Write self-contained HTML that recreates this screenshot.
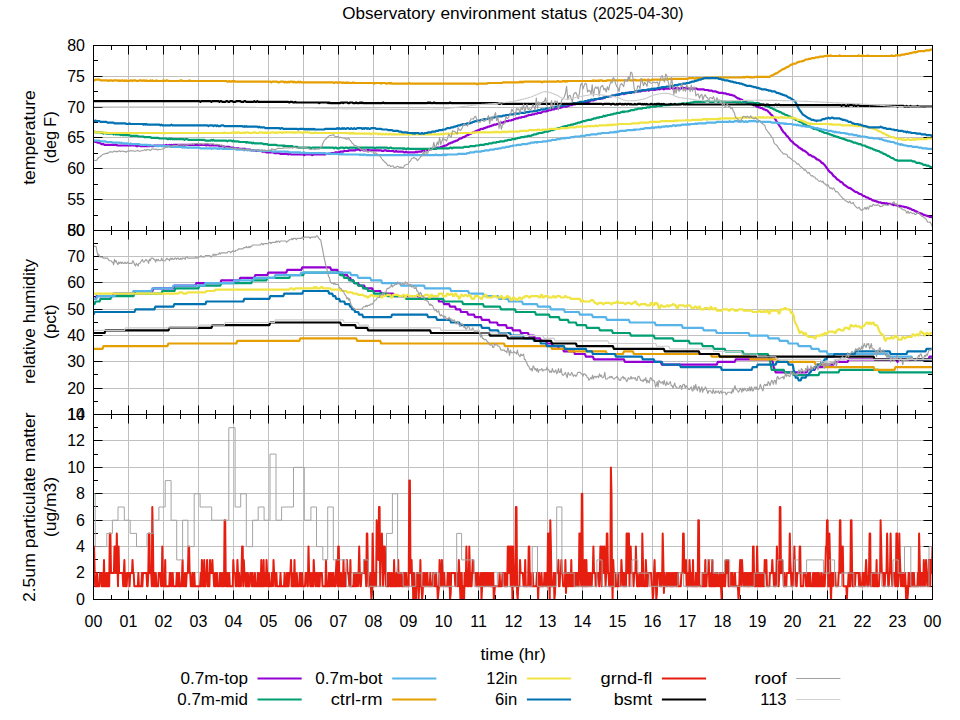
<!DOCTYPE html>
<html><head><meta charset="utf-8"><title>Observatory environment status</title>
<style>html,body{margin:0;padding:0;background:#fff;}svg{display:block}text{font-family:"Liberation Sans",sans-serif;font-size:16px;fill:#000}</style>
</head><body>
<svg width="960" height="720" viewBox="0 0 960 720">
<rect width="960" height="720" fill="#fff"/>
<text x="342.30" y="18.7" textLength="92.70" lengthAdjust="spacingAndGlyphs">Observatory</text>
<text x="440.40" y="18.7" textLength="95.20" lengthAdjust="spacingAndGlyphs">environment</text>
<text x="540.70" y="18.7" textLength="46.50" lengthAdjust="spacingAndGlyphs">status</text>
<text x="592.80" y="18.7" textLength="90.60" lengthAdjust="spacingAndGlyphs">(2025-04-30)</text>
<clipPath id="c1"><rect x="93.5" y="45.5" width="839.0" height="185.0"/></clipPath>
<clipPath id="c2"><rect x="93.5" y="230.5" width="839.0" height="184.0"/></clipPath>
<clipPath id="c3"><rect x="93.5" y="414.5" width="839.0" height="185.5"/></clipPath>
<line x1="128.5" y1="45.5" x2="128.5" y2="230.5" stroke="#c0c0c0" stroke-width="1"/>
<line x1="163.5" y1="45.5" x2="163.5" y2="230.5" stroke="#c0c0c0" stroke-width="1"/>
<line x1="198.5" y1="45.5" x2="198.5" y2="230.5" stroke="#c0c0c0" stroke-width="1"/>
<line x1="233.5" y1="45.5" x2="233.5" y2="230.5" stroke="#c0c0c0" stroke-width="1"/>
<line x1="268.5" y1="45.5" x2="268.5" y2="230.5" stroke="#c0c0c0" stroke-width="1"/>
<line x1="303.5" y1="45.5" x2="303.5" y2="230.5" stroke="#c0c0c0" stroke-width="1"/>
<line x1="338.5" y1="45.5" x2="338.5" y2="230.5" stroke="#c0c0c0" stroke-width="1"/>
<line x1="373.5" y1="45.5" x2="373.5" y2="230.5" stroke="#c0c0c0" stroke-width="1"/>
<line x1="408.5" y1="45.5" x2="408.5" y2="230.5" stroke="#c0c0c0" stroke-width="1"/>
<line x1="443.5" y1="45.5" x2="443.5" y2="230.5" stroke="#c0c0c0" stroke-width="1"/>
<line x1="478.5" y1="45.5" x2="478.5" y2="230.5" stroke="#c0c0c0" stroke-width="1"/>
<line x1="513.5" y1="45.5" x2="513.5" y2="230.5" stroke="#c0c0c0" stroke-width="1"/>
<line x1="547.5" y1="45.5" x2="547.5" y2="230.5" stroke="#c0c0c0" stroke-width="1"/>
<line x1="582.5" y1="45.5" x2="582.5" y2="230.5" stroke="#c0c0c0" stroke-width="1"/>
<line x1="617.5" y1="45.5" x2="617.5" y2="230.5" stroke="#c0c0c0" stroke-width="1"/>
<line x1="652.5" y1="45.5" x2="652.5" y2="230.5" stroke="#c0c0c0" stroke-width="1"/>
<line x1="687.5" y1="45.5" x2="687.5" y2="230.5" stroke="#c0c0c0" stroke-width="1"/>
<line x1="722.5" y1="45.5" x2="722.5" y2="230.5" stroke="#c0c0c0" stroke-width="1"/>
<line x1="757.5" y1="45.5" x2="757.5" y2="230.5" stroke="#c0c0c0" stroke-width="1"/>
<line x1="792.5" y1="45.5" x2="792.5" y2="230.5" stroke="#c0c0c0" stroke-width="1"/>
<line x1="827.5" y1="45.5" x2="827.5" y2="230.5" stroke="#c0c0c0" stroke-width="1"/>
<line x1="862.5" y1="45.5" x2="862.5" y2="230.5" stroke="#c0c0c0" stroke-width="1"/>
<line x1="897.5" y1="45.5" x2="897.5" y2="230.5" stroke="#c0c0c0" stroke-width="1"/>
<line x1="93.5" y1="199.5" x2="932.5" y2="199.5" stroke="#c0c0c0" stroke-width="1"/>
<line x1="93.5" y1="168.5" x2="932.5" y2="168.5" stroke="#c0c0c0" stroke-width="1"/>
<line x1="93.5" y1="137.5" x2="932.5" y2="137.5" stroke="#c0c0c0" stroke-width="1"/>
<line x1="93.5" y1="107.5" x2="932.5" y2="107.5" stroke="#c0c0c0" stroke-width="1"/>
<line x1="93.5" y1="76.5" x2="932.5" y2="76.5" stroke="#c0c0c0" stroke-width="1"/>
<path d="M93.5 230.5v-9 M93.5 45.5v9 M111.5 230.5v-4.5 M111.5 45.5v4.5 M128.5 230.5v-9 M128.5 45.5v9 M146.5 230.5v-4.5 M146.5 45.5v4.5 M163.5 230.5v-9 M163.5 45.5v9 M180.5 230.5v-4.5 M180.5 45.5v4.5 M198.5 230.5v-9 M198.5 45.5v9 M215.5 230.5v-4.5 M215.5 45.5v4.5 M233.5 230.5v-9 M233.5 45.5v9 M250.5 230.5v-4.5 M250.5 45.5v4.5 M268.5 230.5v-9 M268.5 45.5v9 M285.5 230.5v-4.5 M285.5 45.5v4.5 M303.5 230.5v-9 M303.5 45.5v9 M320.5 230.5v-4.5 M320.5 45.5v4.5 M338.5 230.5v-9 M338.5 45.5v9 M355.5 230.5v-4.5 M355.5 45.5v4.5 M373.5 230.5v-9 M373.5 45.5v9 M390.5 230.5v-4.5 M390.5 45.5v4.5 M408.5 230.5v-9 M408.5 45.5v9 M425.5 230.5v-4.5 M425.5 45.5v4.5 M443.5 230.5v-9 M443.5 45.5v9 M460.5 230.5v-4.5 M460.5 45.5v4.5 M478.5 230.5v-9 M478.5 45.5v9 M495.5 230.5v-4.5 M495.5 45.5v4.5 M513.5 230.5v-9 M513.5 45.5v9 M530.5 230.5v-4.5 M530.5 45.5v4.5 M547.5 230.5v-9 M547.5 45.5v9 M565.5 230.5v-4.5 M565.5 45.5v4.5 M582.5 230.5v-9 M582.5 45.5v9 M600.5 230.5v-4.5 M600.5 45.5v4.5 M617.5 230.5v-9 M617.5 45.5v9 M635.5 230.5v-4.5 M635.5 45.5v4.5 M652.5 230.5v-9 M652.5 45.5v9 M670.5 230.5v-4.5 M670.5 45.5v4.5 M687.5 230.5v-9 M687.5 45.5v9 M705.5 230.5v-4.5 M705.5 45.5v4.5 M722.5 230.5v-9 M722.5 45.5v9 M740.5 230.5v-4.5 M740.5 45.5v4.5 M757.5 230.5v-9 M757.5 45.5v9 M775.5 230.5v-4.5 M775.5 45.5v4.5 M792.5 230.5v-9 M792.5 45.5v9 M810.5 230.5v-4.5 M810.5 45.5v4.5 M827.5 230.5v-9 M827.5 45.5v9 M845.5 230.5v-4.5 M845.5 45.5v4.5 M862.5 230.5v-9 M862.5 45.5v9 M880.5 230.5v-4.5 M880.5 45.5v4.5 M897.5 230.5v-9 M897.5 45.5v9 M915.5 230.5v-4.5 M915.5 45.5v4.5 M932.5 230.5v-9 M932.5 45.5v9 M93.5 230.5h9 M932.5 230.5h-9 M93.5 199.5h9 M932.5 199.5h-9 M93.5 168.5h9 M932.5 168.5h-9 M93.5 137.5h9 M932.5 137.5h-9 M93.5 107.5h9 M932.5 107.5h-9 M93.5 76.5h9 M932.5 76.5h-9 M93.5 45.5h9 M932.5 45.5h-9 M93.5 215.5h4.5 M932.5 215.5h-4.5 M93.5 184.5h4.5 M932.5 184.5h-4.5 M93.5 153.5h4.5 M932.5 153.5h-4.5 M93.5 122.5h4.5 M932.5 122.5h-4.5 M93.5 91.5h4.5 M932.5 91.5h-4.5 M93.5 60.5h4.5 M932.5 60.5h-4.5" stroke="#000" stroke-width="1" fill="none"/>
<g clip-path="url(#c1)">
<path d="M93.5 141.3L94.5 141.3L95.5 142.0L96.5 142.0L97.5 142.7L98.5 142.7L99.5 142.7L100.5 143.4L101.5 144.1L102.5 144.1L103.5 144.1L104.5 144.8L105.5 144.8L106.5 144.8L107.5 144.8L108.5 144.8L109.5 144.8L110.5 144.8L111.5 144.8L112.5 144.8L113.5 144.8L114.5 144.8L115.5 144.8L116.5 144.8L117.5 145.5L118.5 145.5L119.5 145.5L120.5 145.5L121.5 145.5L122.5 145.5L123.5 145.5L124.5 145.5L125.5 145.5L126.5 145.5L127.5 145.5L128.5 145.5L129.5 145.5L130.5 145.5L131.5 145.5L132.5 145.5L133.5 145.5L134.5 145.5L135.4 145.5L136.4 146.2L137.4 146.2L138.4 145.5L139.4 145.5L140.4 146.2L141.4 146.2L142.4 146.2L143.4 146.2L144.4 146.2L145.4 146.2L146.4 146.2L147.4 146.2L148.4 146.2L149.4 146.2L150.4 145.5L151.4 146.2L152.4 146.2L153.4 146.2L154.4 145.5L155.4 145.5L156.4 145.5L157.4 145.5L158.4 145.5L159.4 145.5L160.4 145.5L161.4 145.5L162.4 145.5L163.4 145.5L164.4 145.5L165.4 145.5L166.4 144.8L167.4 145.5L168.4 145.5L169.4 144.8L170.4 145.5L171.4 144.8L172.4 145.5L173.4 144.8L174.4 144.8L175.4 144.8L176.4 144.8L177.4 144.8L178.4 144.8L179.4 144.8L180.4 144.8L181.4 144.8L182.4 144.8L183.4 144.8L184.4 144.8L185.4 144.8L186.4 144.8L187.4 144.8L188.4 144.8L189.4 144.8L190.4 144.8L191.4 144.8L192.4 144.8L193.4 144.8L194.4 144.8L195.4 144.8L196.4 144.8L197.4 144.8L198.4 144.8L199.4 144.8L200.4 144.8L201.4 144.8L202.4 144.8L203.4 144.8L204.4 144.8L205.4 144.8L206.4 145.5L207.4 144.8L208.4 144.8L209.4 145.5L210.4 145.5L211.4 145.5L212.4 144.8L213.4 145.5L214.4 145.5L215.4 145.5L216.4 145.5L217.4 145.5L218.4 145.5L219.4 146.2L220.3 146.2L221.3 146.2L222.3 146.2L223.3 146.2L224.3 146.9L225.3 146.9L226.3 146.9L227.3 146.9L228.3 146.9L229.3 146.9L230.3 147.6L231.3 147.6L232.3 147.6L233.3 147.6L234.3 148.3L235.3 148.3L236.3 148.3L237.3 148.3L238.3 148.3L239.3 148.9L240.3 148.9L241.3 148.9L242.3 148.9L243.3 148.9L244.3 148.9L245.3 148.9L246.3 149.6L247.3 149.6L248.3 149.6L249.3 149.6L250.3 149.6L251.3 150.3L252.3 150.3L253.3 150.3L254.3 150.3L255.3 150.3L256.3 151.0L257.3 150.3L258.3 151.0L259.3 151.0L260.3 151.0L261.3 151.0L262.3 151.7L263.3 151.7L264.3 151.7L265.3 151.7L266.3 152.4L267.3 152.4L268.3 152.4L269.3 152.4L270.3 152.4L271.3 152.4L272.3 152.4L273.3 152.4L274.3 153.1L275.3 153.1L276.3 153.1L277.3 153.1L278.3 153.1L279.3 153.1L280.3 153.8L281.3 153.8L282.3 153.8L283.3 153.8L284.3 153.8L285.3 153.8L286.3 153.8L287.3 153.8L288.3 154.5L289.3 153.8L290.3 153.8L291.3 154.5L292.3 154.5L293.3 154.5L294.3 154.5L295.3 154.5L296.3 154.5L297.3 154.5L298.3 154.5L299.3 154.5L300.3 154.5L301.3 154.5L302.3 154.5L303.2 154.5L304.2 155.2L305.2 154.5L306.2 154.5L307.2 154.5L308.2 154.5L309.2 154.5L310.2 154.5L311.2 154.5L312.2 155.2L313.2 154.5L314.2 154.5L315.2 154.5L316.2 154.5L317.2 154.5L318.2 154.5L319.2 154.5L320.2 154.5L321.2 154.5L322.2 154.5L323.2 154.5L324.2 154.5L325.2 154.5L326.2 153.8L327.2 153.8L328.2 153.8L329.2 153.8L330.2 153.8L331.2 153.1L332.2 153.1L333.2 153.1L334.2 153.1L335.2 152.4L336.2 152.4L337.2 152.4L338.2 152.4L339.2 152.4L340.2 151.7L341.2 151.7L342.2 151.7L343.2 151.7L344.2 151.0L345.2 151.0L346.2 151.0L347.2 151.0L348.2 151.0L349.2 150.3L350.2 150.3L351.2 150.3L352.2 150.3L353.2 150.3L354.2 150.3L355.2 150.3L356.2 149.6L357.2 149.6L358.2 149.6L359.2 149.6L360.2 150.3L361.2 149.6L362.2 149.6L363.2 150.3L364.2 150.3L365.2 150.3L366.2 150.3L367.2 150.3L368.2 149.6L369.2 150.3L370.2 150.3L371.2 150.3L372.2 150.3L373.2 150.3L374.2 150.3L375.2 150.3L376.2 150.3L377.2 150.3L378.2 150.3L379.2 150.3L380.2 150.3L381.2 150.3L382.2 151.0L383.2 151.0L384.2 150.3L385.2 150.3L386.2 150.3L387.2 151.0L388.1 151.0L389.1 151.0L390.1 151.0L391.1 151.0L392.1 151.0L393.1 151.0L394.1 151.7L395.1 151.7L396.1 151.0L397.1 151.7L398.1 151.7L399.1 151.7L400.1 151.7L401.1 151.7L402.1 151.7L403.1 151.7L404.1 152.4L405.1 152.4L406.1 151.7L407.1 152.4L408.1 152.4L409.1 152.4L410.1 152.4L411.1 152.4L412.1 152.4L413.1 152.4L414.1 152.4L415.1 152.4L416.1 151.7L417.1 152.4L418.1 151.7L419.1 151.7L420.1 151.7L421.1 151.7L422.1 151.0L423.1 151.0L424.1 151.0L425.1 150.3L426.1 150.3L427.1 150.3L428.1 149.6L429.1 149.6L430.1 148.9L431.1 148.9L432.1 148.9L433.1 148.9L434.1 148.9L435.1 148.9L436.1 148.3L437.1 147.6L438.1 147.6L439.1 147.6L440.1 147.6L441.1 146.9L442.1 146.9L443.1 146.2L444.1 146.2L445.1 145.5L446.1 145.5L447.1 144.8L448.1 144.1L449.1 143.4L450.1 143.4L451.1 142.7L452.1 142.7L453.1 142.0L454.1 141.3L455.1 141.3L456.1 140.6L457.1 140.6L458.1 139.9L459.1 139.2L460.1 138.5L461.1 138.5L462.1 137.8L463.1 137.2L464.1 137.2L465.1 136.5L466.1 135.8L467.1 135.1L468.1 135.1L469.1 134.4L470.1 133.7L471.1 133.7L472.0 133.0L473.0 132.3L474.0 132.3L475.0 131.6L476.0 130.9L477.0 130.9L478.0 130.2L479.0 130.2L480.0 129.5L481.0 128.8L482.0 128.8L483.0 128.8L484.0 128.1L485.0 128.1L486.0 127.4L487.0 127.4L488.0 126.7L489.0 126.7L490.0 126.1L491.0 126.1L492.0 125.4L493.0 125.4L494.0 124.7L495.0 124.7L496.0 124.7L497.0 124.0L498.0 124.0L499.0 123.3L500.0 123.3L501.0 122.6L502.0 122.6L503.0 122.6L504.0 121.9L505.0 121.9L506.0 121.2L507.0 121.2L508.0 121.2L509.0 120.5L510.0 120.5L511.0 120.5L512.0 119.8L513.0 119.8L514.0 119.1L515.0 119.1L516.0 118.4L517.0 118.4L518.0 118.4L519.0 117.7L520.0 117.7L521.0 117.7L522.0 117.0L523.0 117.0L524.0 117.0L525.0 116.3L526.0 116.3L527.0 115.6L528.0 115.6L529.0 115.0L530.0 115.0L531.0 115.0L532.0 114.3L533.0 114.3L534.0 114.3L535.0 113.6L536.0 113.6L537.0 113.6L538.0 112.9L539.0 112.9L540.0 112.9L541.0 112.9L542.0 112.2L543.0 111.5L544.0 111.5L545.0 111.5L546.0 111.5L547.0 110.8L548.0 110.8L549.0 110.1L550.0 110.1L551.0 110.1L552.0 109.4L553.0 109.4L554.0 109.4L555.0 108.7L555.9 108.7L556.9 108.7L557.9 108.0L558.9 108.0L559.9 108.0L560.9 107.3L561.9 107.3L562.9 106.6L563.9 106.6L564.9 106.6L565.9 106.6L566.9 106.6L567.9 105.9L568.9 105.9L569.9 105.2L570.9 105.2L571.9 105.2L572.9 104.5L573.9 104.5L574.9 104.5L575.9 103.9L576.9 103.9L577.9 103.9L578.9 103.2L579.9 103.2L580.9 103.2L581.9 102.5L582.9 102.5L583.9 102.5L584.9 102.5L585.9 101.8L586.9 101.8L587.9 101.8L588.9 101.8L589.9 101.1L590.9 100.4L591.9 100.4L592.9 100.4L593.9 100.4L594.9 99.7L595.9 99.7L596.9 99.0L597.9 99.0L598.9 99.0L599.9 99.0L600.9 98.3L601.9 98.3L602.9 98.3L603.9 97.6L604.9 97.6L605.9 96.9L606.9 96.9L607.9 96.9L608.9 96.2L609.9 96.2L610.9 96.2L611.9 96.2L612.9 95.5L613.9 95.5L614.9 95.5L615.9 94.8L616.9 94.8L617.9 94.8L618.9 94.8L619.9 94.1L620.9 94.1L621.9 93.4L622.9 93.4L623.9 94.1L624.9 93.4L625.9 93.4L626.9 93.4L627.9 92.8L628.9 92.8L629.9 92.8L630.9 92.8L631.9 92.1L632.9 92.1L633.9 92.1L634.9 92.1L635.9 91.4L636.9 91.4L637.9 91.4L638.9 91.4L639.8 91.4L640.8 91.4L641.8 90.7L642.8 90.7L643.8 90.7L644.8 90.7L645.8 90.7L646.8 90.0L647.8 90.0L648.8 90.7L649.8 90.0L650.8 90.0L651.8 89.3L652.8 89.3L653.8 90.0L654.8 90.0L655.8 89.3L656.8 89.3L657.8 89.3L658.8 88.6L659.8 89.3L660.8 88.6L661.8 88.6L662.8 88.6L663.8 89.3L664.8 88.6L665.8 88.6L666.8 88.6L667.8 88.6L668.8 88.6L669.8 88.6L670.8 87.9L671.8 87.9L672.8 88.6L673.8 88.6L674.8 88.6L675.8 87.9L676.8 88.6L677.8 87.9L678.8 88.6L679.8 88.6L680.8 88.6L681.8 87.9L682.8 87.9L683.8 87.9L684.8 88.6L685.8 87.9L686.8 88.6L687.8 87.9L688.8 88.6L689.8 88.6L690.8 88.6L691.8 88.6L692.8 88.6L693.8 88.6L694.8 88.6L695.8 88.6L696.8 88.6L697.8 89.3L698.8 89.3L699.8 89.3L700.8 89.3L701.8 89.3L702.8 89.3L703.8 89.3L704.8 90.0L705.8 90.0L706.8 90.0L707.8 90.0L708.8 90.7L709.8 90.7L710.8 90.7L711.8 90.7L712.8 91.4L713.8 91.4L714.8 91.4L715.8 91.4L716.8 92.1L717.8 92.1L718.8 92.8L719.8 92.8L720.8 92.8L721.8 92.8L722.8 92.8L723.7 93.4L724.7 93.4L725.7 93.4L726.7 94.1L727.7 94.1L728.7 94.1L729.7 94.8L730.7 94.8L731.7 94.8L732.7 95.5L733.7 95.5L734.7 96.2L735.7 96.9L736.7 97.6L737.7 98.3L738.7 98.3L739.7 99.0L740.7 99.7L741.7 99.7L742.7 100.4L743.7 101.1L744.7 101.1L745.7 101.8L746.7 102.5L747.7 103.2L748.7 103.2L749.7 103.9L750.7 103.9L751.7 104.5L752.7 104.5L753.7 105.2L754.7 105.2L755.7 105.9L756.7 106.6L757.7 106.6L758.7 107.3L759.7 107.3L760.7 108.0L761.7 108.0L762.7 108.7L763.7 109.4L764.7 109.4L765.7 110.1L766.7 110.1L767.7 110.8L768.7 112.2L769.7 112.9L770.7 114.3L771.7 115.0L772.7 116.3L773.7 117.0L774.7 118.4L775.7 119.8L776.7 121.9L777.7 123.3L778.7 124.7L779.7 126.1L780.7 127.4L781.7 129.5L782.7 130.9L783.7 132.3L784.7 133.0L785.7 134.4L786.7 135.8L787.7 136.5L788.7 137.8L789.7 139.2L790.7 140.6L791.7 141.3L792.7 142.0L793.7 143.4L794.7 144.1L795.7 144.8L796.7 145.5L797.7 146.2L798.7 147.6L799.7 147.6L800.7 148.9L801.7 148.9L802.7 150.3L803.7 150.3L804.7 151.0L805.7 151.7L806.6 152.4L807.6 153.1L808.6 154.5L809.6 155.2L810.6 155.2L811.6 155.9L812.6 156.6L813.6 156.6L814.6 157.3L815.6 158.0L816.6 159.4L817.6 159.4L818.6 160.0L819.6 160.7L820.6 161.4L821.6 162.8L822.6 162.8L823.6 164.2L824.6 164.9L825.6 166.3L826.6 167.7L827.6 169.1L828.6 170.5L829.6 171.8L830.6 172.5L831.6 173.2L832.6 174.6L833.6 176.0L834.6 176.7L835.6 177.4L836.6 178.8L837.6 179.5L838.6 180.2L839.6 180.9L840.6 182.2L841.6 182.2L842.6 182.9L843.6 184.3L844.6 185.0L845.6 185.7L846.6 186.4L847.6 187.1L848.6 187.8L849.6 187.8L850.6 188.5L851.6 189.2L852.6 189.9L853.6 190.6L854.6 191.3L855.6 192.0L856.6 192.0L857.6 192.7L858.6 193.3L859.6 194.0L860.6 194.0L861.6 194.7L862.6 195.4L863.6 196.1L864.6 196.1L865.6 196.8L866.6 197.5L867.6 197.5L868.6 198.2L869.6 198.9L870.6 198.9L871.6 199.6L872.6 200.3L873.6 200.3L874.6 201.0L875.6 201.0L876.6 201.7L877.6 201.7L878.6 202.4L879.6 202.4L880.6 202.4L881.6 203.1L882.6 203.1L883.6 203.1L884.6 203.1L885.6 203.8L886.6 203.1L887.6 203.8L888.6 203.8L889.6 203.8L890.6 203.8L891.5 204.4L892.5 204.4L893.5 205.1L894.5 204.4L895.5 205.1L896.5 205.1L897.5 205.8L898.5 205.8L899.5 205.8L900.5 205.8L901.5 206.5L902.5 206.5L903.5 206.5L904.5 207.2L905.5 207.2L906.5 207.2L907.5 207.9L908.5 207.9L909.5 208.6L910.5 208.6L911.5 209.3L912.5 210.0L913.5 210.0L914.5 210.7L915.5 211.4L916.5 211.4L917.5 212.1L918.5 212.8L919.5 212.8L920.5 213.5L921.5 213.5L922.5 214.2L923.5 214.9L924.5 214.9L925.5 215.5L926.5 215.5L927.5 216.2L928.5 216.2L929.5 216.9L930.5 216.9L931.5 216.9L932.5 217.6" stroke="#9400D3" stroke-width="2.2" fill="none" stroke-linejoin="round" stroke-linecap="butt"/>
<path d="M93.5 131.6L94.5 131.6L95.5 132.3L96.5 132.3L97.5 132.3L98.5 132.3L99.5 132.3L100.5 132.3L101.5 133.0L102.5 132.3L103.5 133.7L104.5 133.0L105.5 133.0L106.5 133.7L107.5 133.7L108.5 133.7L109.5 133.7L110.5 133.7L111.5 133.7L112.5 133.7L113.5 134.4L114.5 133.7L115.5 134.4L116.5 134.4L117.5 134.4L118.5 134.4L119.5 134.4L120.5 135.1L121.5 134.4L122.5 135.1L123.5 135.1L124.5 135.1L125.5 135.1L126.5 135.1L127.5 135.1L128.5 135.1L129.5 135.1L130.5 135.8L131.5 135.8L132.5 135.8L133.5 135.8L134.5 135.8L135.4 135.8L136.4 135.8L137.4 135.8L138.4 136.5L139.4 136.5L140.4 136.5L141.4 136.5L142.4 136.5L143.4 136.5L144.4 137.2L145.4 137.2L146.4 137.2L147.4 137.2L148.4 137.2L149.4 137.2L150.4 137.2L151.4 137.8L152.4 137.8L153.4 137.8L154.4 137.8L155.4 137.8L156.4 137.8L157.4 137.8L158.4 137.8L159.4 138.5L160.4 138.5L161.4 138.5L162.4 138.5L163.4 138.5L164.4 138.5L165.4 138.5L166.4 138.5L167.4 139.2L168.4 139.2L169.4 138.5L170.4 139.2L171.4 138.5L172.4 139.2L173.4 139.2L174.4 139.2L175.4 139.2L176.4 139.2L177.4 139.2L178.4 139.2L179.4 139.2L180.4 139.2L181.4 139.2L182.4 139.2L183.4 139.2L184.4 139.9L185.4 139.2L186.4 139.2L187.4 139.2L188.4 139.9L189.4 139.9L190.4 139.9L191.4 139.9L192.4 139.9L193.4 139.9L194.4 139.9L195.4 139.9L196.4 139.9L197.4 139.9L198.4 139.9L199.4 139.9L200.4 139.9L201.4 139.9L202.4 139.9L203.4 139.9L204.4 139.9L205.4 140.6L206.4 140.6L207.4 140.6L208.4 140.6L209.4 140.6L210.4 140.6L211.4 139.9L212.4 140.6L213.4 139.9L214.4 140.6L215.4 140.6L216.4 140.6L217.4 140.6L218.4 140.6L219.4 140.6L220.3 140.6L221.3 140.6L222.3 140.6L223.3 140.6L224.3 140.6L225.3 140.6L226.3 140.6L227.3 141.3L228.3 140.6L229.3 140.6L230.3 140.6L231.3 140.6L232.3 141.3L233.3 140.6L234.3 141.3L235.3 141.3L236.3 141.3L237.3 141.3L238.3 141.3L239.3 142.0L240.3 142.0L241.3 142.0L242.3 142.0L243.3 142.0L244.3 142.0L245.3 142.0L246.3 142.7L247.3 142.0L248.3 142.7L249.3 142.7L250.3 142.7L251.3 142.7L252.3 143.4L253.3 142.7L254.3 143.4L255.3 143.4L256.3 143.4L257.3 143.4L258.3 143.4L259.3 143.4L260.3 143.4L261.3 143.4L262.3 143.4L263.3 144.1L264.3 144.1L265.3 144.1L266.3 144.1L267.3 144.1L268.3 144.8L269.3 144.8L270.3 144.8L271.3 144.8L272.3 144.8L273.3 144.8L274.3 144.8L275.3 144.8L276.3 144.8L277.3 145.5L278.3 145.5L279.3 145.5L280.3 145.5L281.3 145.5L282.3 145.5L283.3 146.2L284.3 145.5L285.3 146.2L286.3 146.2L287.3 146.2L288.3 146.2L289.3 146.2L290.3 146.2L291.3 146.2L292.3 146.2L293.3 146.9L294.3 146.9L295.3 146.9L296.3 146.9L297.3 146.9L298.3 147.6L299.3 147.6L300.3 147.6L301.3 147.6L302.3 147.6L303.2 147.6L304.2 147.6L305.2 147.6L306.2 147.6L307.2 147.6L308.2 147.6L309.2 147.6L310.2 147.6L311.2 148.3L312.2 147.6L313.2 147.6L314.2 147.6L315.2 147.6L316.2 147.6L317.2 147.6L318.2 147.6L319.2 147.6L320.2 147.6L321.2 147.6L322.2 147.6L323.2 147.6L324.2 147.6L325.2 147.6L326.2 147.6L327.2 147.6L328.2 147.6L329.2 147.6L330.2 147.6L331.2 147.6L332.2 147.6L333.2 147.6L334.2 148.3L335.2 147.6L336.2 147.6L337.2 148.3L338.2 148.3L339.2 148.3L340.2 147.6L341.2 147.6L342.2 147.6L343.2 147.6L344.2 148.3L345.2 147.6L346.2 147.6L347.2 147.6L348.2 148.3L349.2 147.6L350.2 147.6L351.2 147.6L352.2 147.6L353.2 147.6L354.2 147.6L355.2 147.6L356.2 148.3L357.2 147.6L358.2 147.6L359.2 147.6L360.2 147.6L361.2 147.6L362.2 147.6L363.2 147.6L364.2 147.6L365.2 147.6L366.2 147.6L367.2 147.6L368.2 147.6L369.2 147.6L370.2 147.6L371.2 147.6L372.2 147.6L373.2 147.6L374.2 147.6L375.2 148.3L376.2 147.6L377.2 147.6L378.2 147.6L379.2 147.6L380.2 147.6L381.2 147.6L382.2 147.6L383.2 147.6L384.2 147.6L385.2 147.6L386.2 147.6L387.2 147.6L388.1 148.3L389.1 148.3L390.1 147.6L391.1 147.6L392.1 148.3L393.1 148.3L394.1 148.3L395.1 148.3L396.1 148.3L397.1 148.3L398.1 148.3L399.1 148.3L400.1 148.3L401.1 148.3L402.1 148.3L403.1 148.9L404.1 148.3L405.1 148.9L406.1 148.9L407.1 148.9L408.1 148.3L409.1 148.9L410.1 148.9L411.1 148.9L412.1 148.9L413.1 148.9L414.1 148.9L415.1 148.9L416.1 148.9L417.1 148.9L418.1 148.9L419.1 148.9L420.1 148.9L421.1 148.9L422.1 148.9L423.1 148.9L424.1 148.9L425.1 148.9L426.1 148.9L427.1 148.9L428.1 148.9L429.1 148.9L430.1 148.9L431.1 148.9L432.1 148.9L433.1 148.9L434.1 148.9L435.1 148.3L436.1 148.9L437.1 148.3L438.1 148.3L439.1 148.3L440.1 148.3L441.1 148.3L442.1 148.3L443.1 148.3L444.1 148.3L445.1 148.3L446.1 148.3L447.1 148.3L448.1 148.3L449.1 148.3L450.1 147.6L451.1 147.6L452.1 148.3L453.1 147.6L454.1 147.6L455.1 147.6L456.1 147.6L457.1 147.6L458.1 147.6L459.1 147.6L460.1 147.6L461.1 147.6L462.1 147.6L463.1 147.6L464.1 146.9L465.1 146.9L466.1 146.9L467.1 146.9L468.1 146.9L469.1 146.9L470.1 146.2L471.1 146.2L472.0 146.2L473.0 146.2L474.0 146.2L475.0 146.2L476.0 145.5L477.0 145.5L478.0 145.5L479.0 145.5L480.0 144.8L481.0 144.8L482.0 144.8L483.0 144.8L484.0 144.8L485.0 144.1L486.0 144.1L487.0 144.1L488.0 144.1L489.0 143.4L490.0 143.4L491.0 143.4L492.0 143.4L493.0 142.7L494.0 142.7L495.0 142.7L496.0 142.7L497.0 142.0L498.0 142.0L499.0 142.0L500.0 141.3L501.0 141.3L502.0 141.3L503.0 141.3L504.0 141.3L505.0 140.6L506.0 140.6L507.0 140.6L508.0 139.9L509.0 139.9L510.0 139.9L511.0 139.9L512.0 139.2L513.0 139.2L514.0 139.2L515.0 139.2L516.0 138.5L517.0 138.5L518.0 137.8L519.0 137.8L520.0 137.8L521.0 137.2L522.0 137.2L523.0 137.2L524.0 137.2L525.0 136.5L526.0 136.5L527.0 136.5L528.0 135.8L529.0 135.8L530.0 135.8L531.0 135.8L532.0 135.1L533.0 135.1L534.0 134.4L535.0 134.4L536.0 134.4L537.0 133.7L538.0 133.7L539.0 133.0L540.0 133.0L541.0 133.0L542.0 133.0L543.0 132.3L544.0 132.3L545.0 131.6L546.0 131.6L547.0 131.6L548.0 131.6L549.0 130.9L550.0 130.9L551.0 130.2L552.0 130.2L553.0 130.2L554.0 129.5L555.0 129.5L555.9 128.8L556.9 128.8L557.9 128.1L558.9 128.1L559.9 128.1L560.9 127.4L561.9 127.4L562.9 126.7L563.9 126.7L564.9 126.1L565.9 126.1L566.9 126.1L567.9 125.4L568.9 125.4L569.9 125.4L570.9 124.7L571.9 124.7L572.9 124.7L573.9 124.0L574.9 124.0L575.9 123.3L576.9 123.3L577.9 122.6L578.9 122.6L579.9 122.6L580.9 121.9L581.9 121.9L582.9 121.2L583.9 121.2L584.9 121.2L585.9 120.5L586.9 120.5L587.9 119.8L588.9 119.8L589.9 119.8L590.9 119.8L591.9 119.1L592.9 119.1L593.9 118.4L594.9 118.4L595.9 118.4L596.9 117.7L597.9 117.7L598.9 117.7L599.9 117.0L600.9 117.0L601.9 117.0L602.9 116.3L603.9 115.6L604.9 116.3L605.9 115.6L606.9 115.6L607.9 115.0L608.9 115.0L609.9 115.0L610.9 114.3L611.9 114.3L612.9 114.3L613.9 113.6L614.9 113.6L615.9 113.6L616.9 112.9L617.9 112.9L618.9 112.9L619.9 112.9L620.9 112.2L621.9 112.2L622.9 111.5L623.9 112.2L624.9 111.5L625.9 111.5L626.9 111.5L627.9 111.5L628.9 110.8L629.9 110.8L630.9 110.1L631.9 110.1L632.9 110.1L633.9 110.1L634.9 109.4L635.9 109.4L636.9 109.4L637.9 108.7L638.9 108.7L639.8 108.7L640.8 108.7L641.8 108.7L642.8 108.0L643.8 108.0L644.8 108.0L645.8 108.0L646.8 107.3L647.8 107.3L648.8 107.3L649.8 107.3L650.8 106.6L651.8 106.6L652.8 106.6L653.8 106.6L654.8 106.6L655.8 106.6L656.8 105.9L657.8 105.9L658.8 105.9L659.8 105.9L660.8 105.9L661.8 105.9L662.8 105.2L663.8 105.2L664.8 105.2L665.8 105.2L666.8 105.2L667.8 105.2L668.8 104.5L669.8 105.2L670.8 104.5L671.8 104.5L672.8 104.5L673.8 104.5L674.8 104.5L675.8 104.5L676.8 104.5L677.8 104.5L678.8 103.9L679.8 103.9L680.8 103.9L681.8 103.9L682.8 103.9L683.8 103.2L684.8 103.9L685.8 103.9L686.8 103.2L687.8 103.2L688.8 103.2L689.8 103.2L690.8 102.5L691.8 102.5L692.8 102.5L693.8 101.8L694.8 101.8L695.8 101.8L696.8 101.8L697.8 101.8L698.8 101.8L699.8 101.8L700.8 101.8L701.8 101.8L702.8 101.8L703.8 101.8L704.8 101.8L705.8 101.1L706.8 101.1L707.8 101.1L708.8 101.1L709.8 101.8L710.8 101.8L711.8 101.8L712.8 101.8L713.8 101.8L714.8 101.1L715.8 101.1L716.8 101.1L717.8 101.8L718.8 101.8L719.8 101.1L720.8 101.1L721.8 101.1L722.8 101.8L723.7 101.8L724.7 101.1L725.7 101.8L726.7 101.8L727.7 101.8L728.7 101.8L729.7 101.8L730.7 101.8L731.7 101.8L732.7 101.8L733.7 101.8L734.7 101.8L735.7 101.8L736.7 102.5L737.7 101.8L738.7 102.5L739.7 101.8L740.7 102.5L741.7 102.5L742.7 102.5L743.7 101.8L744.7 102.5L745.7 102.5L746.7 102.5L747.7 102.5L748.7 102.5L749.7 102.5L750.7 102.5L751.7 102.5L752.7 102.5L753.7 103.2L754.7 103.2L755.7 103.2L756.7 103.2L757.7 103.2L758.7 103.2L759.7 103.9L760.7 104.5L761.7 104.5L762.7 104.5L763.7 105.2L764.7 105.2L765.7 105.9L766.7 105.9L767.7 106.6L768.7 106.6L769.7 107.3L770.7 108.0L771.7 108.0L772.7 108.7L773.7 109.4L774.7 109.4L775.7 110.1L776.7 110.8L777.7 110.8L778.7 111.5L779.7 112.2L780.7 112.2L781.7 112.9L782.7 113.6L783.7 113.6L784.7 114.3L785.7 115.0L786.7 115.0L787.7 115.6L788.7 116.3L789.7 116.3L790.7 117.0L791.7 117.7L792.7 117.7L793.7 118.4L794.7 119.1L795.7 119.8L796.7 119.8L797.7 120.5L798.7 121.2L799.7 121.9L800.7 121.9L801.7 122.6L802.7 123.3L803.7 124.0L804.7 124.7L805.7 124.7L806.6 125.4L807.6 126.1L808.6 126.1L809.6 126.7L810.6 126.7L811.6 127.4L812.6 128.1L813.6 128.8L814.6 128.8L815.6 128.8L816.6 129.5L817.6 129.5L818.6 130.2L819.6 130.9L820.6 130.9L821.6 131.6L822.6 131.6L823.6 132.3L824.6 133.0L825.6 133.0L826.6 133.0L827.6 133.7L828.6 133.7L829.6 134.4L830.6 134.4L831.6 135.1L832.6 135.1L833.6 135.8L834.6 135.8L835.6 136.5L836.6 136.5L837.6 137.2L838.6 137.2L839.6 137.8L840.6 137.8L841.6 138.5L842.6 138.5L843.6 139.2L844.6 139.2L845.6 139.9L846.6 139.9L847.6 140.6L848.6 140.6L849.6 140.6L850.6 141.3L851.6 141.3L852.6 142.0L853.6 142.7L854.6 142.7L855.6 142.7L856.6 143.4L857.6 143.4L858.6 144.1L859.6 144.1L860.6 144.1L861.6 144.8L862.6 145.5L863.6 145.5L864.6 145.5L865.6 146.2L866.6 146.9L867.6 146.9L868.6 147.6L869.6 147.6L870.6 148.3L871.6 148.3L872.6 148.9L873.6 149.6L874.6 149.6L875.6 150.3L876.6 150.3L877.6 151.0L878.6 151.0L879.6 151.7L880.6 152.4L881.6 152.4L882.6 153.1L883.6 153.8L884.6 153.8L885.6 154.5L886.6 155.2L887.6 155.9L888.6 155.9L889.6 156.6L890.6 157.3L891.5 158.0L892.5 158.0L893.5 158.7L894.5 159.4L895.5 160.0L896.5 160.0L897.5 160.7L898.5 160.7L899.5 160.7L900.5 160.7L901.5 160.7L902.5 160.7L903.5 160.7L904.5 160.7L905.5 160.7L906.5 160.7L907.5 160.7L908.5 160.7L909.5 160.7L910.5 160.7L911.5 160.7L912.5 161.4L913.5 161.4L914.5 161.4L915.5 162.1L916.5 162.8L917.5 162.8L918.5 162.8L919.5 162.8L920.5 163.5L921.5 163.5L922.5 164.2L923.5 164.9L924.5 164.9L925.5 164.9L926.5 165.6L927.5 165.6L928.5 165.6L929.5 166.3L930.5 167.0L931.5 167.0L932.5 167.0" stroke="#009E73" stroke-width="2.2" fill="none" stroke-linejoin="round" stroke-linecap="butt"/>
<path d="M93.5 139.9L94.5 140.6L95.5 140.6L96.5 140.6L97.5 140.6L98.5 140.6L99.5 140.6L100.5 141.3L101.5 141.3L102.5 141.3L103.5 141.3L104.5 141.3L105.5 141.3L106.5 142.0L107.5 142.0L108.5 142.0L109.5 142.0L110.5 142.0L111.5 142.0L112.5 142.7L113.5 142.7L114.5 142.7L115.5 142.7L116.5 142.7L117.5 142.7L118.5 142.7L119.5 142.7L120.5 143.4L121.5 142.7L122.5 143.4L123.5 143.4L124.5 143.4L125.5 143.4L126.5 143.4L127.5 143.4L128.5 144.1L129.5 144.1L130.5 143.4L131.5 144.1L132.5 144.1L133.5 144.1L134.5 144.1L135.4 144.1L136.4 144.1L137.4 144.1L138.4 144.1L139.4 144.1L140.4 144.8L141.4 144.8L142.4 144.8L143.4 144.8L144.4 144.8L145.4 144.8L146.4 144.8L147.4 144.8L148.4 145.5L149.4 144.8L150.4 145.5L151.4 145.5L152.4 145.5L153.4 145.5L154.4 145.5L155.4 145.5L156.4 146.2L157.4 146.2L158.4 146.2L159.4 145.5L160.4 145.5L161.4 146.2L162.4 146.2L163.4 146.2L164.4 146.2L165.4 146.2L166.4 146.2L167.4 146.2L168.4 146.2L169.4 146.2L170.4 146.9L171.4 146.9L172.4 146.9L173.4 146.9L174.4 146.9L175.4 146.9L176.4 146.9L177.4 146.9L178.4 146.9L179.4 146.9L180.4 146.9L181.4 146.9L182.4 147.6L183.4 146.9L184.4 147.6L185.4 146.9L186.4 147.6L187.4 147.6L188.4 147.6L189.4 147.6L190.4 147.6L191.4 147.6L192.4 147.6L193.4 147.6L194.4 147.6L195.4 147.6L196.4 147.6L197.4 147.6L198.4 147.6L199.4 147.6L200.4 148.3L201.4 148.3L202.4 148.3L203.4 148.3L204.4 148.3L205.4 148.3L206.4 148.3L207.4 148.3L208.4 148.3L209.4 148.3L210.4 148.3L211.4 148.9L212.4 148.3L213.4 148.3L214.4 148.3L215.4 148.3L216.4 148.3L217.4 148.9L218.4 148.3L219.4 148.9L220.3 148.3L221.3 148.3L222.3 148.9L223.3 148.9L224.3 148.9L225.3 148.9L226.3 148.9L227.3 148.9L228.3 148.9L229.3 148.9L230.3 148.9L231.3 148.9L232.3 148.9L233.3 148.9L234.3 148.9L235.3 148.9L236.3 149.6L237.3 149.6L238.3 149.6L239.3 149.6L240.3 149.6L241.3 149.6L242.3 149.6L243.3 149.6L244.3 150.3L245.3 149.6L246.3 149.6L247.3 150.3L248.3 149.6L249.3 150.3L250.3 150.3L251.3 150.3L252.3 150.3L253.3 150.3L254.3 150.3L255.3 150.3L256.3 150.3L257.3 150.3L258.3 150.3L259.3 151.0L260.3 151.0L261.3 151.0L262.3 150.3L263.3 151.0L264.3 151.0L265.3 151.0L266.3 151.0L267.3 151.0L268.3 151.0L269.3 151.0L270.3 151.0L271.3 151.0L272.3 151.7L273.3 151.7L274.3 151.7L275.3 151.7L276.3 151.7L277.3 151.7L278.3 151.7L279.3 151.7L280.3 151.7L281.3 151.7L282.3 151.7L283.3 151.7L284.3 151.7L285.3 151.7L286.3 151.7L287.3 151.7L288.3 151.7L289.3 152.4L290.3 152.4L291.3 152.4L292.3 152.4L293.3 152.4L294.3 152.4L295.3 152.4L296.3 152.4L297.3 152.4L298.3 152.4L299.3 152.4L300.3 152.4L301.3 153.1L302.3 153.1L303.2 152.4L304.2 152.4L305.2 153.1L306.2 153.1L307.2 153.1L308.2 153.1L309.2 153.1L310.2 153.1L311.2 153.1L312.2 153.1L313.2 153.1L314.2 153.1L315.2 153.1L316.2 153.1L317.2 153.1L318.2 153.1L319.2 153.1L320.2 153.1L321.2 153.1L322.2 153.1L323.2 153.1L324.2 153.1L325.2 153.1L326.2 153.8L327.2 153.8L328.2 153.8L329.2 153.1L330.2 153.8L331.2 153.8L332.2 153.8L333.2 153.8L334.2 153.8L335.2 153.8L336.2 153.8L337.2 153.8L338.2 153.8L339.2 154.5L340.2 153.8L341.2 154.5L342.2 153.8L343.2 154.5L344.2 154.5L345.2 154.5L346.2 154.5L347.2 154.5L348.2 154.5L349.2 154.5L350.2 154.5L351.2 154.5L352.2 154.5L353.2 154.5L354.2 154.5L355.2 154.5L356.2 154.5L357.2 154.5L358.2 154.5L359.2 154.5L360.2 155.2L361.2 154.5L362.2 154.5L363.2 155.2L364.2 154.5L365.2 154.5L366.2 155.2L367.2 155.2L368.2 155.2L369.2 155.2L370.2 155.2L371.2 155.2L372.2 155.2L373.2 155.2L374.2 155.2L375.2 155.2L376.2 155.2L377.2 155.2L378.2 155.2L379.2 155.2L380.2 155.2L381.2 155.2L382.2 155.2L383.2 155.2L384.2 155.2L385.2 155.2L386.2 155.2L387.2 155.2L388.1 155.2L389.1 155.2L390.1 155.2L391.1 155.2L392.1 155.2L393.1 155.2L394.1 155.2L395.1 155.2L396.1 155.2L397.1 155.2L398.1 155.2L399.1 155.2L400.1 155.2L401.1 155.2L402.1 155.2L403.1 155.2L404.1 155.2L405.1 155.2L406.1 155.2L407.1 155.2L408.1 155.2L409.1 155.2L410.1 155.2L411.1 155.2L412.1 155.2L413.1 155.2L414.1 155.2L415.1 155.2L416.1 155.2L417.1 155.2L418.1 155.2L419.1 155.2L420.1 155.2L421.1 155.2L422.1 155.2L423.1 155.2L424.1 155.2L425.1 155.2L426.1 155.2L427.1 155.2L428.1 155.2L429.1 155.2L430.1 155.2L431.1 155.2L432.1 155.2L433.1 155.2L434.1 155.2L435.1 155.2L436.1 154.5L437.1 155.2L438.1 155.2L439.1 155.2L440.1 155.2L441.1 155.2L442.1 155.2L443.1 154.5L444.1 155.2L445.1 154.5L446.1 155.2L447.1 154.5L448.1 154.5L449.1 154.5L450.1 154.5L451.1 154.5L452.1 154.5L453.1 154.5L454.1 154.5L455.1 154.5L456.1 154.5L457.1 154.5L458.1 153.8L459.1 153.8L460.1 153.8L461.1 153.8L462.1 153.8L463.1 153.8L464.1 153.8L465.1 153.8L466.1 153.8L467.1 153.1L468.1 153.1L469.1 153.1L470.1 152.4L471.1 152.4L472.0 152.4L473.0 152.4L474.0 152.4L475.0 151.7L476.0 151.7L477.0 151.7L478.0 151.7L479.0 151.7L480.0 151.7L481.0 151.7L482.0 151.0L483.0 151.0L484.0 151.0L485.0 150.3L486.0 150.3L487.0 150.3L488.0 150.3L489.0 150.3L490.0 149.6L491.0 149.6L492.0 149.6L493.0 149.6L494.0 149.6L495.0 148.9L496.0 148.9L497.0 148.9L498.0 148.9L499.0 148.3L500.0 148.3L501.0 148.3L502.0 147.6L503.0 147.6L504.0 147.6L505.0 147.6L506.0 146.9L507.0 146.9L508.0 146.9L509.0 146.9L510.0 146.2L511.0 146.2L512.0 146.2L513.0 145.5L514.0 145.5L515.0 145.5L516.0 145.5L517.0 144.8L518.0 144.8L519.0 144.8L520.0 144.8L521.0 144.8L522.0 144.1L523.0 144.1L524.0 144.1L525.0 144.1L526.0 144.1L527.0 144.1L528.0 143.4L529.0 143.4L530.0 143.4L531.0 142.7L532.0 142.7L533.0 142.7L534.0 142.7L535.0 142.0L536.0 142.0L537.0 142.7L538.0 142.0L539.0 142.0L540.0 142.0L541.0 142.0L542.0 142.0L543.0 141.3L544.0 141.3L545.0 141.3L546.0 141.3L547.0 141.3L548.0 140.6L549.0 140.6L550.0 140.6L551.0 140.6L552.0 139.9L553.0 139.9L554.0 139.9L555.0 139.9L555.9 139.9L556.9 139.2L557.9 139.2L558.9 139.2L559.9 139.2L560.9 138.5L561.9 138.5L562.9 138.5L563.9 137.8L564.9 138.5L565.9 137.8L566.9 137.8L567.9 137.8L568.9 137.8L569.9 137.8L570.9 137.2L571.9 137.2L572.9 137.2L573.9 137.2L574.9 136.5L575.9 136.5L576.9 136.5L577.9 136.5L578.9 136.5L579.9 136.5L580.9 135.8L581.9 135.8L582.9 135.8L583.9 135.8L584.9 135.8L585.9 135.1L586.9 135.1L587.9 135.1L588.9 135.1L589.9 135.1L590.9 134.4L591.9 134.4L592.9 134.4L593.9 134.4L594.9 134.4L595.9 134.4L596.9 134.4L597.9 133.7L598.9 133.7L599.9 133.7L600.9 133.7L601.9 133.0L602.9 133.0L603.9 133.0L604.9 133.0L605.9 133.0L606.9 133.0L607.9 133.0L608.9 133.0L609.9 132.3L610.9 132.3L611.9 132.3L612.9 132.3L613.9 132.3L614.9 131.6L615.9 132.3L616.9 131.6L617.9 131.6L618.9 131.6L619.9 130.9L620.9 130.9L621.9 130.9L622.9 130.9L623.9 130.9L624.9 130.9L625.9 130.9L626.9 130.2L627.9 130.2L628.9 130.2L629.9 130.2L630.9 130.2L631.9 130.2L632.9 130.2L633.9 129.5L634.9 130.2L635.9 129.5L636.9 129.5L637.9 129.5L638.9 129.5L639.8 129.5L640.8 128.8L641.8 128.8L642.8 128.8L643.8 128.8L644.8 128.1L645.8 128.1L646.8 128.1L647.8 128.1L648.8 128.1L649.8 128.1L650.8 128.1L651.8 127.4L652.8 127.4L653.8 128.1L654.8 127.4L655.8 127.4L656.8 127.4L657.8 127.4L658.8 126.7L659.8 127.4L660.8 127.4L661.8 126.7L662.8 126.7L663.8 126.7L664.8 126.7L665.8 126.1L666.8 126.1L667.8 126.7L668.8 126.1L669.8 126.1L670.8 126.1L671.8 126.1L672.8 125.4L673.8 125.4L674.8 125.4L675.8 126.1L676.8 125.4L677.8 125.4L678.8 125.4L679.8 125.4L680.8 125.4L681.8 124.7L682.8 124.7L683.8 124.7L684.8 124.7L685.8 124.7L686.8 124.7L687.8 124.0L688.8 124.7L689.8 124.7L690.8 124.0L691.8 124.0L692.8 124.0L693.8 124.0L694.8 124.0L695.8 123.3L696.8 124.0L697.8 123.3L698.8 123.3L699.8 123.3L700.8 123.3L701.8 123.3L702.8 123.3L703.8 123.3L704.8 123.3L705.8 123.3L706.8 122.6L707.8 122.6L708.8 122.6L709.8 122.6L710.8 122.6L711.8 122.6L712.8 122.6L713.8 122.6L714.8 122.6L715.8 122.6L716.8 121.9L717.8 121.9L718.8 121.9L719.8 121.9L720.8 121.9L721.8 121.9L722.8 121.9L723.7 121.9L724.7 121.9L725.7 121.9L726.7 121.9L727.7 121.9L728.7 121.9L729.7 121.2L730.7 121.9L731.7 121.9L732.7 121.9L733.7 121.9L734.7 121.2L735.7 121.2L736.7 121.2L737.7 121.2L738.7 121.9L739.7 121.2L740.7 121.9L741.7 121.2L742.7 121.2L743.7 121.9L744.7 121.9L745.7 121.2L746.7 121.9L747.7 121.9L748.7 121.2L749.7 121.2L750.7 121.2L751.7 121.2L752.7 121.2L753.7 121.2L754.7 121.2L755.7 121.2L756.7 121.9L757.7 121.9L758.7 121.2L759.7 121.2L760.7 121.9L761.7 121.9L762.7 121.9L763.7 121.9L764.7 121.9L765.7 121.9L766.7 121.9L767.7 121.9L768.7 121.9L769.7 121.9L770.7 121.9L771.7 122.6L772.7 122.6L773.7 122.6L774.7 122.6L775.7 122.6L776.7 122.6L777.7 123.3L778.7 122.6L779.7 123.3L780.7 123.3L781.7 123.3L782.7 123.3L783.7 123.3L784.7 124.0L785.7 123.3L786.7 124.0L787.7 124.0L788.7 124.0L789.7 124.0L790.7 124.0L791.7 124.0L792.7 124.7L793.7 124.7L794.7 124.7L795.7 124.7L796.7 125.4L797.7 124.7L798.7 125.4L799.7 125.4L800.7 125.4L801.7 126.1L802.7 126.1L803.7 126.1L804.7 126.1L805.7 126.7L806.6 126.7L807.6 126.7L808.6 126.7L809.6 126.7L810.6 127.4L811.6 127.4L812.6 127.4L813.6 127.4L814.6 128.1L815.6 128.1L816.6 128.1L817.6 128.1L818.6 128.8L819.6 128.8L820.6 128.8L821.6 129.5L822.6 129.5L823.6 129.5L824.6 130.2L825.6 130.2L826.6 130.2L827.6 130.9L828.6 130.9L829.6 130.9L830.6 130.9L831.6 130.9L832.6 131.6L833.6 131.6L834.6 132.3L835.6 131.6L836.6 132.3L837.6 132.3L838.6 132.3L839.6 132.3L840.6 133.0L841.6 133.0L842.6 133.0L843.6 133.0L844.6 133.0L845.6 133.7L846.6 133.7L847.6 133.7L848.6 134.4L849.6 134.4L850.6 134.4L851.6 134.4L852.6 134.4L853.6 135.1L854.6 135.1L855.6 135.1L856.6 135.1L857.6 135.8L858.6 135.8L859.6 135.8L860.6 136.5L861.6 136.5L862.6 136.5L863.6 136.5L864.6 136.5L865.6 137.2L866.6 137.2L867.6 137.2L868.6 137.8L869.6 137.8L870.6 137.8L871.6 137.8L872.6 137.8L873.6 138.5L874.6 138.5L875.6 138.5L876.6 138.5L877.6 138.5L878.6 138.5L879.6 139.2L880.6 139.2L881.6 139.2L882.6 139.9L883.6 139.9L884.6 140.6L885.6 140.6L886.6 140.6L887.6 141.3L888.6 141.3L889.6 141.3L890.6 142.0L891.5 142.0L892.5 142.0L893.5 142.0L894.5 142.7L895.5 143.4L896.5 143.4L897.5 143.4L898.5 144.1L899.5 144.1L900.5 144.8L901.5 144.1L902.5 144.8L903.5 144.8L904.5 145.5L905.5 145.5L906.5 145.5L907.5 146.2L908.5 146.2L909.5 146.2L910.5 146.2L911.5 146.2L912.5 146.9L913.5 146.9L914.5 146.9L915.5 146.9L916.5 146.9L917.5 146.9L918.5 147.6L919.5 147.6L920.5 147.6L921.5 147.6L922.5 148.3L923.5 148.3L924.5 148.3L925.5 148.3L926.5 148.3L927.5 148.9L928.5 148.9L929.5 148.9L930.5 148.9L931.5 148.9L932.5 148.9" stroke="#56B4E9" stroke-width="2.2" fill="none" stroke-linejoin="round" stroke-linecap="butt"/>
<path d="M93.5 80.3L94.5 80.3L95.5 79.6L96.5 79.6L97.5 79.6L98.5 79.6L99.5 79.6L100.5 80.3L101.5 80.3L102.5 80.3L103.5 80.3L104.5 80.3L105.5 80.3L106.5 80.3L107.5 80.3L108.5 81.0L109.5 80.3L110.5 80.3L111.5 80.3L112.5 81.0L113.5 80.3L114.5 80.3L115.5 80.3L116.5 80.3L117.5 80.3L118.5 81.0L119.5 80.3L120.5 81.0L121.5 80.3L122.5 80.3L123.5 81.0L124.5 80.3L125.5 81.0L126.5 80.3L127.5 81.0L128.5 81.0L129.5 81.0L130.5 80.3L131.5 80.3L132.5 81.0L133.5 80.3L134.5 80.3L135.4 80.3L136.4 81.0L137.4 81.0L138.4 81.0L139.4 80.3L140.4 80.3L141.4 80.3L142.4 81.0L143.4 80.3L144.4 80.3L145.4 81.0L146.4 80.3L147.4 81.0L148.4 81.0L149.4 81.0L150.4 80.3L151.4 81.0L152.4 80.3L153.4 81.0L154.4 81.0L155.4 81.0L156.4 80.3L157.4 81.0L158.4 81.0L159.4 81.0L160.4 81.0L161.4 81.0L162.4 81.0L163.4 80.3L164.4 81.0L165.4 81.0L166.4 80.3L167.4 80.3L168.4 81.0L169.4 81.0L170.4 81.0L171.4 81.0L172.4 81.0L173.4 81.0L174.4 81.0L175.4 81.0L176.4 81.0L177.4 81.0L178.4 81.0L179.4 81.0L180.4 80.3L181.4 80.3L182.4 81.0L183.4 81.0L184.4 81.0L185.4 81.0L186.4 81.0L187.4 81.0L188.4 81.0L189.4 80.3L190.4 81.0L191.4 81.0L192.4 81.0L193.4 81.0L194.4 81.0L195.4 81.0L196.4 81.0L197.4 81.0L198.4 81.0L199.4 81.0L200.4 81.0L201.4 81.0L202.4 81.0L203.4 81.0L204.4 81.0L205.4 81.0L206.4 81.0L207.4 81.0L208.4 81.0L209.4 81.0L210.4 81.0L211.4 81.0L212.4 81.0L213.4 81.0L214.4 81.0L215.4 81.0L216.4 81.0L217.4 81.0L218.4 81.0L219.4 81.0L220.3 81.0L221.3 81.0L222.3 81.0L223.3 81.0L224.3 81.0L225.3 81.0L226.3 81.0L227.3 81.7L228.3 81.7L229.3 81.0L230.3 81.7L231.3 81.7L232.3 81.0L233.3 81.7L234.3 81.0L235.3 81.7L236.3 81.7L237.3 81.7L238.3 81.7L239.3 81.7L240.3 81.7L241.3 81.7L242.3 81.7L243.3 81.7L244.3 81.7L245.3 81.7L246.3 81.7L247.3 81.7L248.3 81.7L249.3 81.7L250.3 81.7L251.3 81.7L252.3 81.7L253.3 81.7L254.3 81.7L255.3 81.7L256.3 81.7L257.3 81.7L258.3 81.7L259.3 81.7L260.3 81.7L261.3 81.7L262.3 81.7L263.3 81.7L264.3 81.7L265.3 81.7L266.3 81.7L267.3 81.7L268.3 81.7L269.3 81.7L270.3 81.7L271.3 82.3L272.3 81.7L273.3 81.7L274.3 81.7L275.3 81.7L276.3 81.7L277.3 81.7L278.3 82.3L279.3 82.3L280.3 81.7L281.3 81.7L282.3 81.7L283.3 81.7L284.3 82.3L285.3 81.7L286.3 82.3L287.3 82.3L288.3 81.7L289.3 82.3L290.3 81.7L291.3 81.7L292.3 81.7L293.3 82.3L294.3 81.7L295.3 82.3L296.3 82.3L297.3 82.3L298.3 81.7L299.3 82.3L300.3 81.7L301.3 82.3L302.3 82.3L303.2 82.3L304.2 82.3L305.2 82.3L306.2 82.3L307.2 82.3L308.2 82.3L309.2 82.3L310.2 82.3L311.2 82.3L312.2 82.3L313.2 82.3L314.2 82.3L315.2 82.3L316.2 82.3L317.2 82.3L318.2 82.3L319.2 82.3L320.2 82.3L321.2 82.3L322.2 82.3L323.2 82.3L324.2 82.3L325.2 82.3L326.2 82.3L327.2 82.3L328.2 82.3L329.2 82.3L330.2 82.3L331.2 82.3L332.2 82.3L333.2 82.3L334.2 83.0L335.2 82.3L336.2 82.3L337.2 82.3L338.2 83.0L339.2 82.3L340.2 82.3L341.2 82.3L342.2 83.0L343.2 82.3L344.2 83.0L345.2 83.0L346.2 82.3L347.2 83.0L348.2 82.3L349.2 83.0L350.2 83.0L351.2 83.0L352.2 83.0L353.2 82.3L354.2 83.0L355.2 83.0L356.2 83.0L357.2 83.0L358.2 83.0L359.2 83.0L360.2 83.0L361.2 83.0L362.2 83.0L363.2 83.0L364.2 83.0L365.2 83.0L366.2 83.0L367.2 83.0L368.2 83.0L369.2 83.0L370.2 83.0L371.2 83.0L372.2 83.0L373.2 83.0L374.2 83.7L375.2 83.0L376.2 83.0L377.2 83.0L378.2 83.0L379.2 83.0L380.2 83.0L381.2 83.7L382.2 83.0L383.2 83.0L384.2 83.0L385.2 83.0L386.2 83.7L387.2 83.7L388.1 83.0L389.1 83.0L390.1 83.7L391.1 83.0L392.1 83.7L393.1 83.7L394.1 83.7L395.1 83.7L396.1 83.7L397.1 83.7L398.1 83.7L399.1 83.7L400.1 83.7L401.1 83.7L402.1 83.7L403.1 83.7L404.1 83.7L405.1 83.7L406.1 83.7L407.1 83.7L408.1 83.7L409.1 83.0L410.1 83.7L411.1 83.7L412.1 83.7L413.1 83.7L414.1 83.7L415.1 83.7L416.1 83.7L417.1 83.7L418.1 83.7L419.1 83.7L420.1 83.7L421.1 83.7L422.1 83.7L423.1 83.7L424.1 83.7L425.1 83.7L426.1 83.7L427.1 83.7L428.1 83.7L429.1 83.7L430.1 83.7L431.1 83.7L432.1 83.7L433.1 83.7L434.1 83.7L435.1 83.7L436.1 83.7L437.1 83.7L438.1 83.7L439.1 83.7L440.1 83.7L441.1 83.7L442.1 83.7L443.1 83.7L444.1 83.7L445.1 83.7L446.1 83.7L447.1 83.7L448.1 83.7L449.1 83.7L450.1 83.7L451.1 83.7L452.1 83.7L453.1 83.7L454.1 83.7L455.1 83.7L456.1 83.7L457.1 83.7L458.1 83.7L459.1 83.7L460.1 83.7L461.1 83.7L462.1 83.7L463.1 83.7L464.1 83.7L465.1 83.7L466.1 83.7L467.1 83.7L468.1 83.7L469.1 83.7L470.1 83.7L471.1 83.7L472.0 83.7L473.0 83.7L474.0 83.7L475.0 83.7L476.0 83.7L477.0 84.4L478.0 83.7L479.0 83.7L480.0 83.7L481.0 83.7L482.0 83.7L483.0 83.7L484.0 83.7L485.0 83.7L486.0 83.7L487.0 83.7L488.0 83.0L489.0 83.0L490.0 83.0L491.0 83.0L492.0 83.0L493.0 83.0L494.0 83.0L495.0 83.0L496.0 83.0L497.0 83.0L498.0 83.0L499.0 83.0L500.0 83.0L501.0 83.0L502.0 83.0L503.0 82.3L504.0 82.3L505.0 82.3L506.0 82.3L507.0 82.3L508.0 82.3L509.0 82.3L510.0 82.3L511.0 82.3L512.0 82.3L513.0 82.3L514.0 82.3L515.0 82.3L516.0 82.3L517.0 82.3L518.0 82.3L519.0 82.3L520.0 81.7L521.0 82.3L522.0 81.7L523.0 82.3L524.0 81.7L525.0 81.7L526.0 81.7L527.0 81.7L528.0 81.7L529.0 81.7L530.0 81.7L531.0 81.7L532.0 81.7L533.0 81.7L534.0 81.7L535.0 81.7L536.0 81.7L537.0 81.7L538.0 81.7L539.0 81.7L540.0 81.7L541.0 81.7L542.0 82.3L543.0 81.7L544.0 81.7L545.0 81.7L546.0 81.7L547.0 81.7L548.0 81.7L549.0 81.7L550.0 81.7L551.0 81.7L552.0 81.7L553.0 81.7L554.0 81.7L555.0 81.7L555.9 81.7L556.9 81.7L557.9 81.0L558.9 81.7L559.9 81.7L560.9 81.7L561.9 81.7L562.9 81.0L563.9 81.0L564.9 81.7L565.9 81.0L566.9 81.7L567.9 81.0L568.9 81.0L569.9 81.0L570.9 81.0L571.9 81.0L572.9 81.0L573.9 81.0L574.9 81.0L575.9 81.0L576.9 81.0L577.9 81.0L578.9 81.0L579.9 81.0L580.9 81.0L581.9 81.0L582.9 81.0L583.9 81.0L584.9 81.0L585.9 81.0L586.9 81.0L587.9 81.0L588.9 81.0L589.9 81.0L590.9 81.0L591.9 81.0L592.9 80.3L593.9 81.0L594.9 80.3L595.9 81.0L596.9 81.0L597.9 80.3L598.9 81.0L599.9 80.3L600.9 80.3L601.9 80.3L602.9 81.0L603.9 81.0L604.9 81.0L605.9 81.0L606.9 80.3L607.9 80.3L608.9 80.3L609.9 80.3L610.9 80.3L611.9 80.3L612.9 80.3L613.9 80.3L614.9 80.3L615.9 80.3L616.9 80.3L617.9 80.3L618.9 80.3L619.9 80.3L620.9 80.3L621.9 80.3L622.9 80.3L623.9 80.3L624.9 80.3L625.9 80.3L626.9 80.3L627.9 80.3L628.9 79.6L629.9 80.3L630.9 80.3L631.9 80.3L632.9 80.3L633.9 80.3L634.9 79.6L635.9 80.3L636.9 80.3L637.9 80.3L638.9 80.3L639.8 80.3L640.8 79.6L641.8 80.3L642.8 79.6L643.8 80.3L644.8 79.6L645.8 80.3L646.8 80.3L647.8 79.6L648.8 79.6L649.8 80.3L650.8 80.3L651.8 79.6L652.8 79.6L653.8 79.6L654.8 79.6L655.8 79.6L656.8 79.6L657.8 79.6L658.8 79.6L659.8 79.6L660.8 79.6L661.8 79.6L662.8 79.6L663.8 79.6L664.8 79.6L665.8 78.9L666.8 79.6L667.8 79.6L668.8 78.9L669.8 78.9L670.8 78.9L671.8 79.6L672.8 78.9L673.8 78.9L674.8 78.9L675.8 78.9L676.8 78.9L677.8 78.9L678.8 78.9L679.8 78.9L680.8 78.9L681.8 78.9L682.8 78.9L683.8 78.9L684.8 78.9L685.8 78.9L686.8 78.9L687.8 78.9L688.8 78.2L689.8 78.2L690.8 78.2L691.8 78.2L692.8 78.2L693.8 78.2L694.8 78.9L695.8 78.2L696.8 78.2L697.8 78.2L698.8 78.2L699.8 78.2L700.8 78.2L701.8 78.2L702.8 78.2L703.8 78.2L704.8 78.2L705.8 77.5L706.8 78.2L707.8 77.5L708.8 78.2L709.8 78.2L710.8 77.5L711.8 77.5L712.8 77.5L713.8 77.5L714.8 77.5L715.8 78.2L716.8 77.5L717.8 77.5L718.8 77.5L719.8 77.5L720.8 77.5L721.8 77.5L722.8 77.5L723.7 77.5L724.7 77.5L725.7 77.5L726.7 77.5L727.7 77.5L728.7 77.5L729.7 77.5L730.7 77.5L731.7 77.5L732.7 77.5L733.7 77.5L734.7 77.5L735.7 77.5L736.7 77.5L737.7 77.5L738.7 77.5L739.7 77.5L740.7 77.5L741.7 77.5L742.7 77.5L743.7 76.8L744.7 77.5L745.7 76.8L746.7 76.8L747.7 76.8L748.7 76.8L749.7 77.5L750.7 76.8L751.7 77.5L752.7 77.5L753.7 77.5L754.7 76.8L755.7 76.8L756.7 76.8L757.7 76.8L758.7 76.8L759.7 76.8L760.7 76.8L761.7 76.8L762.7 76.8L763.7 76.8L764.7 76.8L765.7 76.8L766.7 76.8L767.7 76.8L768.7 76.8L769.7 76.8L770.7 76.1L771.7 75.4L772.7 75.4L773.7 74.7L774.7 74.0L775.7 73.3L776.7 73.3L777.7 72.6L778.7 71.9L779.7 71.2L780.7 70.6L781.7 69.9L782.7 69.2L783.7 69.2L784.7 68.5L785.7 67.8L786.7 67.1L787.7 67.1L788.7 66.4L789.7 65.7L790.7 65.0L791.7 64.3L792.7 64.3L793.7 63.6L794.7 63.6L795.7 63.6L796.7 62.9L797.7 62.2L798.7 62.2L799.7 61.5L800.7 61.5L801.7 61.5L802.7 60.8L803.7 60.8L804.7 60.1L805.7 59.5L806.6 59.5L807.6 59.5L808.6 58.8L809.6 58.8L810.6 58.8L811.6 58.1L812.6 58.1L813.6 58.1L814.6 58.1L815.6 57.4L816.6 57.4L817.6 57.4L818.6 57.4L819.6 56.7L820.6 56.7L821.6 56.7L822.6 56.7L823.6 56.7L824.6 56.0L825.6 56.0L826.6 56.0L827.6 55.3L828.6 56.0L829.6 56.0L830.6 55.3L831.6 56.0L832.6 56.0L833.6 56.0L834.6 56.0L835.6 56.0L836.6 56.0L837.6 56.0L838.6 56.0L839.6 55.3L840.6 56.0L841.6 56.0L842.6 56.0L843.6 56.0L844.6 56.0L845.6 56.0L846.6 56.0L847.6 56.0L848.6 56.0L849.6 56.0L850.6 56.0L851.6 56.0L852.6 56.0L853.6 56.0L854.6 56.0L855.6 56.0L856.6 56.0L857.6 56.0L858.6 55.3L859.6 56.0L860.6 56.0L861.6 56.0L862.6 55.3L863.6 56.0L864.6 56.0L865.6 56.0L866.6 56.0L867.6 55.3L868.6 56.0L869.6 56.0L870.6 56.0L871.6 56.0L872.6 56.0L873.6 56.0L874.6 56.0L875.6 56.0L876.6 56.0L877.6 56.0L878.6 56.0L879.6 56.0L880.6 56.0L881.6 56.0L882.6 56.0L883.6 56.0L884.6 56.0L885.6 56.0L886.6 56.0L887.6 56.0L888.6 56.0L889.6 56.0L890.6 56.0L891.5 55.3L892.5 56.0L893.5 56.0L894.5 56.0L895.5 55.3L896.5 55.3L897.5 55.3L898.5 55.3L899.5 55.3L900.5 55.3L901.5 54.6L902.5 54.6L903.5 54.6L904.5 54.6L905.5 53.9L906.5 53.9L907.5 53.9L908.5 53.9L909.5 53.2L910.5 53.2L911.5 53.2L912.5 52.5L913.5 52.5L914.5 51.8L915.5 52.5L916.5 51.8L917.5 51.8L918.5 51.1L919.5 51.1L920.5 51.1L921.5 51.1L922.5 51.1L923.5 51.1L924.5 51.1L925.5 50.4L926.5 50.4L927.5 50.4L928.5 50.4L929.5 50.4L930.5 49.7L931.5 49.7L932.5 49.7" stroke="#E69F00" stroke-width="2.2" fill="none" stroke-linejoin="round" stroke-linecap="butt"/>
<path d="M93.5 131.6L94.5 131.6L95.5 132.3L96.5 132.3L97.5 132.3L98.5 132.3L99.5 132.3L100.5 132.3L101.5 132.3L102.5 132.3L103.5 132.3L104.5 133.0L105.5 132.3L106.5 133.0L107.5 133.0L108.5 133.0L109.5 133.0L110.5 133.0L111.5 133.0L112.5 133.0L113.5 133.0L114.5 133.0L115.5 133.0L116.5 133.0L117.5 133.0L118.5 133.0L119.5 133.0L120.5 133.0L121.5 133.0L122.5 133.0L123.5 133.0L124.5 133.0L125.5 133.0L126.5 133.0L127.5 133.0L128.5 133.0L129.5 133.0L130.5 133.0L131.5 133.7L132.5 133.0L133.5 133.0L134.5 133.0L135.4 133.0L136.4 133.0L137.4 133.0L138.4 133.0L139.4 133.0L140.4 133.0L141.4 133.0L142.4 133.0L143.4 133.0L144.4 133.0L145.4 133.0L146.4 133.0L147.4 133.0L148.4 133.0L149.4 133.0L150.4 133.0L151.4 133.0L152.4 133.0L153.4 133.0L154.4 133.0L155.4 133.0L156.4 133.0L157.4 133.0L158.4 133.0L159.4 133.0L160.4 133.0L161.4 133.0L162.4 133.0L163.4 133.0L164.4 133.7L165.4 133.0L166.4 133.0L167.4 133.0L168.4 133.0L169.4 133.0L170.4 133.0L171.4 133.0L172.4 133.0L173.4 133.0L174.4 133.0L175.4 133.0L176.4 133.0L177.4 133.0L178.4 133.0L179.4 133.0L180.4 133.0L181.4 133.0L182.4 133.0L183.4 133.0L184.4 133.0L185.4 133.0L186.4 133.0L187.4 133.0L188.4 133.0L189.4 133.0L190.4 133.0L191.4 133.0L192.4 133.0L193.4 133.0L194.4 133.0L195.4 133.0L196.4 133.0L197.4 133.0L198.4 133.0L199.4 133.0L200.4 133.0L201.4 133.0L202.4 133.0L203.4 133.0L204.4 133.0L205.4 133.0L206.4 133.0L207.4 133.0L208.4 133.0L209.4 133.0L210.4 133.0L211.4 133.0L212.4 133.0L213.4 133.0L214.4 133.0L215.4 133.0L216.4 133.0L217.4 133.0L218.4 133.0L219.4 133.0L220.3 133.0L221.3 133.0L222.3 133.0L223.3 133.0L224.3 132.3L225.3 133.0L226.3 133.0L227.3 133.0L228.3 133.0L229.3 133.0L230.3 133.0L231.3 133.0L232.3 132.3L233.3 132.3L234.3 132.3L235.3 133.0L236.3 132.3L237.3 133.0L238.3 132.3L239.3 132.3L240.3 133.0L241.3 133.0L242.3 133.0L243.3 132.3L244.3 133.0L245.3 133.0L246.3 132.3L247.3 132.3L248.3 132.3L249.3 133.0L250.3 133.0L251.3 133.0L252.3 133.0L253.3 132.3L254.3 132.3L255.3 132.3L256.3 133.0L257.3 133.0L258.3 133.0L259.3 132.3L260.3 132.3L261.3 132.3L262.3 132.3L263.3 133.0L264.3 133.0L265.3 132.3L266.3 133.0L267.3 132.3L268.3 133.0L269.3 133.0L270.3 133.0L271.3 132.3L272.3 132.3L273.3 132.3L274.3 132.3L275.3 133.0L276.3 132.3L277.3 133.0L278.3 132.3L279.3 132.3L280.3 132.3L281.3 132.3L282.3 133.0L283.3 132.3L284.3 132.3L285.3 132.3L286.3 132.3L287.3 132.3L288.3 132.3L289.3 132.3L290.3 132.3L291.3 132.3L292.3 132.3L293.3 132.3L294.3 133.0L295.3 132.3L296.3 132.3L297.3 132.3L298.3 132.3L299.3 132.3L300.3 132.3L301.3 132.3L302.3 133.0L303.2 132.3L304.2 132.3L305.2 132.3L306.2 132.3L307.2 132.3L308.2 132.3L309.2 132.3L310.2 133.0L311.2 133.0L312.2 133.0L313.2 133.0L314.2 133.0L315.2 132.3L316.2 133.0L317.2 133.0L318.2 133.0L319.2 133.0L320.2 133.0L321.2 133.0L322.2 133.0L323.2 133.0L324.2 133.0L325.2 133.0L326.2 133.0L327.2 133.0L328.2 133.0L329.2 133.0L330.2 133.0L331.2 133.0L332.2 133.0L333.2 133.0L334.2 133.0L335.2 133.0L336.2 133.0L337.2 133.0L338.2 133.0L339.2 133.0L340.2 133.0L341.2 133.0L342.2 133.0L343.2 133.0L344.2 133.0L345.2 133.0L346.2 133.0L347.2 133.0L348.2 133.0L349.2 133.7L350.2 133.0L351.2 133.7L352.2 133.0L353.2 133.7L354.2 133.0L355.2 133.7L356.2 133.7L357.2 133.7L358.2 133.7L359.2 133.7L360.2 133.7L361.2 133.7L362.2 133.7L363.2 133.7L364.2 133.7L365.2 133.7L366.2 133.7L367.2 133.7L368.2 133.7L369.2 133.7L370.2 133.7L371.2 134.4L372.2 133.7L373.2 133.7L374.2 133.7L375.2 133.7L376.2 133.7L377.2 133.7L378.2 134.4L379.2 133.7L380.2 133.7L381.2 134.4L382.2 134.4L383.2 133.7L384.2 134.4L385.2 134.4L386.2 133.7L387.2 134.4L388.1 134.4L389.1 134.4L390.1 133.7L391.1 134.4L392.1 134.4L393.1 134.4L394.1 134.4L395.1 134.4L396.1 134.4L397.1 134.4L398.1 134.4L399.1 134.4L400.1 134.4L401.1 134.4L402.1 134.4L403.1 134.4L404.1 134.4L405.1 134.4L406.1 134.4L407.1 134.4L408.1 134.4L409.1 134.4L410.1 134.4L411.1 134.4L412.1 134.4L413.1 134.4L414.1 134.4L415.1 134.4L416.1 134.4L417.1 134.4L418.1 134.4L419.1 134.4L420.1 134.4L421.1 134.4L422.1 134.4L423.1 134.4L424.1 134.4L425.1 134.4L426.1 134.4L427.1 134.4L428.1 134.4L429.1 134.4L430.1 134.4L431.1 134.4L432.1 134.4L433.1 134.4L434.1 134.4L435.1 134.4L436.1 134.4L437.1 134.4L438.1 134.4L439.1 134.4L440.1 134.4L441.1 133.7L442.1 134.4L443.1 134.4L444.1 134.4L445.1 133.7L446.1 133.7L447.1 133.7L448.1 133.7L449.1 133.7L450.1 133.7L451.1 133.7L452.1 133.7L453.1 133.7L454.1 133.7L455.1 133.7L456.1 133.0L457.1 133.7L458.1 133.0L459.1 133.0L460.1 133.0L461.1 133.0L462.1 133.0L463.1 133.0L464.1 133.0L465.1 133.0L466.1 133.0L467.1 133.0L468.1 133.0L469.1 133.0L470.1 133.0L471.1 133.0L472.0 133.0L473.0 132.3L474.0 133.0L475.0 132.3L476.0 132.3L477.0 132.3L478.0 132.3L479.0 132.3L480.0 132.3L481.0 132.3L482.0 132.3L483.0 132.3L484.0 132.3L485.0 132.3L486.0 132.3L487.0 132.3L488.0 132.3L489.0 132.3L490.0 132.3L491.0 132.3L492.0 132.3L493.0 131.6L494.0 132.3L495.0 132.3L496.0 131.6L497.0 132.3L498.0 131.6L499.0 132.3L500.0 132.3L501.0 132.3L502.0 131.6L503.0 131.6L504.0 132.3L505.0 131.6L506.0 131.6L507.0 132.3L508.0 131.6L509.0 131.6L510.0 131.6L511.0 131.6L512.0 131.6L513.0 131.6L514.0 131.6L515.0 131.6L516.0 131.6L517.0 131.6L518.0 131.6L519.0 131.6L520.0 130.9L521.0 130.9L522.0 130.9L523.0 130.9L524.0 130.9L525.0 130.9L526.0 130.9L527.0 130.9L528.0 130.9L529.0 130.2L530.0 130.2L531.0 130.2L532.0 130.2L533.0 130.2L534.0 130.2L535.0 130.2L536.0 130.2L537.0 130.2L538.0 129.5L539.0 129.5L540.0 130.2L541.0 130.2L542.0 130.2L543.0 129.5L544.0 129.5L545.0 129.5L546.0 129.5L547.0 129.5L548.0 129.5L549.0 129.5L550.0 128.8L551.0 128.8L552.0 128.8L553.0 128.8L554.0 128.8L555.0 128.8L555.9 128.8L556.9 128.8L557.9 128.8L558.9 128.8L559.9 128.8L560.9 128.1L561.9 128.1L562.9 128.1L563.9 128.1L564.9 128.1L565.9 128.1L566.9 128.1L567.9 128.1L568.9 127.4L569.9 127.4L570.9 127.4L571.9 127.4L572.9 127.4L573.9 127.4L574.9 127.4L575.9 127.4L576.9 126.7L577.9 126.7L578.9 126.7L579.9 126.7L580.9 126.7L581.9 126.7L582.9 126.7L583.9 126.7L584.9 126.7L585.9 126.7L586.9 126.1L587.9 126.1L588.9 126.1L589.9 126.1L590.9 126.1L591.9 126.1L592.9 126.1L593.9 126.1L594.9 126.1L595.9 125.4L596.9 126.1L597.9 126.1L598.9 125.4L599.9 125.4L600.9 125.4L601.9 125.4L602.9 125.4L603.9 125.4L604.9 125.4L605.9 125.4L606.9 125.4L607.9 124.7L608.9 125.4L609.9 124.7L610.9 124.7L611.9 125.4L612.9 124.7L613.9 124.7L614.9 124.7L615.9 124.7L616.9 124.7L617.9 124.7L618.9 124.0L619.9 124.0L620.9 124.0L621.9 124.0L622.9 124.0L623.9 124.0L624.9 124.0L625.9 124.0L626.9 124.0L627.9 124.0L628.9 124.0L629.9 124.0L630.9 124.0L631.9 123.3L632.9 123.3L633.9 123.3L634.9 123.3L635.9 123.3L636.9 123.3L637.9 123.3L638.9 123.3L639.8 122.6L640.8 122.6L641.8 122.6L642.8 122.6L643.8 122.6L644.8 122.6L645.8 122.6L646.8 122.6L647.8 122.6L648.8 122.6L649.8 121.9L650.8 121.9L651.8 121.9L652.8 121.9L653.8 121.9L654.8 121.9L655.8 121.9L656.8 121.9L657.8 121.9L658.8 121.9L659.8 121.9L660.8 121.2L661.8 121.2L662.8 121.2L663.8 121.2L664.8 121.2L665.8 121.2L666.8 121.2L667.8 121.2L668.8 121.2L669.8 121.2L670.8 121.2L671.8 121.2L672.8 121.2L673.8 121.2L674.8 120.5L675.8 120.5L676.8 121.2L677.8 120.5L678.8 120.5L679.8 120.5L680.8 120.5L681.8 120.5L682.8 120.5L683.8 120.5L684.8 120.5L685.8 120.5L686.8 119.8L687.8 119.8L688.8 120.5L689.8 120.5L690.8 120.5L691.8 119.8L692.8 119.8L693.8 119.8L694.8 119.8L695.8 119.8L696.8 119.8L697.8 119.8L698.8 119.8L699.8 119.8L700.8 119.8L701.8 119.8L702.8 119.1L703.8 119.1L704.8 119.1L705.8 119.1L706.8 119.8L707.8 119.1L708.8 119.1L709.8 119.1L710.8 119.1L711.8 119.1L712.8 119.1L713.8 119.1L714.8 119.1L715.8 119.1L716.8 119.1L717.8 119.1L718.8 118.4L719.8 119.1L720.8 118.4L721.8 118.4L722.8 118.4L723.7 118.4L724.7 118.4L725.7 118.4L726.7 118.4L727.7 118.4L728.7 118.4L729.7 118.4L730.7 118.4L731.7 118.4L732.7 118.4L733.7 118.4L734.7 118.4L735.7 118.4L736.7 117.7L737.7 118.4L738.7 118.4L739.7 118.4L740.7 117.7L741.7 117.7L742.7 117.7L743.7 117.7L744.7 117.7L745.7 117.7L746.7 117.7L747.7 117.7L748.7 117.7L749.7 117.7L750.7 117.7L751.7 117.7L752.7 117.7L753.7 117.7L754.7 117.7L755.7 117.7L756.7 117.7L757.7 117.7L758.7 117.7L759.7 117.0L760.7 117.7L761.7 117.7L762.7 117.0L763.7 117.7L764.7 117.7L765.7 117.7L766.7 117.7L767.7 117.0L768.7 117.7L769.7 117.7L770.7 117.7L771.7 117.0L772.7 117.7L773.7 117.7L774.7 117.0L775.7 117.7L776.7 117.7L777.7 117.7L778.7 117.7L779.7 117.7L780.7 117.7L781.7 117.0L782.7 117.7L783.7 117.7L784.7 117.7L785.7 117.7L786.7 117.7L787.7 117.7L788.7 117.7L789.7 117.7L790.7 117.7L791.7 117.7L792.7 117.7L793.7 118.4L794.7 118.4L795.7 118.4L796.7 119.1L797.7 119.8L798.7 119.8L799.7 119.8L800.7 120.5L801.7 120.5L802.7 121.2L803.7 121.2L804.7 121.9L805.7 121.9L806.6 122.6L807.6 123.3L808.6 123.3L809.6 123.3L810.6 124.0L811.6 123.3L812.6 124.0L813.6 124.0L814.6 124.0L815.6 124.0L816.6 124.0L817.6 124.0L818.6 124.0L819.6 124.0L820.6 124.0L821.6 124.0L822.6 124.0L823.6 124.0L824.6 124.0L825.6 124.0L826.6 124.0L827.6 124.0L828.6 124.0L829.6 124.0L830.6 124.7L831.6 124.0L832.6 124.7L833.6 124.7L834.6 124.7L835.6 124.7L836.6 124.7L837.6 124.7L838.6 124.7L839.6 124.7L840.6 124.7L841.6 125.4L842.6 125.4L843.6 125.4L844.6 125.4L845.6 125.4L846.6 125.4L847.6 125.4L848.6 125.4L849.6 125.4L850.6 125.4L851.6 125.4L852.6 125.4L853.6 125.4L854.6 126.1L855.6 125.4L856.6 126.1L857.6 126.1L858.6 126.1L859.6 126.1L860.6 126.1L861.6 126.1L862.6 126.1L863.6 126.1L864.6 126.1L865.6 126.7L866.6 126.7L867.6 127.4L868.6 127.4L869.6 127.4L870.6 128.1L871.6 128.1L872.6 128.1L873.6 128.8L874.6 128.8L875.6 129.5L876.6 129.5L877.6 130.9L878.6 130.9L879.6 131.6L880.6 131.6L881.6 132.3L882.6 133.0L883.6 133.7L884.6 133.7L885.6 134.4L886.6 135.1L887.6 135.1L888.6 135.8L889.6 136.5L890.6 136.5L891.5 137.2L892.5 137.2L893.5 137.2L894.5 137.8L895.5 138.5L896.5 138.5L897.5 138.5L898.5 139.2L899.5 139.2L900.5 139.2L901.5 139.2L902.5 139.9L903.5 139.2L904.5 139.9L905.5 139.9L906.5 139.9L907.5 139.2L908.5 139.2L909.5 139.9L910.5 139.9L911.5 139.9L912.5 139.2L913.5 139.9L914.5 139.2L915.5 139.9L916.5 139.2L917.5 139.2L918.5 139.2L919.5 139.2L920.5 139.2L921.5 139.2L922.5 139.2L923.5 139.2L924.5 139.2L925.5 139.2L926.5 139.2L927.5 138.5L928.5 138.5L929.5 138.5L930.5 138.5L931.5 138.5L932.5 139.2" stroke="#F0E442" stroke-width="2.2" fill="none" stroke-linejoin="round" stroke-linecap="butt"/>
<path d="M93.5 121.2L94.5 121.2L95.5 120.5L96.5 121.2L97.5 121.2L98.5 121.2L99.5 121.2L100.5 121.9L101.5 121.9L102.5 121.9L103.5 121.9L104.5 121.9L105.5 121.9L106.5 121.9L107.5 122.6L108.5 122.6L109.5 122.6L110.5 122.6L111.5 122.6L112.5 122.6L113.5 122.6L114.5 123.3L115.5 123.3L116.5 123.3L117.5 123.3L118.5 123.3L119.5 123.3L120.5 123.3L121.5 123.3L122.5 123.3L123.5 123.3L124.5 123.3L125.5 123.3L126.5 124.0L127.5 124.0L128.5 124.0L129.5 123.3L130.5 124.0L131.5 124.0L132.5 124.0L133.5 124.0L134.5 124.0L135.4 124.0L136.4 124.0L137.4 124.0L138.4 124.0L139.4 124.0L140.4 124.0L141.4 124.0L142.4 124.0L143.4 124.7L144.4 124.0L145.4 124.7L146.4 124.0L147.4 124.7L148.4 124.7L149.4 124.7L150.4 124.7L151.4 124.7L152.4 124.7L153.4 124.7L154.4 124.7L155.4 124.7L156.4 124.7L157.4 124.7L158.4 124.7L159.4 124.7L160.4 125.4L161.4 124.7L162.4 125.4L163.4 125.4L164.4 125.4L165.4 125.4L166.4 125.4L167.4 125.4L168.4 125.4L169.4 125.4L170.4 125.4L171.4 124.7L172.4 125.4L173.4 125.4L174.4 125.4L175.4 125.4L176.4 125.4L177.4 125.4L178.4 125.4L179.4 125.4L180.4 125.4L181.4 125.4L182.4 125.4L183.4 125.4L184.4 125.4L185.4 125.4L186.4 125.4L187.4 125.4L188.4 125.4L189.4 125.4L190.4 125.4L191.4 125.4L192.4 125.4L193.4 125.4L194.4 125.4L195.4 125.4L196.4 125.4L197.4 125.4L198.4 125.4L199.4 125.4L200.4 125.4L201.4 125.4L202.4 125.4L203.4 125.4L204.4 125.4L205.4 125.4L206.4 125.4L207.4 125.4L208.4 126.1L209.4 125.4L210.4 125.4L211.4 125.4L212.4 125.4L213.4 126.1L214.4 125.4L215.4 125.4L216.4 126.1L217.4 125.4L218.4 126.1L219.4 126.1L220.3 126.1L221.3 125.4L222.3 125.4L223.3 125.4L224.3 126.1L225.3 126.1L226.3 126.1L227.3 126.1L228.3 126.1L229.3 126.1L230.3 126.1L231.3 126.1L232.3 126.1L233.3 126.1L234.3 126.1L235.3 126.1L236.3 126.1L237.3 126.1L238.3 126.1L239.3 126.1L240.3 126.1L241.3 126.1L242.3 126.1L243.3 126.7L244.3 126.1L245.3 126.7L246.3 126.1L247.3 126.7L248.3 126.7L249.3 126.7L250.3 126.7L251.3 126.7L252.3 126.7L253.3 126.7L254.3 126.7L255.3 126.7L256.3 126.7L257.3 126.7L258.3 127.4L259.3 126.7L260.3 127.4L261.3 127.4L262.3 127.4L263.3 127.4L264.3 127.4L265.3 128.1L266.3 128.1L267.3 128.1L268.3 128.1L269.3 128.1L270.3 128.1L271.3 128.1L272.3 128.1L273.3 128.1L274.3 128.1L275.3 128.1L276.3 128.1L277.3 128.1L278.3 128.1L279.3 128.1L280.3 128.8L281.3 128.1L282.3 128.1L283.3 128.8L284.3 128.8L285.3 128.8L286.3 128.8L287.3 128.8L288.3 128.8L289.3 128.8L290.3 128.8L291.3 128.8L292.3 128.8L293.3 128.8L294.3 128.8L295.3 128.8L296.3 128.8L297.3 128.8L298.3 129.5L299.3 128.8L300.3 128.8L301.3 128.8L302.3 128.8L303.2 128.8L304.2 128.8L305.2 129.5L306.2 128.8L307.2 129.5L308.2 128.8L309.2 129.5L310.2 128.8L311.2 129.5L312.2 128.8L313.2 129.5L314.2 128.8L315.2 129.5L316.2 129.5L317.2 129.5L318.2 129.5L319.2 129.5L320.2 129.5L321.2 129.5L322.2 129.5L323.2 129.5L324.2 129.5L325.2 128.8L326.2 128.8L327.2 128.8L328.2 128.8L329.2 128.8L330.2 128.8L331.2 128.8L332.2 128.8L333.2 128.8L334.2 128.8L335.2 128.8L336.2 128.8L337.2 128.1L338.2 128.8L339.2 128.1L340.2 128.8L341.2 128.8L342.2 128.1L343.2 128.8L344.2 128.1L345.2 128.8L346.2 128.8L347.2 128.1L348.2 128.1L349.2 128.8L350.2 128.8L351.2 128.1L352.2 128.8L353.2 128.8L354.2 128.1L355.2 128.8L356.2 128.8L357.2 128.1L358.2 128.1L359.2 128.1L360.2 128.1L361.2 128.1L362.2 128.8L363.2 128.1L364.2 128.8L365.2 128.1L366.2 128.1L367.2 128.8L368.2 128.1L369.2 128.8L370.2 128.8L371.2 128.1L372.2 128.1L373.2 128.1L374.2 128.1L375.2 128.1L376.2 128.8L377.2 128.8L378.2 128.8L379.2 128.8L380.2 128.8L381.2 128.8L382.2 129.5L383.2 129.5L384.2 129.5L385.2 129.5L386.2 129.5L387.2 129.5L388.1 130.2L389.1 130.2L390.1 130.2L391.1 130.2L392.1 130.2L393.1 130.9L394.1 130.9L395.1 130.9L396.1 130.9L397.1 130.9L398.1 130.9L399.1 131.6L400.1 131.6L401.1 131.6L402.1 132.3L403.1 132.3L404.1 132.3L405.1 132.3L406.1 132.3L407.1 132.3L408.1 133.0L409.1 133.0L410.1 133.0L411.1 133.0L412.1 133.0L413.1 133.7L414.1 133.0L415.1 133.7L416.1 133.0L417.1 133.0L418.1 133.0L419.1 133.7L420.1 133.7L421.1 133.7L422.1 133.0L423.1 133.7L424.1 133.7L425.1 133.0L426.1 133.0L427.1 133.0L428.1 132.3L429.1 132.3L430.1 132.3L431.1 132.3L432.1 131.6L433.1 131.6L434.1 131.6L435.1 131.6L436.1 130.9L437.1 130.9L438.1 130.9L439.1 130.2L440.1 130.2L441.1 130.2L442.1 130.2L443.1 129.5L444.1 129.5L445.1 129.5L446.1 128.8L447.1 128.1L448.1 128.1L449.1 128.1L450.1 128.1L451.1 127.4L452.1 127.4L453.1 127.4L454.1 126.7L455.1 126.7L456.1 126.1L457.1 126.1L458.1 125.4L459.1 125.4L460.1 125.4L461.1 124.7L462.1 124.7L463.1 124.0L464.1 124.7L465.1 124.0L466.1 124.0L467.1 123.3L468.1 123.3L469.1 123.3L470.1 123.3L471.1 122.6L472.0 122.6L473.0 121.9L474.0 121.9L475.0 121.2L476.0 121.2L477.0 121.2L478.0 120.5L479.0 120.5L480.0 120.5L481.0 119.8L482.0 119.8L483.0 119.8L484.0 119.1L485.0 119.1L486.0 119.1L487.0 119.1L488.0 118.4L489.0 118.4L490.0 118.4L491.0 118.4L492.0 117.7L493.0 117.7L494.0 117.7L495.0 117.0L496.0 117.0L497.0 117.0L498.0 116.3L499.0 116.3L500.0 116.3L501.0 116.3L502.0 116.3L503.0 115.6L504.0 115.6L505.0 115.6L506.0 115.0L507.0 115.0L508.0 115.0L509.0 115.0L510.0 114.3L511.0 114.3L512.0 114.3L513.0 114.3L514.0 113.6L515.0 113.6L516.0 113.6L517.0 113.6L518.0 113.6L519.0 113.6L520.0 112.9L521.0 112.9L522.0 112.9L523.0 112.9L524.0 112.9L525.0 112.9L526.0 112.2L527.0 112.2L528.0 112.2L529.0 112.2L530.0 111.5L531.0 111.5L532.0 111.5L533.0 111.5L534.0 110.8L535.0 110.8L536.0 110.8L537.0 110.8L538.0 110.1L539.0 110.1L540.0 110.1L541.0 109.4L542.0 109.4L543.0 109.4L544.0 109.4L545.0 109.4L546.0 108.7L547.0 108.7L548.0 108.0L549.0 108.0L550.0 108.0L551.0 108.0L552.0 107.3L553.0 107.3L554.0 107.3L555.0 107.3L555.9 106.6L556.9 106.6L557.9 105.9L558.9 106.6L559.9 105.9L560.9 105.9L561.9 105.2L562.9 105.2L563.9 105.9L564.9 105.2L565.9 104.5L566.9 104.5L567.9 104.5L568.9 104.5L569.9 104.5L570.9 103.9L571.9 103.9L572.9 103.2L573.9 103.2L574.9 103.2L575.9 103.2L576.9 103.2L577.9 102.5L578.9 102.5L579.9 101.8L580.9 101.8L581.9 101.8L582.9 101.8L583.9 101.8L584.9 101.1L585.9 101.1L586.9 101.1L587.9 100.4L588.9 100.4L589.9 100.4L590.9 99.7L591.9 99.7L592.9 99.7L593.9 99.7L594.9 99.0L595.9 99.0L596.9 99.0L597.9 99.0L598.9 98.3L599.9 98.3L600.9 98.3L601.9 98.3L602.9 97.6L603.9 97.6L604.9 97.6L605.9 96.9L606.9 96.9L607.9 96.9L608.9 96.2L609.9 96.2L610.9 96.2L611.9 95.5L612.9 95.5L613.9 95.5L614.9 95.5L615.9 94.8L616.9 94.8L617.9 94.8L618.9 94.1L619.9 94.1L620.9 94.1L621.9 93.4L622.9 93.4L623.9 93.4L624.9 93.4L625.9 92.8L626.9 92.8L627.9 92.8L628.9 92.8L629.9 92.1L630.9 92.8L631.9 92.1L632.9 92.1L633.9 92.1L634.9 91.4L635.9 91.4L636.9 91.4L637.9 91.4L638.9 90.7L639.8 90.7L640.8 90.7L641.8 90.7L642.8 90.0L643.8 90.0L644.8 90.0L645.8 90.0L646.8 90.0L647.8 89.3L648.8 89.3L649.8 89.3L650.8 89.3L651.8 88.6L652.8 89.3L653.8 88.6L654.8 88.6L655.8 88.6L656.8 88.6L657.8 87.9L658.8 87.9L659.8 87.9L660.8 87.9L661.8 87.2L662.8 87.2L663.8 87.2L664.8 87.2L665.8 87.2L666.8 86.5L667.8 86.5L668.8 86.5L669.8 86.5L670.8 86.5L671.8 85.8L672.8 85.8L673.8 85.8L674.8 85.1L675.8 85.1L676.8 85.1L677.8 85.1L678.8 84.4L679.8 84.4L680.8 84.4L681.8 84.4L682.8 83.7L683.8 83.7L684.8 83.7L685.8 83.7L686.8 83.0L687.8 83.0L688.8 83.0L689.8 82.3L690.8 82.3L691.8 81.7L692.8 81.7L693.8 81.7L694.8 81.0L695.8 81.0L696.8 80.3L697.8 80.3L698.8 79.6L699.8 79.6L700.8 79.6L701.8 78.9L702.8 78.9L703.8 78.2L704.8 78.2L705.8 78.2L706.8 78.2L707.8 78.2L708.8 78.2L709.8 78.2L710.8 78.2L711.8 78.2L712.8 78.2L713.8 78.2L714.8 78.2L715.8 78.2L716.8 78.2L717.8 78.2L718.8 78.9L719.8 78.9L720.8 78.9L721.8 79.6L722.8 79.6L723.7 79.6L724.7 80.3L725.7 80.3L726.7 80.3L727.7 80.3L728.7 81.0L729.7 81.0L730.7 81.7L731.7 81.7L732.7 81.7L733.7 82.3L734.7 82.3L735.7 82.3L736.7 83.0L737.7 83.0L738.7 83.0L739.7 83.7L740.7 83.7L741.7 83.7L742.7 84.4L743.7 84.4L744.7 85.1L745.7 85.1L746.7 85.8L747.7 85.8L748.7 85.8L749.7 85.8L750.7 85.8L751.7 86.5L752.7 86.5L753.7 87.2L754.7 87.2L755.7 87.2L756.7 87.9L757.7 87.9L758.7 87.9L759.7 88.6L760.7 88.6L761.7 89.3L762.7 89.3L763.7 89.3L764.7 89.3L765.7 89.3L766.7 90.0L767.7 90.0L768.7 90.7L769.7 90.7L770.7 90.7L771.7 91.4L772.7 91.4L773.7 91.4L774.7 91.4L775.7 92.1L776.7 92.8L777.7 92.8L778.7 93.4L779.7 93.4L780.7 94.1L781.7 94.1L782.7 94.8L783.7 94.8L784.7 95.5L785.7 95.5L786.7 96.2L787.7 96.9L788.7 97.6L789.7 97.6L790.7 98.3L791.7 99.0L792.7 99.7L793.7 100.4L794.7 101.1L795.7 102.5L796.7 104.5L797.7 106.6L798.7 108.7L799.7 110.1L800.7 111.5L801.7 112.9L802.7 114.3L803.7 115.0L804.7 115.6L805.7 116.3L806.6 117.0L807.6 117.7L808.6 118.4L809.6 118.4L810.6 119.1L811.6 119.8L812.6 119.8L813.6 119.8L814.6 120.5L815.6 120.5L816.6 121.2L817.6 120.5L818.6 120.5L819.6 120.5L820.6 120.5L821.6 119.8L822.6 119.1L823.6 119.1L824.6 119.1L825.6 118.4L826.6 118.4L827.6 118.4L828.6 117.7L829.6 118.4L830.6 118.4L831.6 117.7L832.6 117.7L833.6 118.4L834.6 118.4L835.6 118.4L836.6 118.4L837.6 118.4L838.6 118.4L839.6 118.4L840.6 119.1L841.6 119.1L842.6 119.8L843.6 119.8L844.6 119.8L845.6 120.5L846.6 120.5L847.6 121.2L848.6 121.9L849.6 121.9L850.6 121.9L851.6 122.6L852.6 123.3L853.6 123.3L854.6 124.0L855.6 124.0L856.6 124.0L857.6 124.0L858.6 124.7L859.6 124.7L860.6 124.7L861.6 125.4L862.6 125.4L863.6 126.1L864.6 126.1L865.6 126.1L866.6 126.7L867.6 126.7L868.6 127.4L869.6 127.4L870.6 127.4L871.6 127.4L872.6 127.4L873.6 127.4L874.6 127.4L875.6 127.4L876.6 127.4L877.6 127.4L878.6 127.4L879.6 127.4L880.6 126.7L881.6 127.4L882.6 127.4L883.6 128.1L884.6 128.1L885.6 128.1L886.6 128.8L887.6 128.8L888.6 128.8L889.6 128.8L890.6 128.8L891.5 129.5L892.5 129.5L893.5 129.5L894.5 130.2L895.5 130.2L896.5 130.2L897.5 130.2L898.5 130.9L899.5 130.9L900.5 130.9L901.5 130.9L902.5 130.9L903.5 131.6L904.5 131.6L905.5 131.6L906.5 132.3L907.5 131.6L908.5 132.3L909.5 132.3L910.5 132.3L911.5 133.0L912.5 133.0L913.5 133.0L914.5 133.0L915.5 133.0L916.5 133.7L917.5 133.7L918.5 133.7L919.5 133.7L920.5 133.7L921.5 134.4L922.5 134.4L923.5 134.4L924.5 134.4L925.5 134.4L926.5 135.1L927.5 135.1L928.5 135.1L929.5 135.1L930.5 135.1L931.5 135.8L932.5 135.1" stroke="#0072B2" stroke-width="2.2" fill="none" stroke-linejoin="round" stroke-linecap="butt"/>
<path d="M93.5 101.1L94.5 101.1L95.5 101.1L96.5 101.1L97.5 101.1L98.5 101.1L99.5 101.1L100.5 101.1L101.5 101.1L102.5 101.1L103.5 101.1L104.5 101.1L105.5 101.1L106.5 101.1L107.5 101.1L108.5 101.1L109.5 101.1L110.5 101.1L111.5 101.1L112.5 101.1L113.5 101.1L114.5 101.1L115.5 101.1L116.5 101.1L117.5 101.1L118.5 101.1L119.5 101.1L120.5 101.1L121.5 101.1L122.5 101.1L123.5 101.1L124.5 101.1L125.5 101.1L126.5 101.1L127.5 101.1L128.5 101.1L129.5 101.1L130.5 101.1L131.5 101.1L132.5 101.1L133.5 101.1L134.5 101.1L135.4 101.1L136.4 101.1L137.4 101.1L138.4 101.1L139.4 101.1L140.4 101.1L141.4 101.1L142.4 101.1L143.4 101.1L144.4 101.1L145.4 101.1L146.4 101.1L147.4 101.1L148.4 101.1L149.4 101.1L150.4 101.1L151.4 101.1L152.4 101.1L153.4 101.1L154.4 101.1L155.4 101.1L156.4 101.1L157.4 101.1L158.4 101.1L159.4 101.1L160.4 101.1L161.4 101.1L162.4 101.1L163.4 101.1L164.4 101.1L165.4 101.1L166.4 101.1L167.4 101.1L168.4 101.1L169.4 101.1L170.4 101.1L171.4 101.1L172.4 101.1L173.4 101.1L174.4 101.1L175.4 101.1L176.4 101.1L177.4 101.1L178.4 101.1L179.4 101.1L180.4 101.1L181.4 101.1L182.4 101.1L183.4 101.1L184.4 101.1L185.4 101.1L186.4 101.1L187.4 101.1L188.4 101.1L189.4 101.1L190.4 101.1L191.4 101.1L192.4 101.1L193.4 101.1L194.4 101.1L195.4 101.1L196.4 101.1L197.4 101.1L198.4 101.1L199.4 101.1L200.4 101.8L201.4 101.1L202.4 101.1L203.4 101.1L204.4 101.1L205.4 101.1L206.4 101.1L207.4 101.1L208.4 101.1L209.4 101.1L210.4 101.1L211.4 101.8L212.4 101.1L213.4 101.1L214.4 101.1L215.4 101.1L216.4 101.1L217.4 101.1L218.4 101.1L219.4 101.8L220.3 101.1L221.3 101.1L222.3 101.8L223.3 101.8L224.3 101.8L225.3 101.8L226.3 101.1L227.3 101.1L228.3 101.8L229.3 101.8L230.3 101.1L231.3 101.1L232.3 101.1L233.3 101.8L234.3 101.8L235.3 101.8L236.3 101.1L237.3 101.1L238.3 101.1L239.3 101.1L240.3 101.1L241.3 101.8L242.3 101.8L243.3 101.8L244.3 101.1L245.3 101.1L246.3 101.8L247.3 101.8L248.3 101.8L249.3 101.8L250.3 101.8L251.3 101.8L252.3 101.8L253.3 101.8L254.3 101.1L255.3 101.8L256.3 101.8L257.3 101.1L258.3 101.8L259.3 101.8L260.3 101.8L261.3 101.8L262.3 101.8L263.3 101.8L264.3 101.8L265.3 101.8L266.3 101.8L267.3 101.8L268.3 101.8L269.3 101.8L270.3 101.8L271.3 101.8L272.3 101.8L273.3 101.8L274.3 101.8L275.3 101.8L276.3 101.8L277.3 101.8L278.3 101.8L279.3 101.8L280.3 101.8L281.3 101.8L282.3 101.8L283.3 101.8L284.3 101.8L285.3 101.8L286.3 101.8L287.3 101.8L288.3 101.8L289.3 102.5L290.3 101.8L291.3 101.8L292.3 101.8L293.3 102.5L294.3 102.5L295.3 101.8L296.3 102.5L297.3 102.5L298.3 102.5L299.3 102.5L300.3 102.5L301.3 102.5L302.3 102.5L303.2 102.5L304.2 102.5L305.2 102.5L306.2 102.5L307.2 102.5L308.2 102.5L309.2 102.5L310.2 102.5L311.2 102.5L312.2 102.5L313.2 102.5L314.2 102.5L315.2 102.5L316.2 102.5L317.2 102.5L318.2 102.5L319.2 103.2L320.2 102.5L321.2 102.5L322.2 102.5L323.2 102.5L324.2 102.5L325.2 102.5L326.2 102.5L327.2 102.5L328.2 103.2L329.2 102.5L330.2 103.2L331.2 103.2L332.2 103.2L333.2 103.2L334.2 103.2L335.2 103.2L336.2 103.2L337.2 103.2L338.2 103.2L339.2 103.2L340.2 103.2L341.2 102.5L342.2 102.5L343.2 103.2L344.2 102.5L345.2 102.5L346.2 102.5L347.2 102.5L348.2 103.2L349.2 103.2L350.2 102.5L351.2 102.5L352.2 102.5L353.2 103.2L354.2 103.2L355.2 103.2L356.2 102.5L357.2 103.2L358.2 103.2L359.2 103.2L360.2 102.5L361.2 103.2L362.2 102.5L363.2 103.2L364.2 103.2L365.2 103.2L366.2 103.2L367.2 103.2L368.2 103.2L369.2 103.2L370.2 103.2L371.2 103.2L372.2 103.2L373.2 103.2L374.2 103.2L375.2 103.2L376.2 103.2L377.2 103.2L378.2 103.2L379.2 103.2L380.2 103.2L381.2 103.2L382.2 103.2L383.2 102.5L384.2 103.2L385.2 103.2L386.2 103.2L387.2 103.2L388.1 103.2L389.1 103.2L390.1 103.2L391.1 103.2L392.1 103.2L393.1 103.2L394.1 103.2L395.1 103.2L396.1 103.2L397.1 103.2L398.1 103.2L399.1 103.2L400.1 103.2L401.1 103.2L402.1 103.2L403.1 103.2L404.1 103.2L405.1 103.2L406.1 103.2L407.1 103.2L408.1 103.2L409.1 103.2L410.1 103.2L411.1 103.2L412.1 103.2L413.1 103.2L414.1 103.2L415.1 103.2L416.1 103.2L417.1 103.2L418.1 103.2L419.1 103.2L420.1 103.2L421.1 103.2L422.1 103.2L423.1 103.2L424.1 103.2L425.1 103.2L426.1 103.2L427.1 103.2L428.1 102.5L429.1 103.2L430.1 102.5L431.1 103.2L432.1 103.2L433.1 103.2L434.1 102.5L435.1 103.2L436.1 103.2L437.1 103.2L438.1 103.2L439.1 103.2L440.1 103.2L441.1 103.2L442.1 103.2L443.1 103.2L444.1 103.2L445.1 103.2L446.1 103.2L447.1 103.2L448.1 103.2L449.1 103.2L450.1 102.5L451.1 103.2L452.1 103.2L453.1 103.2L454.1 103.2L455.1 103.2L456.1 103.2L457.1 103.2L458.1 103.2L459.1 103.2L460.1 103.2L461.1 103.2L462.1 103.2L463.1 103.2L464.1 103.2L465.1 103.2L466.1 103.2L467.1 103.2L468.1 103.2L469.1 103.2L470.1 103.2L471.1 103.2L472.0 103.2L473.0 103.2L474.0 103.2L475.0 103.2L476.0 103.2L477.0 103.2L478.0 103.2L479.0 103.2L480.0 103.2L481.0 103.2L482.0 103.2L483.0 103.2L484.0 103.2L485.0 103.2L486.0 103.2L487.0 103.2L488.0 103.2L489.0 103.2L490.0 103.2L491.0 103.2L492.0 103.2L493.0 103.2L494.0 103.2L495.0 103.2L496.0 103.2L497.0 103.2L498.0 103.2L499.0 103.9L500.0 103.9L501.0 103.2L502.0 103.2L503.0 103.9L504.0 103.9L505.0 103.9L506.0 103.9L507.0 103.9L508.0 103.9L509.0 103.9L510.0 103.9L511.0 103.9L512.0 103.9L513.0 103.9L514.0 103.9L515.0 103.9L516.0 103.9L517.0 103.9L518.0 103.9L519.0 103.9L520.0 103.9L521.0 103.9L522.0 103.9L523.0 103.9L524.0 103.9L525.0 103.9L526.0 103.9L527.0 103.9L528.0 103.9L529.0 103.9L530.0 103.9L531.0 103.9L532.0 103.9L533.0 103.9L534.0 103.9L535.0 103.9L536.0 103.9L537.0 103.9L538.0 103.9L539.0 103.9L540.0 103.9L541.0 103.9L542.0 103.9L543.0 103.9L544.0 103.9L545.0 103.9L546.0 103.9L547.0 103.9L548.0 103.9L549.0 103.9L550.0 103.9L551.0 103.9L552.0 103.9L553.0 103.9L554.0 103.9L555.0 103.9L555.9 103.9L556.9 103.9L557.9 103.9L558.9 103.9L559.9 103.9L560.9 103.9L561.9 103.9L562.9 103.9L563.9 103.9L564.9 103.9L565.9 103.9L566.9 103.9L567.9 103.9L568.9 103.9L569.9 103.9L570.9 103.9L571.9 103.9L572.9 103.9L573.9 103.9L574.9 103.9L575.9 103.9L576.9 103.9L577.9 103.9L578.9 103.9L579.9 103.9L580.9 103.9L581.9 103.9L582.9 103.9L583.9 103.9L584.9 103.9L585.9 103.9L586.9 103.9L587.9 103.9L588.9 103.9L589.9 103.9L590.9 103.9L591.9 103.9L592.9 103.9L593.9 103.9L594.9 103.9L595.9 103.9L596.9 103.9L597.9 103.9L598.9 103.9L599.9 103.9L600.9 103.9L601.9 103.9L602.9 104.5L603.9 103.9L604.9 103.9L605.9 103.9L606.9 103.9L607.9 103.9L608.9 103.9L609.9 103.9L610.9 104.5L611.9 103.9L612.9 103.9L613.9 103.9L614.9 104.5L615.9 104.5L616.9 103.9L617.9 104.5L618.9 103.9L619.9 103.9L620.9 103.9L621.9 104.5L622.9 103.9L623.9 104.5L624.9 103.9L625.9 103.9L626.9 104.5L627.9 103.9L628.9 103.9L629.9 104.5L630.9 103.9L631.9 104.5L632.9 104.5L633.9 104.5L634.9 103.9L635.9 104.5L636.9 104.5L637.9 103.9L638.9 103.9L639.8 103.9L640.8 103.9L641.8 104.5L642.8 103.9L643.8 104.5L644.8 103.9L645.8 104.5L646.8 103.9L647.8 104.5L648.8 104.5L649.8 104.5L650.8 103.9L651.8 103.9L652.8 104.5L653.8 104.5L654.8 103.9L655.8 104.5L656.8 103.9L657.8 103.9L658.8 103.9L659.8 103.9L660.8 104.5L661.8 103.9L662.8 104.5L663.8 103.9L664.8 104.5L665.8 104.5L666.8 104.5L667.8 104.5L668.8 104.5L669.8 104.5L670.8 103.9L671.8 104.5L672.8 104.5L673.8 104.5L674.8 103.9L675.8 104.5L676.8 104.5L677.8 104.5L678.8 104.5L679.8 104.5L680.8 104.5L681.8 103.9L682.8 103.9L683.8 104.5L684.8 104.5L685.8 104.5L686.8 103.9L687.8 104.5L688.8 104.5L689.8 104.5L690.8 104.5L691.8 104.5L692.8 104.5L693.8 104.5L694.8 104.5L695.8 104.5L696.8 104.5L697.8 104.5L698.8 104.5L699.8 104.5L700.8 104.5L701.8 104.5L702.8 104.5L703.8 104.5L704.8 104.5L705.8 104.5L706.8 104.5L707.8 104.5L708.8 104.5L709.8 104.5L710.8 104.5L711.8 104.5L712.8 104.5L713.8 104.5L714.8 104.5L715.8 104.5L716.8 104.5L717.8 104.5L718.8 104.5L719.8 104.5L720.8 104.5L721.8 104.5L722.8 104.5L723.7 104.5L724.7 104.5L725.7 104.5L726.7 104.5L727.7 104.5L728.7 104.5L729.7 104.5L730.7 104.5L731.7 104.5L732.7 104.5L733.7 104.5L734.7 104.5L735.7 104.5L736.7 104.5L737.7 104.5L738.7 104.5L739.7 104.5L740.7 104.5L741.7 104.5L742.7 104.5L743.7 104.5L744.7 104.5L745.7 104.5L746.7 104.5L747.7 104.5L748.7 104.5L749.7 104.5L750.7 104.5L751.7 104.5L752.7 104.5L753.7 105.2L754.7 104.5L755.7 104.5L756.7 105.2L757.7 105.2L758.7 105.2L759.7 104.5L760.7 105.2L761.7 104.5L762.7 105.2L763.7 104.5L764.7 105.2L765.7 105.2L766.7 104.5L767.7 104.5L768.7 105.2L769.7 105.2L770.7 105.2L771.7 105.2L772.7 105.2L773.7 105.2L774.7 105.2L775.7 104.5L776.7 105.2L777.7 105.2L778.7 104.5L779.7 105.2L780.7 105.2L781.7 105.2L782.7 105.2L783.7 105.2L784.7 105.2L785.7 105.2L786.7 105.2L787.7 105.2L788.7 105.2L789.7 105.2L790.7 105.2L791.7 105.2L792.7 105.2L793.7 105.2L794.7 105.2L795.7 105.2L796.7 105.2L797.7 105.2L798.7 105.2L799.7 105.2L800.7 105.2L801.7 105.2L802.7 105.2L803.7 105.2L804.7 105.2L805.7 105.2L806.6 105.2L807.6 105.2L808.6 105.2L809.6 105.2L810.6 105.2L811.6 105.2L812.6 105.2L813.6 105.2L814.6 105.2L815.6 105.2L816.6 105.2L817.6 105.2L818.6 105.2L819.6 105.2L820.6 105.2L821.6 105.2L822.6 105.2L823.6 105.2L824.6 105.2L825.6 105.2L826.6 105.2L827.6 105.2L828.6 105.2L829.6 105.2L830.6 105.2L831.6 105.2L832.6 105.2L833.6 105.2L834.6 105.2L835.6 105.2L836.6 105.2L837.6 105.2L838.6 105.2L839.6 105.2L840.6 105.2L841.6 105.9L842.6 105.2L843.6 105.2L844.6 105.2L845.6 105.9L846.6 105.9L847.6 105.2L848.6 105.9L849.6 105.2L850.6 105.2L851.6 105.2L852.6 105.2L853.6 105.9L854.6 105.2L855.6 105.9L856.6 105.9L857.6 105.2L858.6 105.2L859.6 105.9L860.6 105.9L861.6 105.9L862.6 105.9L863.6 105.9L864.6 105.9L865.6 105.9L866.6 105.9L867.6 105.9L868.6 105.9L869.6 105.2L870.6 105.9L871.6 105.9L872.6 105.9L873.6 105.9L874.6 105.9L875.6 105.9L876.6 105.9L877.6 105.9L878.6 105.9L879.6 105.9L880.6 105.9L881.6 105.9L882.6 105.9L883.6 105.9L884.6 105.9L885.6 105.9L886.6 105.9L887.6 105.9L888.6 105.9L889.6 105.9L890.6 105.9L891.5 105.9L892.5 105.9L893.5 105.9L894.5 105.9L895.5 105.9L896.5 105.9L897.5 106.6L898.5 105.9L899.5 105.9L900.5 105.9L901.5 105.9L902.5 105.9L903.5 105.9L904.5 106.6L905.5 106.6L906.5 105.9L907.5 106.6L908.5 106.6L909.5 106.6L910.5 105.9L911.5 106.6L912.5 106.6L913.5 106.6L914.5 106.6L915.5 106.6L916.5 106.6L917.5 105.9L918.5 106.6L919.5 106.6L920.5 106.6L921.5 106.6L922.5 106.6L923.5 106.6L924.5 106.6L925.5 106.6L926.5 106.6L927.5 106.6L928.5 106.6L929.5 106.6L930.5 106.6L931.5 106.6L932.5 106.6" stroke="#000000" stroke-width="2.2" fill="none" stroke-linejoin="round" stroke-linecap="butt"/>
<path d="M93.5 160.0L94.7 160.5L95.8 160.5L97.0 159.9L98.2 157.9L99.3 157.2L100.5 156.6L101.7 155.2L102.8 154.6L104.0 153.9L105.2 153.9L106.3 153.1L107.5 153.4L108.6 152.8L109.8 151.8L111.0 151.9L112.1 152.1L113.3 151.9L114.5 150.9L115.6 151.7L116.8 151.4L118.0 151.6L119.1 150.6L120.3 151.6L121.5 151.1L122.6 151.2L123.8 151.4L125.0 151.6L126.1 152.2L127.3 151.3L128.5 150.7L129.6 151.2L130.8 150.5L132.0 151.0L133.1 150.8L134.3 151.3L135.4 151.1L136.6 150.8L137.8 150.4L138.9 151.2L140.1 151.3L141.3 150.7L142.4 150.6L143.6 150.3L144.8 149.7L145.9 150.6L147.1 149.4L148.3 149.8L149.4 149.9L150.6 150.5L151.8 149.1L152.9 148.8L154.1 149.2L155.3 149.1L156.4 149.4L157.6 149.9L158.8 149.3L159.9 149.5L161.1 149.3L162.3 149.0L163.4 148.7L164.6 147.9L165.7 147.2L166.9 147.5L168.1 146.8L169.2 146.9L170.4 146.6L171.6 145.9L172.7 146.0L173.9 145.3L175.1 145.5L176.2 145.6L177.4 145.5L178.6 144.4L179.7 144.9L180.9 145.1L182.1 144.8L183.2 145.1L184.4 144.9L185.6 144.8L186.7 145.3L187.9 144.5L189.1 144.2L190.2 144.2L191.4 144.3L192.5 143.7L193.7 144.4L194.9 143.5L196.0 143.5L197.2 143.7L198.4 143.0L199.5 144.1L200.7 143.6L201.9 143.8L203.0 144.1L204.2 143.9L205.4 143.6L206.5 143.6L207.7 143.4L208.9 144.0L210.0 143.8L211.2 143.8L212.4 144.0L213.5 143.7L214.7 144.7L215.9 144.3L217.0 144.4L218.2 144.7L219.4 144.6L220.5 145.5L221.7 144.8L222.8 146.7L224.0 145.4L225.2 147.0L226.3 147.4L227.5 147.5L228.7 147.7L229.8 147.8L231.0 148.2L232.2 148.0L233.3 148.1L234.5 149.1L235.7 148.1L236.8 148.7L238.0 149.0L239.2 148.7L240.3 149.3L241.5 148.7L242.7 150.1L243.8 149.0L245.0 150.0L246.2 149.5L247.3 150.2L248.5 149.3L249.6 150.0L250.8 150.0L252.0 150.8L253.1 151.0L254.3 150.1L255.5 149.5L256.6 150.1L257.8 150.9L259.0 149.3L260.1 150.4L261.3 149.7L262.5 150.5L263.6 150.4L264.8 149.8L266.0 151.3L267.1 150.4L268.3 150.1L269.5 150.0L270.6 150.5L271.8 148.9L273.0 149.5L274.1 149.3L275.3 150.1L276.4 149.0L277.6 148.5L278.8 148.3L279.9 148.3L281.1 148.5L282.3 148.4L283.4 148.1L284.6 147.7L285.8 148.0L286.9 148.0L288.1 147.6L289.3 147.9L290.4 147.6L291.6 147.6L292.8 148.1L293.9 146.8L295.1 147.2L296.3 148.0L297.4 148.0L298.6 147.7L299.8 147.7L300.9 147.9L302.1 147.2L303.2 147.5L304.4 148.0L305.6 147.0L306.7 148.2L307.9 148.1L309.1 149.2L310.2 149.3L311.4 149.5L312.6 148.7L313.7 149.1L314.9 149.4L316.1 149.3L317.2 148.8L318.4 149.3L319.6 148.8L320.7 148.0L321.9 146.3L323.1 142.7L324.2 140.4L325.4 139.3L326.6 138.5L327.7 137.0L328.9 136.1L330.1 135.3L331.2 135.6L332.4 135.0L333.5 134.7L334.7 136.3L335.9 137.0L337.0 136.6L338.2 136.4L339.4 137.8L340.5 137.2L341.7 137.8L342.9 138.0L344.0 138.0L345.2 138.6L346.4 139.1L347.5 138.9L348.7 138.4L349.9 140.1L351.0 141.2L352.2 143.2L353.4 144.1L354.5 145.7L355.7 145.6L356.9 146.2L358.0 147.2L359.2 147.7L360.3 149.0L361.5 149.7L362.7 149.5L363.8 150.7L365.0 150.2L366.2 150.1L367.3 152.0L368.5 152.2L369.7 151.0L370.8 151.7L372.0 151.6L373.2 151.9L374.3 153.6L375.5 152.8L376.7 153.7L377.8 154.5L379.0 155.5L380.2 156.4L381.3 158.0L382.5 159.8L383.7 160.8L384.8 162.1L386.0 162.9L387.2 164.7L388.3 165.7L389.5 165.0L390.6 166.7L391.8 166.0L393.0 165.8L394.1 167.5L395.3 167.4L396.5 166.9L397.6 166.1L398.8 167.1L400.0 167.4L401.1 167.1L402.3 167.8L403.5 167.2L404.6 165.4L405.8 164.8L407.0 164.5L408.1 164.2L409.3 161.7L410.5 161.1L411.6 158.4L412.8 158.2L414.0 157.3L415.1 158.4L416.3 158.9L417.4 160.6L418.6 159.5L419.8 157.9L420.9 156.3L422.1 155.9L423.3 151.4L424.4 154.9L425.6 150.3L426.8 153.4L427.9 152.9L429.1 148.7L430.3 150.2L431.4 150.3L432.6 148.2L433.8 142.3L434.9 147.6L436.1 146.2L437.3 142.0L438.4 144.8L439.6 137.5L440.8 144.6L441.9 141.3L443.1 137.7L444.2 139.7L445.4 139.6L446.6 141.1L447.7 137.4L448.9 134.3L450.1 136.3L451.2 137.4L452.4 130.9L453.6 131.3L454.7 131.3L455.9 132.7L457.1 133.8L458.2 127.7L459.4 130.0L460.6 130.5L461.7 128.9L462.9 126.2L464.1 123.8L465.2 125.2L466.4 125.1L467.6 126.1L468.7 122.6L469.9 121.3L471.1 118.7L472.2 118.7L473.4 119.1L474.5 116.9L475.7 116.4L476.9 120.1L478.0 122.0L479.2 122.1L480.4 122.1L481.5 119.9L482.7 118.9L483.9 121.5L485.0 121.0L486.2 119.1L487.4 117.8L488.5 115.7L489.7 123.8L490.9 116.8L492.0 120.7L493.2 117.0L494.4 115.8L495.5 112.6L496.7 120.7L497.9 116.6L499.0 128.3L500.2 121.1L501.3 129.1L502.5 125.0L503.7 124.1L504.8 122.9L506.0 116.0L507.2 118.5L508.3 117.7L509.5 115.5L510.7 113.6L511.8 109.1L513.0 111.3L514.2 113.1L515.3 115.9L516.5 108.5L517.7 109.7L518.8 108.8L520.0 113.3L521.2 107.2L522.3 109.6L523.5 104.1L524.7 112.3L525.8 107.6L527.0 104.4L528.1 110.0L529.3 108.6L530.5 109.6L531.6 108.5L532.8 104.6L534.0 106.3L535.1 110.1L536.3 98.1L537.5 108.3L538.6 101.8L539.8 105.1L541.0 102.7L542.1 102.7L543.3 101.6L544.5 101.3L545.6 97.9L546.8 105.5L548.0 107.3L549.1 108.2L550.3 109.2L551.5 100.7L552.6 107.9L553.8 107.2L555.0 100.9L556.1 102.5L557.3 101.0L558.4 109.9L559.6 104.7L560.8 105.0L561.9 99.4L563.1 98.8L564.3 96.8L565.4 93.5L566.6 86.4L567.8 99.6L568.9 95.8L570.1 95.3L571.3 98.9L572.4 102.0L573.6 94.4L574.8 92.9L575.9 92.6L577.1 95.3L578.3 98.7L579.4 93.4L580.6 84.7L581.8 83.3L582.9 89.0L584.1 85.7L585.2 83.2L586.4 83.9L587.6 92.0L588.7 90.4L589.9 90.9L591.1 94.1L592.2 84.8L593.4 96.1L594.6 88.9L595.7 86.8L596.9 88.5L598.1 86.9L599.2 95.8L600.4 87.7L601.6 86.1L602.7 85.5L603.9 89.9L605.1 88.3L606.2 92.0L607.4 86.7L608.6 90.0L609.7 85.1L610.9 81.9L612.0 82.8L613.2 77.5L614.4 79.1L615.5 83.4L616.7 86.5L617.9 87.7L619.0 91.7L620.2 85.0L621.4 83.7L622.5 84.7L623.7 86.6L624.9 79.4L626.0 80.1L627.2 81.5L628.4 76.5L629.5 80.1L630.7 72.1L631.9 72.9L633.0 78.6L634.2 88.7L635.4 92.6L636.5 91.6L637.7 85.9L638.9 86.2L640.0 88.4L641.2 78.5L642.3 81.5L643.5 85.7L644.7 82.3L645.8 83.8L647.0 86.3L648.2 79.2L649.3 82.3L650.5 83.0L651.7 83.3L652.8 82.8L654.0 81.9L655.2 82.9L656.3 82.4L657.5 82.0L658.7 86.5L659.8 81.7L661.0 76.9L662.2 75.5L663.3 79.3L664.5 82.0L665.7 74.1L666.8 75.7L668.0 81.3L669.1 85.5L670.3 88.8L671.5 77.6L672.6 84.4L673.8 94.5L675.0 89.3L676.1 93.1L677.3 86.3L678.5 90.9L679.6 91.1L680.8 86.7L682.0 83.6L683.1 90.9L684.3 88.6L685.5 91.3L686.6 85.3L687.8 87.3L689.0 88.2L690.1 91.6L691.3 85.1L692.5 91.1L693.6 87.1L694.8 87.4L695.9 95.9L697.1 94.3L698.3 94.1L699.4 98.2L700.6 95.4L701.8 94.3L702.9 99.8L704.1 96.2L705.3 94.7L706.4 97.2L707.6 98.0L708.8 100.4L709.9 97.6L711.1 97.7L712.3 98.9L713.4 96.5L714.6 99.8L715.8 101.1L716.9 97.7L718.1 100.2L719.3 100.1L720.4 100.4L721.6 103.7L722.8 104.8L723.9 101.9L725.1 107.1L726.2 105.9L727.4 104.0L728.6 106.8L729.7 105.9L730.9 108.7L732.1 107.3L733.2 110.9L734.4 112.9L735.6 117.6L736.7 118.4L737.9 119.2L739.1 121.0L740.2 120.7L741.4 119.7L742.6 117.3L743.7 116.3L744.9 116.5L746.1 117.5L747.2 116.2L748.4 117.1L749.6 117.8L750.7 115.9L751.9 117.7L753.0 118.1L754.2 118.9L755.4 117.7L756.5 118.7L757.7 119.8L758.9 120.6L760.0 121.2L761.2 122.9L762.4 123.3L763.5 124.8L764.7 125.1L765.9 129.2L767.0 130.3L768.2 132.1L769.4 133.7L770.5 135.1L771.7 137.1L772.9 138.4L774.0 142.8L775.2 144.1L776.4 145.0L777.5 146.2L778.7 148.5L779.8 149.6L781.0 151.3L782.2 152.4L783.3 153.8L784.5 153.8L785.7 154.1L786.8 154.3L788.0 157.2L789.2 157.0L790.3 158.3L791.5 159.0L792.7 160.6L793.8 161.0L795.0 161.5L796.2 162.9L797.3 164.2L798.5 163.7L799.7 165.6L800.8 166.8L802.0 167.6L803.2 168.7L804.3 170.1L805.5 169.9L806.6 171.5L807.8 173.3L809.0 172.3L810.1 174.3L811.3 176.0L812.5 175.6L813.6 176.9L814.8 177.0L816.0 178.9L817.1 179.0L818.3 180.8L819.5 181.3L820.6 180.8L821.8 182.2L823.0 181.2L824.1 183.8L825.3 183.8L826.5 185.8L827.6 184.3L828.8 186.3L830.0 188.4L831.1 187.8L832.3 189.2L833.5 187.8L834.6 189.5L835.8 191.9L836.9 191.5L838.1 192.5L839.3 194.4L840.4 195.6L841.6 196.8L842.8 198.6L843.9 198.8L845.1 200.7L846.3 201.0L847.4 201.8L848.6 202.7L849.8 201.2L850.9 203.1L852.1 203.4L853.3 202.4L854.4 205.2L855.6 206.4L856.8 207.8L857.9 208.2L859.1 207.2L860.3 209.4L861.4 210.5L862.6 209.5L863.7 209.2L864.9 207.3L866.1 209.4L867.2 207.0L868.4 209.2L869.6 205.9L870.7 206.1L871.9 206.5L873.1 204.3L874.2 205.2L875.4 205.0L876.6 205.5L877.7 204.7L878.9 205.2L880.1 206.6L881.2 206.4L882.4 206.2L883.6 204.8L884.7 204.8L885.9 204.9L887.1 205.2L888.2 205.3L889.4 204.5L890.6 204.0L891.7 203.5L892.9 202.4L894.0 201.8L895.2 204.6L896.4 203.7L897.5 205.7L898.7 207.2L899.9 207.6L901.0 208.0L902.2 209.3L903.4 210.0L904.5 210.0L905.7 210.8L906.9 213.2L908.0 211.1L909.2 213.4L910.4 212.1L911.5 213.0L912.7 213.6L913.9 213.0L915.0 214.6L916.2 214.2L917.4 212.8L918.5 212.4L919.7 214.2L920.8 215.3L922.0 216.4L923.2 216.7L924.3 217.7L925.5 218.5L926.7 220.4L927.8 222.2L929.0 222.3L930.2 222.1L931.3 224.1L932.5 227.3" stroke="#A0A0A0" stroke-width="1.15" fill="none" stroke-linejoin="round" stroke-linecap="butt"/>
<path d="M93.5 106.7L94.5 106.7L95.5 106.7L96.5 106.7L97.5 106.7L98.5 106.7L99.5 106.7L100.5 106.7L101.5 106.7L102.5 106.7L103.5 106.7L104.5 106.7L105.5 106.7L106.5 106.7L107.5 106.7L108.5 106.7L109.5 106.7L110.5 106.7L111.5 106.8L112.5 106.8L113.5 106.8L114.5 106.8L115.5 106.8L116.5 106.8L117.5 106.8L118.5 106.8L119.5 106.8L120.5 106.8L121.5 106.8L122.5 106.8L123.5 106.8L124.5 106.8L125.5 106.8L126.5 106.8L127.5 106.8L128.5 106.8L129.5 106.8L130.5 106.8L131.5 106.8L132.5 106.8L133.5 106.8L134.5 106.8L135.4 106.8L136.4 106.8L137.4 106.8L138.4 106.8L139.4 106.8L140.4 106.8L141.4 106.8L142.4 106.8L143.4 106.8L144.4 106.8L145.4 106.8L146.4 106.8L147.4 106.8L148.4 106.8L149.4 106.8L150.4 106.8L151.4 106.8L152.4 106.8L153.4 106.8L154.4 106.8L155.4 106.8L156.4 106.8L157.4 106.8L158.4 106.8L159.4 106.8L160.4 106.8L161.4 106.8L162.4 106.8L163.4 106.8L164.4 106.8L165.4 106.8L166.4 106.8L167.4 106.8L168.4 106.8L169.4 106.8L170.4 106.8L171.4 106.8L172.4 106.8L173.4 106.8L174.4 106.8L175.4 106.8L176.4 106.8L177.4 106.8L178.4 106.8L179.4 106.8L180.4 106.8L181.4 106.8L182.4 106.8L183.4 106.8L184.4 106.8L185.4 106.8L186.4 106.8L187.4 106.8L188.4 106.8L189.4 106.8L190.4 106.8L191.4 106.8L192.4 106.8L193.4 106.8L194.4 106.8L195.4 106.8L196.4 106.8L197.4 106.8L198.4 106.8L199.4 106.8L200.4 106.8L201.4 106.8L202.4 106.8L203.4 106.8L204.4 106.8L205.4 106.8L206.4 106.8L207.4 106.8L208.4 106.8L209.4 106.8L210.4 106.8L211.4 106.8L212.4 106.8L213.4 106.8L214.4 106.8L215.4 106.8L216.4 106.8L217.4 106.8L218.4 106.8L219.4 106.8L220.3 106.8L221.3 106.8L222.3 106.8L223.3 106.8L224.3 106.9L225.3 106.9L226.3 106.9L227.3 106.9L228.3 106.9L229.3 106.9L230.3 106.9L231.3 106.9L232.3 106.9L233.3 106.9L234.3 106.9L235.3 106.9L236.3 106.9L237.3 107.0L238.3 107.0L239.3 107.0L240.3 107.0L241.3 107.1L242.3 107.1L243.3 107.1L244.3 107.1L245.3 107.2L246.3 107.2L247.3 107.2L248.3 107.3L249.3 107.3L250.3 107.3L251.3 107.3L252.3 107.4L253.3 107.4L254.3 107.4L255.3 107.4L256.3 107.5L257.3 107.5L258.3 107.5L259.3 107.5L260.3 107.6L261.3 107.6L262.3 107.6L263.3 107.7L264.3 107.7L265.3 107.7L266.3 107.7L267.3 107.7L268.3 107.8L269.3 107.8L270.3 107.8L271.3 107.8L272.3 107.8L273.3 107.8L274.3 107.8L275.3 107.8L276.3 107.8L277.3 107.8L278.3 107.8L279.3 107.8L280.3 107.8L281.3 107.8L282.3 107.8L283.3 107.8L284.3 107.8L285.3 107.8L286.3 107.8L287.3 107.8L288.3 107.8L289.3 107.8L290.3 107.8L291.3 107.8L292.3 107.8L293.3 107.8L294.3 107.8L295.3 107.8L296.3 107.8L297.3 107.8L298.3 107.8L299.3 107.8L300.3 107.8L301.3 107.8L302.3 107.8L303.2 107.8L304.2 107.8L305.2 107.8L306.2 107.9L307.2 107.9L308.2 107.9L309.2 107.9L310.2 108.0L311.2 108.0L312.2 108.0L313.2 108.0L314.2 108.1L315.2 108.1L316.2 108.1L317.2 108.2L318.2 108.2L319.2 108.2L320.2 108.2L321.2 108.3L322.2 108.3L323.2 108.3L324.2 108.3L325.2 108.4L326.2 108.4L327.2 108.4L328.2 108.4L329.2 108.5L330.2 108.5L331.2 108.5L332.2 108.5L333.2 108.6L334.2 108.6L335.2 108.6L336.2 108.7L337.2 108.7L338.2 108.7L339.2 108.7L340.2 108.7L341.2 108.7L342.2 108.8L343.2 108.8L344.2 108.8L345.2 108.8L346.2 108.8L347.2 108.8L348.2 108.8L349.2 108.8L350.2 108.8L351.2 108.8L352.2 108.9L353.2 108.9L354.2 108.9L355.2 108.9L356.2 108.9L357.2 108.9L358.2 108.9L359.2 108.9L360.2 108.9L361.2 109.0L362.2 109.0L363.2 109.0L364.2 109.0L365.2 109.0L366.2 109.0L367.2 109.0L368.2 109.0L369.2 109.0L370.2 109.0L371.2 109.1L372.2 109.1L373.2 109.1L374.2 109.1L375.2 109.1L376.2 109.1L377.2 109.1L378.2 109.1L379.2 109.1L380.2 109.2L381.2 109.2L382.2 109.2L383.2 109.2L384.2 109.2L385.2 109.2L386.2 109.2L387.2 109.2L388.1 109.2L389.1 109.2L390.1 109.3L391.1 109.3L392.1 109.3L393.1 109.3L394.1 109.3L395.1 109.3L396.1 109.3L397.1 109.3L398.1 109.3L399.1 109.4L400.1 109.4L401.1 109.4L402.1 109.4L403.1 109.4L404.1 109.4L405.1 109.4L406.1 109.4L407.1 109.4L408.1 109.4L409.1 109.4L410.1 109.4L411.1 109.4L412.1 109.4L413.1 109.4L414.1 109.4L415.1 109.4L416.1 109.3L417.1 109.3L418.1 109.3L419.1 109.3L420.1 109.3L421.1 109.3L422.1 109.3L423.1 109.3L424.1 109.3L425.1 109.2L426.1 109.2L427.1 109.2L428.1 109.2L429.1 109.2L430.1 109.2L431.1 109.2L432.1 109.2L433.1 109.1L434.1 109.1L435.1 109.1L436.1 109.1L437.1 109.1L438.1 109.1L439.1 109.1L440.1 109.1L441.1 109.0L442.1 109.0L443.1 108.9L444.1 108.8L445.1 108.8L446.1 108.6L447.1 108.5L448.1 108.4L449.1 108.3L450.1 108.2L451.1 108.0L452.1 107.9L453.1 107.8L454.1 107.7L455.1 107.5L456.1 107.4L457.1 107.3L458.1 107.2L459.1 107.0L460.1 106.9L461.1 106.8L462.1 106.7L463.1 106.5L464.1 106.4L465.1 106.3L466.1 106.2L467.1 106.1L468.1 105.9L469.1 105.8L470.1 105.7L471.1 105.6L472.0 105.4L473.0 105.3L474.0 105.2L475.0 105.1L476.0 105.0L477.0 104.8L478.0 104.7L479.0 104.7L480.0 104.6L481.0 104.5L482.0 104.4L483.0 104.3L484.0 104.3L485.0 104.2L486.0 104.1L487.0 104.1L488.0 104.0L489.0 103.9L490.0 103.9L491.0 103.8L492.0 103.7L493.0 103.6L494.0 103.6L495.0 103.5L496.0 103.4L497.0 103.3L498.0 103.2L499.0 103.1L500.0 103.0L501.0 102.9L502.0 102.8L503.0 102.7L504.0 102.6L505.0 102.5L506.0 102.4L507.0 102.3L508.0 102.1L509.0 102.0L510.0 101.9L511.0 101.8L512.0 101.7L513.0 101.5L514.0 101.3L515.0 101.1L516.0 100.9L517.0 100.6L518.0 100.4L519.0 100.1L520.0 99.9L521.0 99.6L522.0 99.4L523.0 99.2L524.0 98.9L525.0 98.7L526.0 98.4L527.0 98.2L528.0 97.9L529.0 97.6L530.0 97.3L531.0 97.0L532.0 96.6L533.0 96.2L534.0 95.8L535.0 95.3L536.0 94.9L537.0 94.4L538.0 94.0L539.0 93.6L540.0 93.1L541.0 92.7L542.0 92.3L543.0 92.0L544.0 91.8L545.0 91.6L546.0 91.6L547.0 91.7L548.0 91.9L549.0 92.2L550.0 92.5L551.0 92.8L552.0 93.2L553.0 93.5L554.0 93.9L555.0 94.4L555.9 94.8L556.9 95.3L557.9 95.8L558.9 96.3L559.9 96.9L560.9 97.4L561.9 97.9L562.9 98.4L563.9 98.8L564.9 99.0L565.9 99.2L566.9 99.2L567.9 99.2L568.9 99.0L569.9 98.8L570.9 98.6L571.9 98.4L572.9 98.2L573.9 98.0L574.9 97.8L575.9 97.5L576.9 97.3L577.9 97.1L578.9 96.9L579.9 96.7L580.9 96.5L581.9 96.3L582.9 96.1L583.9 95.9L584.9 95.7L585.9 95.5L586.9 95.4L587.9 95.2L588.9 95.0L589.9 94.8L590.9 94.7L591.9 94.6L592.9 94.5L593.9 94.4L594.9 94.4L595.9 94.5L596.9 94.5L597.9 94.6L598.9 94.7L599.9 94.8L600.9 94.9L601.9 95.0L602.9 95.1L603.9 95.1L604.9 95.2L605.9 95.3L606.9 95.5L607.9 95.6L608.9 95.7L609.9 95.9L610.9 96.1L611.9 96.2L612.9 96.4L613.9 96.6L614.9 96.8L615.9 97.0L616.9 97.3L617.9 97.6L618.9 97.9L619.9 98.3L620.9 98.8L621.9 99.2L622.9 99.7L623.9 100.0L624.9 100.3L625.9 100.5L626.9 100.6L627.9 100.7L628.9 100.7L629.9 100.7L630.9 100.7L631.9 100.7L632.9 100.7L633.9 100.6L634.9 100.6L635.9 100.5L636.9 100.3L637.9 100.2L638.9 100.0L639.8 99.8L640.8 99.6L641.8 99.4L642.8 99.2L643.8 98.9L644.8 98.6L645.8 98.3L646.8 97.9L647.8 97.5L648.8 97.1L649.8 96.6L650.8 96.2L651.8 95.8L652.8 95.4L653.8 95.1L654.8 94.8L655.8 94.6L656.8 94.4L657.8 94.2L658.8 94.0L659.8 93.8L660.8 93.7L661.8 93.5L662.8 93.4L663.8 93.4L664.8 93.3L665.8 93.3L666.8 93.4L667.8 93.5L668.8 93.6L669.8 93.9L670.8 94.2L671.8 94.5L672.8 95.0L673.8 95.4L674.8 95.9L675.8 96.4L676.8 96.8L677.8 97.1L678.8 97.4L679.8 97.6L680.8 97.7L681.8 97.8L682.8 97.9L683.8 98.1L684.8 98.2L685.8 98.3L686.8 98.4L687.8 98.6L688.8 98.7L689.8 98.9L690.8 99.1L691.8 99.2L692.8 99.4L693.8 99.6L694.8 99.7L695.8 99.9L696.8 100.0L697.8 100.1L698.8 100.2L699.8 100.4L700.8 100.5L701.8 100.6L702.8 100.7L703.8 100.8L704.8 100.9L705.8 100.9L706.8 101.0L707.8 101.0L708.8 101.0L709.8 101.0L710.8 101.0L711.8 101.0L712.8 101.0L713.8 101.0L714.8 101.0L715.8 101.0L716.8 101.0L717.8 101.0L718.8 101.0L719.8 101.0L720.8 101.0L721.8 101.0L722.8 101.0L723.7 101.0L724.7 100.9L725.7 100.9L726.7 100.9L727.7 100.9L728.7 100.8L729.7 100.8L730.7 100.8L731.7 100.8L732.7 100.7L733.7 100.7L734.7 100.7L735.7 100.7L736.7 100.6L737.7 100.6L738.7 100.6L739.7 100.6L740.7 100.5L741.7 100.5L742.7 100.5L743.7 100.4L744.7 100.4L745.7 100.4L746.7 100.4L747.7 100.3L748.7 100.3L749.7 100.3L750.7 100.3L751.7 100.2L752.7 100.2L753.7 100.2L754.7 100.2L755.7 100.1L756.7 100.1L757.7 100.1L758.7 100.1L759.7 100.1L760.7 100.1L761.7 100.2L762.7 100.2L763.7 100.2L764.7 100.2L765.7 100.2L766.7 100.2L767.7 100.3L768.7 100.3L769.7 100.3L770.7 100.3L771.7 100.3L772.7 100.4L773.7 100.4L774.7 100.4L775.7 100.4L776.7 100.4L777.7 100.5L778.7 100.5L779.7 100.5L780.7 100.5L781.7 100.5L782.7 100.6L783.7 100.6L784.7 100.6L785.7 100.6L786.7 100.6L787.7 100.7L788.7 100.7L789.7 100.7L790.7 100.7L791.7 100.7L792.7 100.8L793.7 100.8L794.7 100.8L795.7 100.9L796.7 100.9L797.7 101.0L798.7 101.0L799.7 101.1L800.7 101.1L801.7 101.2L802.7 101.2L803.7 101.3L804.7 101.3L805.7 101.3L806.6 101.4L807.6 101.4L808.6 101.5L809.6 101.5L810.6 101.6L811.6 101.6L812.6 101.7L813.6 101.7L814.6 101.8L815.6 101.8L816.6 101.9L817.6 101.9L818.6 101.9L819.6 102.0L820.6 102.0L821.6 102.1L822.6 102.1L823.6 102.2L824.6 102.2L825.6 102.3L826.6 102.3L827.6 102.4L828.6 102.4L829.6 102.5L830.6 102.5L831.6 102.6L832.6 102.6L833.6 102.7L834.6 102.7L835.6 102.8L836.6 102.8L837.6 102.9L838.6 102.9L839.6 102.9L840.6 103.0L841.6 103.0L842.6 103.1L843.6 103.1L844.6 103.2L845.6 103.2L846.6 103.3L847.6 103.3L848.6 103.4L849.6 103.4L850.6 103.5L851.6 103.5L852.6 103.6L853.6 103.6L854.6 103.7L855.6 103.7L856.6 103.8L857.6 103.8L858.6 103.9L859.6 103.9L860.6 104.0L861.6 104.0L862.6 104.1L863.6 104.2L864.6 104.2L865.6 104.3L866.6 104.4L867.6 104.4L868.6 104.5L869.6 104.6L870.6 104.6L871.6 104.7L872.6 104.8L873.6 104.9L874.6 104.9L875.6 105.0L876.6 105.1L877.6 105.1L878.6 105.2L879.6 105.3L880.6 105.4L881.6 105.4L882.6 105.5L883.6 105.6L884.6 105.6L885.6 105.7L886.6 105.8L887.6 105.8L888.6 105.9L889.6 106.0L890.6 106.1L891.5 106.1L892.5 106.2L893.5 106.3L894.5 106.3L895.5 106.4L896.5 106.5L897.5 106.5L898.5 106.5L899.5 106.6L900.5 106.6L901.5 106.6L902.5 106.6L903.5 106.7L904.5 106.7L905.5 106.7L906.5 106.7L907.5 106.7L908.5 106.7L909.5 106.8L910.5 106.8L911.5 106.8L912.5 106.8L913.5 106.8L914.5 106.8L915.5 106.9L916.5 106.9L917.5 106.9L918.5 106.9L919.5 106.9L920.5 107.0L921.5 107.0L922.5 107.0L923.5 107.0L924.5 107.0L925.5 107.0L926.5 107.1L927.5 107.1L928.5 107.1L929.5 107.1L930.5 107.1L931.5 107.1L932.5 107.2" stroke="#CCCCCC" stroke-width="1.15" fill="none" stroke-linejoin="round" stroke-linecap="butt"/>
</g>
<rect x="93.5" y="45.5" width="839.0" height="185.0" fill="none" stroke="#000" stroke-width="1"/>
<text x="85" y="236.40" text-anchor="end">50</text>
<text x="85" y="205.40" text-anchor="end">55</text>
<text x="85" y="174.40" text-anchor="end">60</text>
<text x="85" y="143.40" text-anchor="end">65</text>
<text x="85" y="113.40" text-anchor="end">70</text>
<text x="85" y="82.40" text-anchor="end">75</text>
<text x="85" y="51.40" text-anchor="end">80</text>
<line x1="128.5" y1="230.5" x2="128.5" y2="414.5" stroke="#c0c0c0" stroke-width="1"/>
<line x1="163.5" y1="230.5" x2="163.5" y2="414.5" stroke="#c0c0c0" stroke-width="1"/>
<line x1="198.5" y1="230.5" x2="198.5" y2="414.5" stroke="#c0c0c0" stroke-width="1"/>
<line x1="233.5" y1="230.5" x2="233.5" y2="414.5" stroke="#c0c0c0" stroke-width="1"/>
<line x1="268.5" y1="230.5" x2="268.5" y2="414.5" stroke="#c0c0c0" stroke-width="1"/>
<line x1="303.5" y1="230.5" x2="303.5" y2="414.5" stroke="#c0c0c0" stroke-width="1"/>
<line x1="338.5" y1="230.5" x2="338.5" y2="414.5" stroke="#c0c0c0" stroke-width="1"/>
<line x1="373.5" y1="230.5" x2="373.5" y2="414.5" stroke="#c0c0c0" stroke-width="1"/>
<line x1="408.5" y1="230.5" x2="408.5" y2="414.5" stroke="#c0c0c0" stroke-width="1"/>
<line x1="443.5" y1="230.5" x2="443.5" y2="414.5" stroke="#c0c0c0" stroke-width="1"/>
<line x1="478.5" y1="230.5" x2="478.5" y2="414.5" stroke="#c0c0c0" stroke-width="1"/>
<line x1="513.5" y1="230.5" x2="513.5" y2="414.5" stroke="#c0c0c0" stroke-width="1"/>
<line x1="547.5" y1="230.5" x2="547.5" y2="414.5" stroke="#c0c0c0" stroke-width="1"/>
<line x1="582.5" y1="230.5" x2="582.5" y2="414.5" stroke="#c0c0c0" stroke-width="1"/>
<line x1="617.5" y1="230.5" x2="617.5" y2="414.5" stroke="#c0c0c0" stroke-width="1"/>
<line x1="652.5" y1="230.5" x2="652.5" y2="414.5" stroke="#c0c0c0" stroke-width="1"/>
<line x1="687.5" y1="230.5" x2="687.5" y2="414.5" stroke="#c0c0c0" stroke-width="1"/>
<line x1="722.5" y1="230.5" x2="722.5" y2="414.5" stroke="#c0c0c0" stroke-width="1"/>
<line x1="757.5" y1="230.5" x2="757.5" y2="414.5" stroke="#c0c0c0" stroke-width="1"/>
<line x1="792.5" y1="230.5" x2="792.5" y2="414.5" stroke="#c0c0c0" stroke-width="1"/>
<line x1="827.5" y1="230.5" x2="827.5" y2="414.5" stroke="#c0c0c0" stroke-width="1"/>
<line x1="862.5" y1="230.5" x2="862.5" y2="414.5" stroke="#c0c0c0" stroke-width="1"/>
<line x1="897.5" y1="230.5" x2="897.5" y2="414.5" stroke="#c0c0c0" stroke-width="1"/>
<line x1="93.5" y1="388.5" x2="932.5" y2="388.5" stroke="#c0c0c0" stroke-width="1"/>
<line x1="93.5" y1="361.5" x2="932.5" y2="361.5" stroke="#c0c0c0" stroke-width="1"/>
<line x1="93.5" y1="335.5" x2="932.5" y2="335.5" stroke="#c0c0c0" stroke-width="1"/>
<line x1="93.5" y1="309.5" x2="932.5" y2="309.5" stroke="#c0c0c0" stroke-width="1"/>
<line x1="93.5" y1="282.5" x2="932.5" y2="282.5" stroke="#c0c0c0" stroke-width="1"/>
<line x1="93.5" y1="256.5" x2="932.5" y2="256.5" stroke="#c0c0c0" stroke-width="1"/>
<path d="M93.5 414.5v-9 M93.5 230.5v9 M111.5 414.5v-4.5 M111.5 230.5v4.5 M128.5 414.5v-9 M128.5 230.5v9 M146.5 414.5v-4.5 M146.5 230.5v4.5 M163.5 414.5v-9 M163.5 230.5v9 M180.5 414.5v-4.5 M180.5 230.5v4.5 M198.5 414.5v-9 M198.5 230.5v9 M215.5 414.5v-4.5 M215.5 230.5v4.5 M233.5 414.5v-9 M233.5 230.5v9 M250.5 414.5v-4.5 M250.5 230.5v4.5 M268.5 414.5v-9 M268.5 230.5v9 M285.5 414.5v-4.5 M285.5 230.5v4.5 M303.5 414.5v-9 M303.5 230.5v9 M320.5 414.5v-4.5 M320.5 230.5v4.5 M338.5 414.5v-9 M338.5 230.5v9 M355.5 414.5v-4.5 M355.5 230.5v4.5 M373.5 414.5v-9 M373.5 230.5v9 M390.5 414.5v-4.5 M390.5 230.5v4.5 M408.5 414.5v-9 M408.5 230.5v9 M425.5 414.5v-4.5 M425.5 230.5v4.5 M443.5 414.5v-9 M443.5 230.5v9 M460.5 414.5v-4.5 M460.5 230.5v4.5 M478.5 414.5v-9 M478.5 230.5v9 M495.5 414.5v-4.5 M495.5 230.5v4.5 M513.5 414.5v-9 M513.5 230.5v9 M530.5 414.5v-4.5 M530.5 230.5v4.5 M547.5 414.5v-9 M547.5 230.5v9 M565.5 414.5v-4.5 M565.5 230.5v4.5 M582.5 414.5v-9 M582.5 230.5v9 M600.5 414.5v-4.5 M600.5 230.5v4.5 M617.5 414.5v-9 M617.5 230.5v9 M635.5 414.5v-4.5 M635.5 230.5v4.5 M652.5 414.5v-9 M652.5 230.5v9 M670.5 414.5v-4.5 M670.5 230.5v4.5 M687.5 414.5v-9 M687.5 230.5v9 M705.5 414.5v-4.5 M705.5 230.5v4.5 M722.5 414.5v-9 M722.5 230.5v9 M740.5 414.5v-4.5 M740.5 230.5v4.5 M757.5 414.5v-9 M757.5 230.5v9 M775.5 414.5v-4.5 M775.5 230.5v4.5 M792.5 414.5v-9 M792.5 230.5v9 M810.5 414.5v-4.5 M810.5 230.5v4.5 M827.5 414.5v-9 M827.5 230.5v9 M845.5 414.5v-4.5 M845.5 230.5v4.5 M862.5 414.5v-9 M862.5 230.5v9 M880.5 414.5v-4.5 M880.5 230.5v4.5 M897.5 414.5v-9 M897.5 230.5v9 M915.5 414.5v-4.5 M915.5 230.5v4.5 M932.5 414.5v-9 M932.5 230.5v9 M93.5 414.5h9 M932.5 414.5h-9 M93.5 388.5h9 M932.5 388.5h-9 M93.5 361.5h9 M932.5 361.5h-9 M93.5 335.5h9 M932.5 335.5h-9 M93.5 309.5h9 M932.5 309.5h-9 M93.5 282.5h9 M932.5 282.5h-9 M93.5 256.5h9 M932.5 256.5h-9 M93.5 230.5h9 M932.5 230.5h-9 M93.5 401.5h4.5 M932.5 401.5h-4.5 M93.5 374.5h4.5 M932.5 374.5h-4.5 M93.5 348.5h4.5 M932.5 348.5h-4.5 M93.5 322.5h4.5 M932.5 322.5h-4.5 M93.5 296.5h4.5 M932.5 296.5h-4.5 M93.5 269.5h4.5 M932.5 269.5h-4.5 M93.5 243.5h4.5 M932.5 243.5h-4.5" stroke="#000" stroke-width="1" fill="none"/>
<g clip-path="url(#c2)">
<path d="M93.5 298.8L94.5 298.8L95.5 298.8L96.5 296.2L97.5 296.2L98.5 296.2L99.5 296.2L100.5 296.2L101.5 296.2L102.5 296.2L103.5 296.2L104.5 296.2L105.5 296.2L106.5 296.2L107.5 296.2L108.5 296.2L109.5 296.2L110.5 296.2L111.5 296.2L112.5 296.2L113.5 293.6L114.5 293.6L115.5 293.6L116.5 293.6L117.5 293.6L118.5 293.6L119.5 293.6L120.5 293.6L121.5 293.6L122.5 293.6L123.5 293.6L124.5 293.6L125.5 293.6L126.5 293.6L127.5 293.6L128.5 293.6L129.5 293.6L130.5 293.6L131.5 293.6L132.5 293.6L133.5 293.6L134.5 293.6L135.4 291.0L136.4 291.0L137.4 291.0L138.4 291.0L139.4 291.0L140.4 291.0L141.4 291.0L142.4 291.0L143.4 291.0L144.4 291.0L145.4 291.0L146.4 291.0L147.4 291.0L148.4 291.0L149.4 291.0L150.4 291.0L151.4 291.0L152.4 291.0L153.4 288.3L154.4 288.3L155.4 288.3L156.4 288.3L157.4 288.3L158.4 288.3L159.4 288.3L160.4 288.3L161.4 288.3L162.4 288.3L163.4 288.3L164.4 288.3L165.4 288.3L166.4 288.3L167.4 288.3L168.4 288.3L169.4 288.3L170.4 288.3L171.4 288.3L172.4 288.3L173.4 288.3L174.4 285.7L175.4 285.7L176.4 285.7L177.4 285.7L178.4 285.7L179.4 285.7L180.4 285.7L181.4 285.7L182.4 285.7L183.4 285.7L184.4 285.7L185.4 285.7L186.4 285.7L187.4 285.7L188.4 285.7L189.4 285.7L190.4 285.7L191.4 285.7L192.4 285.7L193.4 285.7L194.4 285.7L195.4 285.7L196.4 283.1L197.4 283.1L198.4 283.1L199.4 283.1L200.4 283.1L201.4 283.1L202.4 283.1L203.4 283.1L204.4 283.1L205.4 283.1L206.4 283.1L207.4 283.1L208.4 283.1L209.4 283.1L210.4 283.1L211.4 283.1L212.4 283.1L213.4 283.1L214.4 283.1L215.4 283.1L216.4 283.1L217.4 283.1L218.4 283.1L219.4 283.1L220.3 283.1L221.3 280.4L222.3 280.4L223.3 280.4L224.3 280.4L225.3 280.4L226.3 280.4L227.3 280.4L228.3 280.4L229.3 280.4L230.3 280.4L231.3 280.4L232.3 280.4L233.3 280.4L234.3 280.4L235.3 280.4L236.3 280.4L237.3 280.4L238.3 280.4L239.3 280.4L240.3 277.8L241.3 277.8L242.3 277.8L243.3 277.8L244.3 277.8L245.3 277.8L246.3 277.8L247.3 277.8L248.3 277.8L249.3 277.8L250.3 277.8L251.3 277.8L252.3 277.8L253.3 277.8L254.3 277.8L255.3 275.2L256.3 275.2L257.3 275.2L258.3 275.2L259.3 275.2L260.3 275.2L261.3 275.2L262.3 275.2L263.3 275.2L264.3 275.2L265.3 275.2L266.3 275.2L267.3 275.2L268.3 272.6L269.3 272.6L270.3 272.6L271.3 272.6L272.3 272.6L273.3 272.6L274.3 272.6L275.3 272.6L276.3 272.6L277.3 272.6L278.3 272.6L279.3 272.6L280.3 272.6L281.3 272.6L282.3 272.6L283.3 272.6L284.3 272.6L285.3 272.6L286.3 272.6L287.3 269.9L288.3 269.9L289.3 269.9L290.3 269.9L291.3 269.9L292.3 269.9L293.3 269.9L294.3 269.9L295.3 269.9L296.3 269.9L297.3 269.9L298.3 269.9L299.3 269.9L300.3 269.9L301.3 269.9L302.3 267.3L303.2 267.3L304.2 267.3L305.2 267.3L306.2 267.3L307.2 267.3L308.2 267.3L309.2 267.3L310.2 267.3L311.2 267.3L312.2 267.3L313.2 267.3L314.2 267.3L315.2 267.3L316.2 267.3L317.2 267.3L318.2 267.3L319.2 267.3L320.2 267.3L321.2 267.3L322.2 267.3L323.2 267.3L324.2 267.3L325.2 267.3L326.2 267.3L327.2 267.3L328.2 267.3L329.2 267.3L330.2 267.3L331.2 269.9L332.2 269.9L333.2 269.9L334.2 269.9L335.2 269.9L336.2 269.9L337.2 269.9L338.2 272.6L339.2 272.6L340.2 272.6L341.2 272.6L342.2 272.6L343.2 275.2L344.2 275.2L345.2 275.2L346.2 275.2L347.2 275.2L348.2 277.8L349.2 277.8L350.2 277.8L351.2 280.4L352.2 280.4L353.2 280.4L354.2 283.1L355.2 283.1L356.2 283.1L357.2 283.1L358.2 283.1L359.2 285.7L360.2 285.7L361.2 285.7L362.2 285.7L363.2 285.7L364.2 285.7L365.2 288.3L366.2 288.3L367.2 288.3L368.2 288.3L369.2 288.3L370.2 288.3L371.2 288.3L372.2 288.3L373.2 291.0L374.2 291.0L375.2 291.0L376.2 291.0L377.2 291.0L378.2 291.0L379.2 291.0L380.2 291.0L381.2 293.6L382.2 293.6L383.2 293.6L384.2 293.6L385.2 293.6L386.2 293.6L387.2 293.6L388.1 293.6L389.1 293.6L390.1 293.6L391.1 293.6L392.1 293.6L393.1 293.6L394.1 296.2L395.1 296.2L396.1 296.2L397.1 296.2L398.1 296.2L399.1 296.2L400.1 296.2L401.1 296.2L402.1 296.2L403.1 296.2L404.1 296.2L405.1 296.2L406.1 296.2L407.1 296.2L408.1 296.2L409.1 296.2L410.1 296.2L411.1 296.2L412.1 296.2L413.1 296.2L414.1 296.2L415.1 296.2L416.1 296.2L417.1 296.2L418.1 296.2L419.1 296.2L420.1 298.8L421.1 298.8L422.1 298.8L423.1 298.8L424.1 298.8L425.1 298.8L426.1 298.8L427.1 298.8L428.1 298.8L429.1 298.8L430.1 298.8L431.1 298.8L432.1 298.8L433.1 298.8L434.1 298.8L435.1 298.8L436.1 298.8L437.1 298.8L438.1 298.8L439.1 301.5L440.1 301.5L441.1 301.5L442.1 301.5L443.1 301.5L444.1 304.1L445.1 304.1L446.1 304.1L447.1 304.1L448.1 304.1L449.1 304.1L450.1 306.7L451.1 306.7L452.1 306.7L453.1 306.7L454.1 306.7L455.1 306.7L456.1 309.4L457.1 309.4L458.1 309.4L459.1 309.4L460.1 309.4L461.1 312.0L462.1 312.0L463.1 312.0L464.1 312.0L465.1 312.0L466.1 312.0L467.1 312.0L468.1 314.6L469.1 314.6L470.1 314.6L471.1 314.6L472.0 314.6L473.0 314.6L474.0 314.6L475.0 317.2L476.0 317.2L477.0 317.2L478.0 317.2L479.0 317.2L480.0 317.2L481.0 317.2L482.0 319.9L483.0 319.9L484.0 319.9L485.0 319.9L486.0 319.9L487.0 319.9L488.0 319.9L489.0 319.9L490.0 322.5L491.0 322.5L492.0 322.5L493.0 322.5L494.0 322.5L495.0 322.5L496.0 322.5L497.0 322.5L498.0 325.1L499.0 325.1L500.0 325.1L501.0 325.1L502.0 325.1L503.0 325.1L504.0 325.1L505.0 325.1L506.0 325.1L507.0 327.8L508.0 327.8L509.0 327.8L510.0 327.8L511.0 327.8L512.0 327.8L513.0 330.4L514.0 330.4L515.0 330.4L516.0 330.4L517.0 330.4L518.0 330.4L519.0 330.4L520.0 330.4L521.0 333.0L522.0 333.0L523.0 333.0L524.0 333.0L525.0 333.0L526.0 333.0L527.0 333.0L528.0 333.0L529.0 335.6L530.0 335.6L531.0 335.6L532.0 335.6L533.0 335.6L534.0 335.6L535.0 338.3L536.0 338.3L537.0 338.3L538.0 338.3L539.0 338.3L540.0 338.3L541.0 340.9L542.0 340.9L543.0 340.9L544.0 340.9L545.0 340.9L546.0 340.9L547.0 343.5L548.0 343.5L549.0 343.5L550.0 343.5L551.0 343.5L552.0 343.5L553.0 346.2L554.0 346.2L555.0 346.2L555.9 346.2L556.9 346.2L557.9 346.2L558.9 348.8L559.9 348.8L560.9 348.8L561.9 348.8L562.9 348.8L563.9 351.4L564.9 351.4L565.9 351.4L566.9 351.4L567.9 351.4L568.9 351.4L569.9 351.4L570.9 351.4L571.9 351.4L572.9 351.4L573.9 351.4L574.9 354.0L575.9 354.0L576.9 354.0L577.9 354.0L578.9 354.0L579.9 354.0L580.9 354.0L581.9 354.0L582.9 354.0L583.9 354.0L584.9 354.0L585.9 356.7L586.9 356.7L587.9 356.7L588.9 356.7L589.9 356.7L590.9 356.7L591.9 356.7L592.9 356.7L593.9 359.3L594.9 359.3L595.9 359.3L596.9 359.3L597.9 359.3L598.9 359.3L599.9 359.3L600.9 359.3L601.9 359.3L602.9 359.3L603.9 359.3L604.9 359.3L605.9 359.3L606.9 359.3L607.9 359.3L608.9 359.3L609.9 359.3L610.9 359.3L611.9 359.3L612.9 359.3L613.9 359.3L614.9 359.3L615.9 359.3L616.9 359.3L617.9 359.3L618.9 359.3L619.9 359.3L620.9 359.3L621.9 359.3L622.9 359.3L623.9 359.3L624.9 361.9L625.9 361.9L626.9 361.9L627.9 361.9L628.9 361.9L629.9 361.9L630.9 361.9L631.9 361.9L632.9 361.9L633.9 361.9L634.9 361.9L635.9 361.9L636.9 361.9L637.9 361.9L638.9 361.9L639.8 361.9L640.8 361.9L641.8 361.9L642.8 361.9L643.8 361.9L644.8 361.9L645.8 361.9L646.8 361.9L647.8 361.9L648.8 361.9L649.8 361.9L650.8 361.9L651.8 361.9L652.8 361.9L653.8 361.9L654.8 361.9L655.8 361.9L656.8 361.9L657.8 361.9L658.8 361.9L659.8 361.9L660.8 361.9L661.8 364.6L662.8 364.6L663.8 364.6L664.8 364.6L665.8 364.6L666.8 364.6L667.8 364.6L668.8 364.6L669.8 364.6L670.8 364.6L671.8 364.6L672.8 364.6L673.8 364.6L674.8 364.6L675.8 364.6L676.8 364.6L677.8 364.6L678.8 364.6L679.8 364.6L680.8 364.6L681.8 364.6L682.8 364.6L683.8 364.6L684.8 364.6L685.8 364.6L686.8 364.6L687.8 364.6L688.8 364.6L689.8 364.6L690.8 364.6L691.8 364.6L692.8 364.6L693.8 364.6L694.8 364.6L695.8 364.6L696.8 364.6L697.8 364.6L698.8 364.6L699.8 364.6L700.8 364.6L701.8 364.6L702.8 364.6L703.8 364.6L704.8 364.6L705.8 364.6L706.8 364.6L707.8 364.6L708.8 364.6L709.8 364.6L710.8 364.6L711.8 364.6L712.8 364.6L713.8 364.6L714.8 364.6L715.8 364.6L716.8 364.6L717.8 361.9L718.8 361.9L719.8 361.9L720.8 361.9L721.8 361.9L722.8 361.9L723.7 361.9L724.7 361.9L725.7 361.9L726.7 361.9L727.7 361.9L728.7 361.9L729.7 361.9L730.7 361.9L731.7 361.9L732.7 361.9L733.7 361.9L734.7 361.9L735.7 359.3L736.7 359.3L737.7 359.3L738.7 359.3L739.7 359.3L740.7 359.3L741.7 359.3L742.7 359.3L743.7 359.3L744.7 359.3L745.7 359.3L746.7 359.3L747.7 359.3L748.7 359.3L749.7 359.3L750.7 359.3L751.7 359.3L752.7 359.3L753.7 359.3L754.7 359.3L755.7 359.3L756.7 359.3L757.7 359.3L758.7 359.3L759.7 359.3L760.7 359.3L761.7 359.3L762.7 359.3L763.7 359.3L764.7 359.3L765.7 359.3L766.7 359.3L767.7 359.3L768.7 359.3L769.7 359.3L770.7 359.3L771.7 359.3L772.7 361.9L773.7 367.2L774.7 369.8L775.7 372.4L776.7 372.4L777.7 372.4L778.7 372.4L779.7 372.4L780.7 372.4L781.7 372.4L782.7 372.4L783.7 372.4L784.7 372.4L785.7 372.4L786.7 372.4L787.7 372.4L788.7 372.4L789.7 372.4L790.7 372.4L791.7 372.4L792.7 372.4L793.7 372.4L794.7 372.4L795.7 372.4L796.7 372.4L797.7 372.4L798.7 372.4L799.7 372.4L800.7 372.4L801.7 372.4L802.7 372.4L803.7 372.4L804.7 372.4L805.7 372.4L806.6 372.4L807.6 369.8L808.6 369.8L809.6 369.8L810.6 369.8L811.6 369.8L812.6 369.8L813.6 369.8L814.6 369.8L815.6 367.2L816.6 367.2L817.6 367.2L818.6 367.2L819.6 367.2L820.6 367.2L821.6 367.2L822.6 367.2L823.6 364.6L824.6 364.6L825.6 364.6L826.6 364.6L827.6 364.6L828.6 364.6L829.6 364.6L830.6 364.6L831.6 364.6L832.6 364.6L833.6 364.6L834.6 361.9L835.6 361.9L836.6 361.9L837.6 361.9L838.6 361.9L839.6 361.9L840.6 361.9L841.6 361.9L842.6 361.9L843.6 361.9L844.6 361.9L845.6 361.9L846.6 361.9L847.6 361.9L848.6 359.3L849.6 359.3L850.6 359.3L851.6 359.3L852.6 359.3L853.6 359.3L854.6 359.3L855.6 359.3L856.6 359.3L857.6 359.3L858.6 359.3L859.6 359.3L860.6 359.3L861.6 359.3L862.6 359.3L863.6 359.3L864.6 359.3L865.6 359.3L866.6 359.3L867.6 359.3L868.6 359.3L869.6 359.3L870.6 359.3L871.6 359.3L872.6 359.3L873.6 359.3L874.6 359.3L875.6 359.3L876.6 359.3L877.6 359.3L878.6 359.3L879.6 359.3L880.6 359.3L881.6 359.3L882.6 359.3L883.6 359.3L884.6 359.3L885.6 359.3L886.6 359.3L887.6 359.3L888.6 359.3L889.6 359.3L890.6 359.3L891.5 359.3L892.5 359.3L893.5 359.3L894.5 359.3L895.5 359.3L896.5 359.3L897.5 361.9L898.5 359.3L899.5 359.3L900.5 359.3L901.5 359.3L902.5 359.3L903.5 359.3L904.5 359.3L905.5 359.3L906.5 359.3L907.5 359.3L908.5 359.3L909.5 359.3L910.5 359.3L911.5 359.3L912.5 359.3L913.5 359.3L914.5 359.3L915.5 359.3L916.5 359.3L917.5 359.3L918.5 359.3L919.5 359.3L920.5 359.3L921.5 359.3L922.5 359.3L923.5 359.3L924.5 359.3L925.5 359.3L926.5 359.3L927.5 359.3L928.5 359.3L929.5 356.7L930.5 356.7L931.5 356.7L932.5 356.7" stroke="#9400D3" stroke-width="2.2" fill="none" stroke-linejoin="round" stroke-linecap="butt"/>
<path d="M93.5 304.1L94.5 304.1L95.5 301.5L96.5 301.5L97.5 301.5L98.5 301.5L99.5 301.5L100.5 298.8L101.5 298.8L102.5 298.8L103.5 298.8L104.5 298.8L105.5 298.8L106.5 298.8L107.5 298.8L108.5 298.8L109.5 298.8L110.5 298.8L111.5 296.2L112.5 296.2L113.5 296.2L114.5 296.2L115.5 296.2L116.5 296.2L117.5 296.2L118.5 296.2L119.5 296.2L120.5 296.2L121.5 296.2L122.5 296.2L123.5 296.2L124.5 296.2L125.5 296.2L126.5 296.2L127.5 296.2L128.5 296.2L129.5 296.2L130.5 296.2L131.5 296.2L132.5 296.2L133.5 296.2L134.5 293.6L135.4 293.6L136.4 293.6L137.4 293.6L138.4 293.6L139.4 293.6L140.4 293.6L141.4 293.6L142.4 293.6L143.4 293.6L144.4 293.6L145.4 293.6L146.4 293.6L147.4 293.6L148.4 293.6L149.4 293.6L150.4 293.6L151.4 293.6L152.4 293.6L153.4 293.6L154.4 293.6L155.4 293.6L156.4 293.6L157.4 293.6L158.4 293.6L159.4 293.6L160.4 293.6L161.4 293.6L162.4 291.0L163.4 291.0L164.4 291.0L165.4 291.0L166.4 291.0L167.4 291.0L168.4 291.0L169.4 291.0L170.4 291.0L171.4 291.0L172.4 291.0L173.4 291.0L174.4 291.0L175.4 288.3L176.4 288.3L177.4 288.3L178.4 288.3L179.4 288.3L180.4 288.3L181.4 288.3L182.4 288.3L183.4 288.3L184.4 288.3L185.4 288.3L186.4 288.3L187.4 288.3L188.4 288.3L189.4 288.3L190.4 288.3L191.4 288.3L192.4 288.3L193.4 288.3L194.4 288.3L195.4 288.3L196.4 288.3L197.4 288.3L198.4 288.3L199.4 285.7L200.4 285.7L201.4 285.7L202.4 285.7L203.4 285.7L204.4 285.7L205.4 285.7L206.4 285.7L207.4 285.7L208.4 285.7L209.4 285.7L210.4 285.7L211.4 285.7L212.4 285.7L213.4 285.7L214.4 285.7L215.4 285.7L216.4 285.7L217.4 285.7L218.4 285.7L219.4 285.7L220.3 285.7L221.3 283.1L222.3 283.1L223.3 283.1L224.3 283.1L225.3 283.1L226.3 283.1L227.3 283.1L228.3 283.1L229.3 283.1L230.3 283.1L231.3 283.1L232.3 283.1L233.3 283.1L234.3 283.1L235.3 283.1L236.3 283.1L237.3 283.1L238.3 283.1L239.3 283.1L240.3 283.1L241.3 283.1L242.3 283.1L243.3 283.1L244.3 283.1L245.3 283.1L246.3 283.1L247.3 283.1L248.3 283.1L249.3 283.1L250.3 283.1L251.3 283.1L252.3 280.4L253.3 280.4L254.3 280.4L255.3 280.4L256.3 280.4L257.3 280.4L258.3 280.4L259.3 280.4L260.3 280.4L261.3 280.4L262.3 280.4L263.3 280.4L264.3 280.4L265.3 280.4L266.3 280.4L267.3 277.8L268.3 277.8L269.3 277.8L270.3 277.8L271.3 277.8L272.3 277.8L273.3 277.8L274.3 277.8L275.3 277.8L276.3 277.8L277.3 277.8L278.3 277.8L279.3 277.8L280.3 277.8L281.3 277.8L282.3 277.8L283.3 277.8L284.3 277.8L285.3 277.8L286.3 277.8L287.3 277.8L288.3 277.8L289.3 277.8L290.3 275.2L291.3 275.2L292.3 275.2L293.3 275.2L294.3 275.2L295.3 275.2L296.3 275.2L297.3 275.2L298.3 275.2L299.3 275.2L300.3 275.2L301.3 275.2L302.3 275.2L303.2 275.2L304.2 272.6L305.2 272.6L306.2 272.6L307.2 272.6L308.2 272.6L309.2 272.6L310.2 272.6L311.2 272.6L312.2 272.6L313.2 272.6L314.2 272.6L315.2 272.6L316.2 272.6L317.2 272.6L318.2 272.6L319.2 272.6L320.2 272.6L321.2 272.6L322.2 272.6L323.2 272.6L324.2 272.6L325.2 272.6L326.2 272.6L327.2 272.6L328.2 272.6L329.2 272.6L330.2 272.6L331.2 272.6L332.2 272.6L333.2 272.6L334.2 272.6L335.2 272.6L336.2 272.6L337.2 272.6L338.2 272.6L339.2 272.6L340.2 275.2L341.2 275.2L342.2 275.2L343.2 275.2L344.2 277.8L345.2 277.8L346.2 277.8L347.2 277.8L348.2 277.8L349.2 280.4L350.2 280.4L351.2 280.4L352.2 280.4L353.2 280.4L354.2 283.1L355.2 283.1L356.2 283.1L357.2 283.1L358.2 285.7L359.2 285.7L360.2 285.7L361.2 285.7L362.2 285.7L363.2 288.3L364.2 288.3L365.2 288.3L366.2 288.3L367.2 288.3L368.2 291.0L369.2 291.0L370.2 291.0L371.2 291.0L372.2 291.0L373.2 291.0L374.2 293.6L375.2 293.6L376.2 293.6L377.2 293.6L378.2 293.6L379.2 293.6L380.2 293.6L381.2 293.6L382.2 293.6L383.2 293.6L384.2 293.6L385.2 293.6L386.2 293.6L387.2 296.2L388.1 296.2L389.1 296.2L390.1 296.2L391.1 296.2L392.1 296.2L393.1 296.2L394.1 296.2L395.1 296.2L396.1 296.2L397.1 296.2L398.1 296.2L399.1 296.2L400.1 296.2L401.1 296.2L402.1 296.2L403.1 296.2L404.1 296.2L405.1 296.2L406.1 298.8L407.1 298.8L408.1 298.8L409.1 298.8L410.1 298.8L411.1 298.8L412.1 298.8L413.1 298.8L414.1 298.8L415.1 298.8L416.1 298.8L417.1 298.8L418.1 298.8L419.1 298.8L420.1 298.8L421.1 298.8L422.1 298.8L423.1 298.8L424.1 298.8L425.1 298.8L426.1 298.8L427.1 298.8L428.1 298.8L429.1 298.8L430.1 298.8L431.1 298.8L432.1 298.8L433.1 298.8L434.1 298.8L435.1 298.8L436.1 298.8L437.1 298.8L438.1 298.8L439.1 298.8L440.1 298.8L441.1 298.8L442.1 298.8L443.1 298.8L444.1 301.5L445.1 301.5L446.1 301.5L447.1 301.5L448.1 301.5L449.1 301.5L450.1 301.5L451.1 301.5L452.1 301.5L453.1 301.5L454.1 301.5L455.1 301.5L456.1 301.5L457.1 301.5L458.1 301.5L459.1 301.5L460.1 301.5L461.1 301.5L462.1 301.5L463.1 304.1L464.1 304.1L465.1 304.1L466.1 304.1L467.1 304.1L468.1 304.1L469.1 304.1L470.1 304.1L471.1 304.1L472.0 304.1L473.0 304.1L474.0 304.1L475.0 304.1L476.0 304.1L477.0 304.1L478.0 304.1L479.0 304.1L480.0 304.1L481.0 304.1L482.0 304.1L483.0 304.1L484.0 306.7L485.0 306.7L486.0 306.7L487.0 306.7L488.0 306.7L489.0 306.7L490.0 306.7L491.0 306.7L492.0 306.7L493.0 306.7L494.0 306.7L495.0 306.7L496.0 306.7L497.0 306.7L498.0 306.7L499.0 306.7L500.0 306.7L501.0 309.4L502.0 309.4L503.0 309.4L504.0 309.4L505.0 309.4L506.0 309.4L507.0 309.4L508.0 309.4L509.0 309.4L510.0 309.4L511.0 309.4L512.0 309.4L513.0 309.4L514.0 309.4L515.0 309.4L516.0 312.0L517.0 312.0L518.0 312.0L519.0 312.0L520.0 312.0L521.0 312.0L522.0 312.0L523.0 312.0L524.0 312.0L525.0 312.0L526.0 312.0L527.0 312.0L528.0 312.0L529.0 312.0L530.0 312.0L531.0 312.0L532.0 312.0L533.0 312.0L534.0 312.0L535.0 312.0L536.0 314.6L537.0 314.6L538.0 314.6L539.0 314.6L540.0 314.6L541.0 314.6L542.0 314.6L543.0 314.6L544.0 314.6L545.0 314.6L546.0 314.6L547.0 314.6L548.0 314.6L549.0 314.6L550.0 317.2L551.0 317.2L552.0 317.2L553.0 317.2L554.0 317.2L555.0 317.2L555.9 317.2L556.9 317.2L557.9 317.2L558.9 317.2L559.9 319.9L560.9 319.9L561.9 319.9L562.9 319.9L563.9 319.9L564.9 319.9L565.9 319.9L566.9 319.9L567.9 319.9L568.9 322.5L569.9 322.5L570.9 322.5L571.9 322.5L572.9 322.5L573.9 322.5L574.9 322.5L575.9 322.5L576.9 325.1L577.9 325.1L578.9 325.1L579.9 325.1L580.9 325.1L581.9 325.1L582.9 325.1L583.9 325.1L584.9 325.1L585.9 325.1L586.9 327.8L587.9 327.8L588.9 327.8L589.9 327.8L590.9 327.8L591.9 327.8L592.9 327.8L593.9 327.8L594.9 327.8L595.9 327.8L596.9 327.8L597.9 327.8L598.9 327.8L599.9 330.4L600.9 330.4L601.9 330.4L602.9 330.4L603.9 330.4L604.9 330.4L605.9 330.4L606.9 330.4L607.9 330.4L608.9 330.4L609.9 330.4L610.9 330.4L611.9 330.4L612.9 333.0L613.9 333.0L614.9 333.0L615.9 333.0L616.9 333.0L617.9 333.0L618.9 333.0L619.9 333.0L620.9 333.0L621.9 333.0L622.9 333.0L623.9 333.0L624.9 333.0L625.9 333.0L626.9 333.0L627.9 333.0L628.9 333.0L629.9 333.0L630.9 335.6L631.9 335.6L632.9 335.6L633.9 335.6L634.9 335.6L635.9 335.6L636.9 335.6L637.9 335.6L638.9 335.6L639.8 335.6L640.8 335.6L641.8 335.6L642.8 335.6L643.8 335.6L644.8 335.6L645.8 335.6L646.8 335.6L647.8 335.6L648.8 335.6L649.8 335.6L650.8 335.6L651.8 335.6L652.8 335.6L653.8 335.6L654.8 338.3L655.8 338.3L656.8 338.3L657.8 338.3L658.8 338.3L659.8 338.3L660.8 338.3L661.8 338.3L662.8 338.3L663.8 338.3L664.8 338.3L665.8 338.3L666.8 338.3L667.8 338.3L668.8 338.3L669.8 338.3L670.8 338.3L671.8 338.3L672.8 338.3L673.8 340.9L674.8 340.9L675.8 340.9L676.8 340.9L677.8 340.9L678.8 340.9L679.8 340.9L680.8 340.9L681.8 340.9L682.8 340.9L683.8 340.9L684.8 340.9L685.8 340.9L686.8 340.9L687.8 340.9L688.8 340.9L689.8 343.5L690.8 343.5L691.8 343.5L692.8 343.5L693.8 343.5L694.8 343.5L695.8 343.5L696.8 343.5L697.8 343.5L698.8 343.5L699.8 343.5L700.8 343.5L701.8 343.5L702.8 346.2L703.8 346.2L704.8 346.2L705.8 346.2L706.8 346.2L707.8 346.2L708.8 346.2L709.8 346.2L710.8 346.2L711.8 346.2L712.8 346.2L713.8 348.8L714.8 348.8L715.8 348.8L716.8 348.8L717.8 348.8L718.8 348.8L719.8 348.8L720.8 348.8L721.8 348.8L722.8 348.8L723.7 348.8L724.7 348.8L725.7 351.4L726.7 351.4L727.7 351.4L728.7 351.4L729.7 351.4L730.7 351.4L731.7 351.4L732.7 351.4L733.7 351.4L734.7 351.4L735.7 351.4L736.7 351.4L737.7 351.4L738.7 351.4L739.7 351.4L740.7 351.4L741.7 351.4L742.7 351.4L743.7 354.0L744.7 354.0L745.7 354.0L746.7 354.0L747.7 354.0L748.7 354.0L749.7 354.0L750.7 354.0L751.7 354.0L752.7 354.0L753.7 354.0L754.7 354.0L755.7 354.0L756.7 354.0L757.7 354.0L758.7 354.0L759.7 354.0L760.7 354.0L761.7 354.0L762.7 354.0L763.7 354.0L764.7 354.0L765.7 354.0L766.7 354.0L767.7 354.0L768.7 356.7L769.7 359.3L770.7 364.6L771.7 369.8L772.7 369.8L773.7 369.8L774.7 369.8L775.7 369.8L776.7 369.8L777.7 369.8L778.7 369.8L779.7 369.8L780.7 369.8L781.7 369.8L782.7 369.8L783.7 369.8L784.7 372.4L785.7 372.4L786.7 372.4L787.7 372.4L788.7 372.4L789.7 372.4L790.7 372.4L791.7 372.4L792.7 372.4L793.7 375.1L794.7 375.1L795.7 375.1L796.7 375.1L797.7 375.1L798.7 375.1L799.7 375.1L800.7 375.1L801.7 375.1L802.7 375.1L803.7 375.1L804.7 375.1L805.7 375.1L806.6 375.1L807.6 375.1L808.6 375.1L809.6 375.1L810.6 375.1L811.6 375.1L812.6 375.1L813.6 375.1L814.6 375.1L815.6 375.1L816.6 375.1L817.6 375.1L818.6 375.1L819.6 372.4L820.6 372.4L821.6 372.4L822.6 372.4L823.6 372.4L824.6 372.4L825.6 372.4L826.6 372.4L827.6 372.4L828.6 372.4L829.6 372.4L830.6 372.4L831.6 372.4L832.6 372.4L833.6 372.4L834.6 372.4L835.6 372.4L836.6 372.4L837.6 372.4L838.6 372.4L839.6 369.8L840.6 369.8L841.6 369.8L842.6 369.8L843.6 369.8L844.6 369.8L845.6 369.8L846.6 369.8L847.6 369.8L848.6 369.8L849.6 369.8L850.6 369.8L851.6 369.8L852.6 369.8L853.6 369.8L854.6 369.8L855.6 369.8L856.6 369.8L857.6 369.8L858.6 369.8L859.6 369.8L860.6 369.8L861.6 369.8L862.6 369.8L863.6 369.8L864.6 369.8L865.6 369.8L866.6 369.8L867.6 369.8L868.6 369.8L869.6 369.8L870.6 369.8L871.6 369.8L872.6 369.8L873.6 369.8L874.6 369.8L875.6 369.8L876.6 369.8L877.6 369.8L878.6 369.8L879.6 372.4L880.6 372.4L881.6 372.4L882.6 372.4L883.6 372.4L884.6 372.4L885.6 372.4L886.6 372.4L887.6 372.4L888.6 372.4L889.6 372.4L890.6 372.4L891.5 372.4L892.5 372.4L893.5 372.4L894.5 372.4L895.5 372.4L896.5 372.4L897.5 372.4L898.5 372.4L899.5 372.4L900.5 372.4L901.5 372.4L902.5 372.4L903.5 372.4L904.5 372.4L905.5 372.4L906.5 372.4L907.5 372.4L908.5 372.4L909.5 372.4L910.5 372.4L911.5 372.4L912.5 372.4L913.5 372.4L914.5 372.4L915.5 372.4L916.5 372.4L917.5 372.4L918.5 372.4L919.5 372.4L920.5 372.4L921.5 372.4L922.5 372.4L923.5 372.4L924.5 372.4L925.5 372.4L926.5 372.4L927.5 372.4L928.5 372.4L929.5 372.4L930.5 372.4L931.5 372.4L932.5 372.4" stroke="#009E73" stroke-width="2.2" fill="none" stroke-linejoin="round" stroke-linecap="butt"/>
<path d="M93.5 298.8L94.5 298.8L95.5 298.8L96.5 298.8L97.5 296.2L98.5 296.2L99.5 296.2L100.5 296.2L101.5 296.2L102.5 296.2L103.5 296.2L104.5 296.2L105.5 296.2L106.5 296.2L107.5 296.2L108.5 296.2L109.5 296.2L110.5 296.2L111.5 296.2L112.5 296.2L113.5 296.2L114.5 296.2L115.5 293.6L116.5 293.6L117.5 293.6L118.5 293.6L119.5 293.6L120.5 293.6L121.5 293.6L122.5 293.6L123.5 293.6L124.5 293.6L125.5 293.6L126.5 293.6L127.5 293.6L128.5 293.6L129.5 293.6L130.5 293.6L131.5 293.6L132.5 293.6L133.5 291.0L134.5 291.0L135.4 291.0L136.4 291.0L137.4 291.0L138.4 291.0L139.4 291.0L140.4 291.0L141.4 291.0L142.4 291.0L143.4 291.0L144.4 291.0L145.4 291.0L146.4 291.0L147.4 291.0L148.4 291.0L149.4 291.0L150.4 291.0L151.4 291.0L152.4 288.3L153.4 288.3L154.4 288.3L155.4 288.3L156.4 288.3L157.4 288.3L158.4 288.3L159.4 288.3L160.4 288.3L161.4 288.3L162.4 288.3L163.4 288.3L164.4 288.3L165.4 288.3L166.4 288.3L167.4 288.3L168.4 288.3L169.4 288.3L170.4 288.3L171.4 288.3L172.4 288.3L173.4 285.7L174.4 285.7L175.4 285.7L176.4 285.7L177.4 285.7L178.4 285.7L179.4 285.7L180.4 285.7L181.4 285.7L182.4 285.7L183.4 285.7L184.4 285.7L185.4 285.7L186.4 285.7L187.4 285.7L188.4 285.7L189.4 285.7L190.4 285.7L191.4 285.7L192.4 285.7L193.4 285.7L194.4 285.7L195.4 285.7L196.4 285.7L197.4 285.7L198.4 285.7L199.4 285.7L200.4 285.7L201.4 285.7L202.4 285.7L203.4 285.7L204.4 285.7L205.4 283.1L206.4 283.1L207.4 283.1L208.4 283.1L209.4 283.1L210.4 283.1L211.4 283.1L212.4 283.1L213.4 283.1L214.4 283.1L215.4 283.1L216.4 283.1L217.4 283.1L218.4 283.1L219.4 283.1L220.3 283.1L221.3 283.1L222.3 283.1L223.3 283.1L224.3 283.1L225.3 283.1L226.3 283.1L227.3 283.1L228.3 283.1L229.3 283.1L230.3 283.1L231.3 283.1L232.3 283.1L233.3 283.1L234.3 280.4L235.3 280.4L236.3 280.4L237.3 280.4L238.3 280.4L239.3 280.4L240.3 280.4L241.3 280.4L242.3 280.4L243.3 280.4L244.3 280.4L245.3 280.4L246.3 280.4L247.3 280.4L248.3 280.4L249.3 280.4L250.3 280.4L251.3 280.4L252.3 280.4L253.3 280.4L254.3 277.8L255.3 277.8L256.3 277.8L257.3 277.8L258.3 277.8L259.3 277.8L260.3 277.8L261.3 277.8L262.3 277.8L263.3 277.8L264.3 277.8L265.3 277.8L266.3 277.8L267.3 277.8L268.3 277.8L269.3 277.8L270.3 277.8L271.3 277.8L272.3 277.8L273.3 277.8L274.3 277.8L275.3 275.2L276.3 275.2L277.3 275.2L278.3 275.2L279.3 275.2L280.3 275.2L281.3 275.2L282.3 275.2L283.3 275.2L284.3 275.2L285.3 275.2L286.3 275.2L287.3 275.2L288.3 275.2L289.3 275.2L290.3 275.2L291.3 275.2L292.3 275.2L293.3 275.2L294.3 275.2L295.3 275.2L296.3 275.2L297.3 275.2L298.3 275.2L299.3 275.2L300.3 275.2L301.3 272.6L302.3 272.6L303.2 272.6L304.2 272.6L305.2 272.6L306.2 272.6L307.2 272.6L308.2 272.6L309.2 272.6L310.2 272.6L311.2 272.6L312.2 272.6L313.2 272.6L314.2 272.6L315.2 272.6L316.2 272.6L317.2 272.6L318.2 272.6L319.2 272.6L320.2 272.6L321.2 272.6L322.2 272.6L323.2 272.6L324.2 272.6L325.2 272.6L326.2 272.6L327.2 272.6L328.2 272.6L329.2 272.6L330.2 272.6L331.2 272.6L332.2 272.6L333.2 272.6L334.2 272.6L335.2 272.6L336.2 272.6L337.2 272.6L338.2 272.6L339.2 272.6L340.2 272.6L341.2 272.6L342.2 272.6L343.2 272.6L344.2 272.6L345.2 272.6L346.2 272.6L347.2 272.6L348.2 272.6L349.2 272.6L350.2 272.6L351.2 275.2L352.2 275.2L353.2 275.2L354.2 275.2L355.2 275.2L356.2 275.2L357.2 275.2L358.2 277.8L359.2 277.8L360.2 277.8L361.2 277.8L362.2 277.8L363.2 277.8L364.2 277.8L365.2 277.8L366.2 277.8L367.2 277.8L368.2 277.8L369.2 277.8L370.2 277.8L371.2 280.4L372.2 280.4L373.2 280.4L374.2 280.4L375.2 280.4L376.2 280.4L377.2 280.4L378.2 280.4L379.2 280.4L380.2 280.4L381.2 280.4L382.2 283.1L383.2 283.1L384.2 283.1L385.2 283.1L386.2 283.1L387.2 283.1L388.1 283.1L389.1 283.1L390.1 283.1L391.1 283.1L392.1 283.1L393.1 283.1L394.1 283.1L395.1 283.1L396.1 283.1L397.1 283.1L398.1 283.1L399.1 283.1L400.1 283.1L401.1 285.7L402.1 285.7L403.1 285.7L404.1 285.7L405.1 285.7L406.1 285.7L407.1 285.7L408.1 285.7L409.1 285.7L410.1 285.7L411.1 285.7L412.1 285.7L413.1 285.7L414.1 285.7L415.1 285.7L416.1 285.7L417.1 285.7L418.1 285.7L419.1 285.7L420.1 285.7L421.1 285.7L422.1 285.7L423.1 285.7L424.1 285.7L425.1 288.3L426.1 288.3L427.1 288.3L428.1 288.3L429.1 288.3L430.1 288.3L431.1 288.3L432.1 288.3L433.1 288.3L434.1 288.3L435.1 288.3L436.1 288.3L437.1 288.3L438.1 288.3L439.1 288.3L440.1 288.3L441.1 288.3L442.1 288.3L443.1 288.3L444.1 288.3L445.1 288.3L446.1 288.3L447.1 288.3L448.1 288.3L449.1 288.3L450.1 288.3L451.1 291.0L452.1 291.0L453.1 291.0L454.1 291.0L455.1 291.0L456.1 291.0L457.1 291.0L458.1 291.0L459.1 291.0L460.1 291.0L461.1 291.0L462.1 291.0L463.1 291.0L464.1 291.0L465.1 291.0L466.1 291.0L467.1 291.0L468.1 291.0L469.1 293.6L470.1 293.6L471.1 293.6L472.0 293.6L473.0 293.6L474.0 293.6L475.0 293.6L476.0 293.6L477.0 293.6L478.0 293.6L479.0 293.6L480.0 293.6L481.0 293.6L482.0 293.6L483.0 293.6L484.0 296.2L485.0 296.2L486.0 296.2L487.0 296.2L488.0 296.2L489.0 296.2L490.0 296.2L491.0 296.2L492.0 296.2L493.0 296.2L494.0 296.2L495.0 296.2L496.0 296.2L497.0 296.2L498.0 296.2L499.0 298.8L500.0 298.8L501.0 298.8L502.0 298.8L503.0 298.8L504.0 298.8L505.0 298.8L506.0 298.8L507.0 298.8L508.0 298.8L509.0 301.5L510.0 301.5L511.0 301.5L512.0 301.5L513.0 301.5L514.0 301.5L515.0 301.5L516.0 301.5L517.0 301.5L518.0 301.5L519.0 301.5L520.0 301.5L521.0 301.5L522.0 301.5L523.0 304.1L524.0 304.1L525.0 304.1L526.0 304.1L527.0 304.1L528.0 304.1L529.0 304.1L530.0 304.1L531.0 304.1L532.0 304.1L533.0 304.1L534.0 304.1L535.0 304.1L536.0 304.1L537.0 304.1L538.0 306.7L539.0 306.7L540.0 306.7L541.0 306.7L542.0 306.7L543.0 306.7L544.0 306.7L545.0 306.7L546.0 306.7L547.0 306.7L548.0 306.7L549.0 306.7L550.0 306.7L551.0 309.4L552.0 309.4L553.0 309.4L554.0 309.4L555.0 309.4L555.9 309.4L556.9 309.4L557.9 309.4L558.9 309.4L559.9 309.4L560.9 309.4L561.9 309.4L562.9 309.4L563.9 309.4L564.9 312.0L565.9 312.0L566.9 312.0L567.9 312.0L568.9 312.0L569.9 312.0L570.9 312.0L571.9 312.0L572.9 312.0L573.9 312.0L574.9 312.0L575.9 312.0L576.9 312.0L577.9 312.0L578.9 312.0L579.9 314.6L580.9 314.6L581.9 314.6L582.9 314.6L583.9 314.6L584.9 314.6L585.9 314.6L586.9 314.6L587.9 314.6L588.9 314.6L589.9 314.6L590.9 314.6L591.9 314.6L592.9 317.2L593.9 317.2L594.9 317.2L595.9 317.2L596.9 317.2L597.9 317.2L598.9 317.2L599.9 317.2L600.9 317.2L601.9 317.2L602.9 317.2L603.9 317.2L604.9 317.2L605.9 317.2L606.9 319.9L607.9 319.9L608.9 319.9L609.9 319.9L610.9 319.9L611.9 319.9L612.9 319.9L613.9 319.9L614.9 319.9L615.9 319.9L616.9 319.9L617.9 319.9L618.9 319.9L619.9 319.9L620.9 319.9L621.9 319.9L622.9 319.9L623.9 319.9L624.9 319.9L625.9 319.9L626.9 319.9L627.9 319.9L628.9 319.9L629.9 322.5L630.9 322.5L631.9 322.5L632.9 322.5L633.9 322.5L634.9 322.5L635.9 322.5L636.9 322.5L637.9 322.5L638.9 322.5L639.8 322.5L640.8 322.5L641.8 322.5L642.8 322.5L643.8 322.5L644.8 322.5L645.8 322.5L646.8 322.5L647.8 322.5L648.8 322.5L649.8 322.5L650.8 322.5L651.8 322.5L652.8 322.5L653.8 322.5L654.8 322.5L655.8 325.1L656.8 325.1L657.8 325.1L658.8 325.1L659.8 325.1L660.8 325.1L661.8 325.1L662.8 325.1L663.8 325.1L664.8 325.1L665.8 325.1L666.8 325.1L667.8 325.1L668.8 325.1L669.8 325.1L670.8 325.1L671.8 325.1L672.8 325.1L673.8 325.1L674.8 325.1L675.8 325.1L676.8 325.1L677.8 325.1L678.8 325.1L679.8 325.1L680.8 325.1L681.8 325.1L682.8 327.8L683.8 327.8L684.8 327.8L685.8 327.8L686.8 327.8L687.8 327.8L688.8 327.8L689.8 327.8L690.8 327.8L691.8 327.8L692.8 327.8L693.8 327.8L694.8 327.8L695.8 327.8L696.8 327.8L697.8 327.8L698.8 327.8L699.8 327.8L700.8 327.8L701.8 327.8L702.8 327.8L703.8 330.4L704.8 330.4L705.8 330.4L706.8 330.4L707.8 330.4L708.8 330.4L709.8 330.4L710.8 330.4L711.8 330.4L712.8 330.4L713.8 330.4L714.8 330.4L715.8 330.4L716.8 333.0L717.8 333.0L718.8 333.0L719.8 333.0L720.8 333.0L721.8 333.0L722.8 333.0L723.7 333.0L724.7 333.0L725.7 333.0L726.7 333.0L727.7 333.0L728.7 333.0L729.7 333.0L730.7 333.0L731.7 333.0L732.7 333.0L733.7 333.0L734.7 333.0L735.7 333.0L736.7 333.0L737.7 333.0L738.7 333.0L739.7 333.0L740.7 333.0L741.7 333.0L742.7 333.0L743.7 333.0L744.7 333.0L745.7 333.0L746.7 333.0L747.7 333.0L748.7 333.0L749.7 335.6L750.7 335.6L751.7 335.6L752.7 335.6L753.7 335.6L754.7 335.6L755.7 335.6L756.7 335.6L757.7 335.6L758.7 335.6L759.7 335.6L760.7 335.6L761.7 335.6L762.7 335.6L763.7 335.6L764.7 335.6L765.7 335.6L766.7 335.6L767.7 335.6L768.7 338.3L769.7 338.3L770.7 338.3L771.7 338.3L772.7 338.3L773.7 338.3L774.7 338.3L775.7 338.3L776.7 338.3L777.7 338.3L778.7 338.3L779.7 340.9L780.7 340.9L781.7 340.9L782.7 340.9L783.7 340.9L784.7 340.9L785.7 340.9L786.7 340.9L787.7 340.9L788.7 343.5L789.7 343.5L790.7 343.5L791.7 343.5L792.7 343.5L793.7 343.5L794.7 343.5L795.7 343.5L796.7 343.5L797.7 343.5L798.7 346.2L799.7 346.2L800.7 346.2L801.7 346.2L802.7 346.2L803.7 346.2L804.7 346.2L805.7 346.2L806.6 346.2L807.6 346.2L808.6 346.2L809.6 346.2L810.6 346.2L811.6 348.8L812.6 348.8L813.6 348.8L814.6 348.8L815.6 348.8L816.6 348.8L817.6 348.8L818.6 348.8L819.6 351.4L820.6 351.4L821.6 351.4L822.6 351.4L823.6 351.4L824.6 351.4L825.6 351.4L826.6 351.4L827.6 354.0L828.6 354.0L829.6 354.0L830.6 354.0L831.6 354.0L832.6 354.0L833.6 354.0L834.6 354.0L835.6 354.0L836.6 354.0L837.6 354.0L838.6 354.0L839.6 354.0L840.6 354.0L841.6 354.0L842.6 354.0L843.6 354.0L844.6 354.0L845.6 354.0L846.6 354.0L847.6 354.0L848.6 354.0L849.6 354.0L850.6 354.0L851.6 354.0L852.6 354.0L853.6 354.0L854.6 354.0L855.6 354.0L856.6 354.0L857.6 354.0L858.6 354.0L859.6 354.0L860.6 354.0L861.6 354.0L862.6 354.0L863.6 354.0L864.6 354.0L865.6 354.0L866.6 354.0L867.6 354.0L868.6 354.0L869.6 354.0L870.6 354.0L871.6 354.0L872.6 354.0L873.6 354.0L874.6 354.0L875.6 354.0L876.6 354.0L877.6 354.0L878.6 354.0L879.6 354.0L880.6 354.0L881.6 354.0L882.6 354.0L883.6 354.0L884.6 354.0L885.6 354.0L886.6 354.0L887.6 354.0L888.6 356.7L889.6 356.7L890.6 356.7L891.5 356.7L892.5 356.7L893.5 356.7L894.5 356.7L895.5 356.7L896.5 356.7L897.5 356.7L898.5 356.7L899.5 356.7L900.5 356.7L901.5 356.7L902.5 356.7L903.5 356.7L904.5 356.7L905.5 356.7L906.5 356.7L907.5 356.7L908.5 356.7L909.5 356.7L910.5 356.7L911.5 356.7L912.5 359.3L913.5 359.3L914.5 359.3L915.5 359.3L916.5 359.3L917.5 359.3L918.5 359.3L919.5 359.3L920.5 359.3L921.5 359.3L922.5 359.3L923.5 359.3L924.5 359.3L925.5 359.3L926.5 359.3L927.5 359.3L928.5 359.3L929.5 359.3L930.5 359.3L931.5 359.3L932.5 359.3" stroke="#56B4E9" stroke-width="2.2" fill="none" stroke-linejoin="round" stroke-linecap="butt"/>
<path d="M93.5 348.8L94.5 348.8L95.5 348.8L96.5 348.8L97.5 348.8L98.5 348.8L99.5 348.8L100.5 348.8L101.5 348.8L102.5 348.8L103.5 346.2L104.5 346.2L105.5 346.2L106.5 346.2L107.5 346.2L108.5 346.2L109.5 346.2L110.5 346.2L111.5 346.2L112.5 346.2L113.5 346.2L114.5 346.2L115.5 346.2L116.5 346.2L117.5 346.2L118.5 346.2L119.5 346.2L120.5 346.2L121.5 346.2L122.5 346.2L123.5 346.2L124.5 346.2L125.5 346.2L126.5 346.2L127.5 346.2L128.5 346.2L129.5 346.2L130.5 346.2L131.5 346.2L132.5 346.2L133.5 346.2L134.5 346.2L135.4 346.2L136.4 346.2L137.4 346.2L138.4 346.2L139.4 346.2L140.4 346.2L141.4 346.2L142.4 346.2L143.4 346.2L144.4 346.2L145.4 346.2L146.4 346.2L147.4 346.2L148.4 346.2L149.4 346.2L150.4 346.2L151.4 346.2L152.4 346.2L153.4 346.2L154.4 346.2L155.4 346.2L156.4 346.2L157.4 346.2L158.4 346.2L159.4 346.2L160.4 346.2L161.4 346.2L162.4 346.2L163.4 346.2L164.4 346.2L165.4 346.2L166.4 346.2L167.4 346.2L168.4 343.5L169.4 343.5L170.4 343.5L171.4 343.5L172.4 343.5L173.4 343.5L174.4 343.5L175.4 343.5L176.4 343.5L177.4 343.5L178.4 343.5L179.4 343.5L180.4 343.5L181.4 343.5L182.4 343.5L183.4 343.5L184.4 343.5L185.4 343.5L186.4 343.5L187.4 343.5L188.4 343.5L189.4 343.5L190.4 343.5L191.4 343.5L192.4 343.5L193.4 343.5L194.4 343.5L195.4 343.5L196.4 343.5L197.4 343.5L198.4 343.5L199.4 343.5L200.4 343.5L201.4 343.5L202.4 343.5L203.4 343.5L204.4 343.5L205.4 343.5L206.4 343.5L207.4 343.5L208.4 343.5L209.4 343.5L210.4 343.5L211.4 343.5L212.4 343.5L213.4 343.5L214.4 343.5L215.4 343.5L216.4 343.5L217.4 343.5L218.4 343.5L219.4 343.5L220.3 343.5L221.3 343.5L222.3 343.5L223.3 343.5L224.3 343.5L225.3 343.5L226.3 343.5L227.3 343.5L228.3 343.5L229.3 343.5L230.3 343.5L231.3 343.5L232.3 343.5L233.3 343.5L234.3 343.5L235.3 343.5L236.3 343.5L237.3 340.9L238.3 340.9L239.3 340.9L240.3 340.9L241.3 340.9L242.3 340.9L243.3 340.9L244.3 340.9L245.3 340.9L246.3 340.9L247.3 340.9L248.3 340.9L249.3 340.9L250.3 340.9L251.3 340.9L252.3 340.9L253.3 340.9L254.3 340.9L255.3 340.9L256.3 340.9L257.3 340.9L258.3 340.9L259.3 340.9L260.3 340.9L261.3 340.9L262.3 340.9L263.3 340.9L264.3 340.9L265.3 340.9L266.3 340.9L267.3 340.9L268.3 340.9L269.3 340.9L270.3 340.9L271.3 340.9L272.3 340.9L273.3 340.9L274.3 340.9L275.3 340.9L276.3 340.9L277.3 340.9L278.3 340.9L279.3 340.9L280.3 340.9L281.3 340.9L282.3 340.9L283.3 340.9L284.3 340.9L285.3 340.9L286.3 340.9L287.3 340.9L288.3 340.9L289.3 340.9L290.3 340.9L291.3 340.9L292.3 340.9L293.3 340.9L294.3 340.9L295.3 340.9L296.3 340.9L297.3 340.9L298.3 340.9L299.3 340.9L300.3 338.3L301.3 338.3L302.3 338.3L303.2 338.3L304.2 338.3L305.2 338.3L306.2 338.3L307.2 338.3L308.2 338.3L309.2 338.3L310.2 338.3L311.2 338.3L312.2 338.3L313.2 338.3L314.2 338.3L315.2 338.3L316.2 338.3L317.2 338.3L318.2 338.3L319.2 338.3L320.2 338.3L321.2 338.3L322.2 338.3L323.2 338.3L324.2 338.3L325.2 338.3L326.2 338.3L327.2 338.3L328.2 338.3L329.2 338.3L330.2 338.3L331.2 338.3L332.2 338.3L333.2 338.3L334.2 338.3L335.2 338.3L336.2 338.3L337.2 338.3L338.2 338.3L339.2 338.3L340.2 338.3L341.2 338.3L342.2 338.3L343.2 338.3L344.2 338.3L345.2 338.3L346.2 338.3L347.2 338.3L348.2 338.3L349.2 338.3L350.2 338.3L351.2 338.3L352.2 338.3L353.2 338.3L354.2 338.3L355.2 338.3L356.2 338.3L357.2 340.9L358.2 340.9L359.2 340.9L360.2 340.9L361.2 340.9L362.2 340.9L363.2 340.9L364.2 340.9L365.2 340.9L366.2 340.9L367.2 340.9L368.2 340.9L369.2 340.9L370.2 340.9L371.2 340.9L372.2 340.9L373.2 340.9L374.2 340.9L375.2 340.9L376.2 340.9L377.2 340.9L378.2 340.9L379.2 340.9L380.2 340.9L381.2 343.5L382.2 343.5L383.2 343.5L384.2 343.5L385.2 343.5L386.2 343.5L387.2 343.5L388.1 343.5L389.1 343.5L390.1 343.5L391.1 343.5L392.1 343.5L393.1 343.5L394.1 343.5L395.1 343.5L396.1 343.5L397.1 343.5L398.1 343.5L399.1 343.5L400.1 343.5L401.1 343.5L402.1 343.5L403.1 343.5L404.1 343.5L405.1 343.5L406.1 343.5L407.1 343.5L408.1 343.5L409.1 343.5L410.1 343.5L411.1 343.5L412.1 343.5L413.1 343.5L414.1 343.5L415.1 343.5L416.1 343.5L417.1 343.5L418.1 343.5L419.1 343.5L420.1 343.5L421.1 343.5L422.1 343.5L423.1 343.5L424.1 343.5L425.1 343.5L426.1 343.5L427.1 343.5L428.1 343.5L429.1 343.5L430.1 343.5L431.1 343.5L432.1 343.5L433.1 343.5L434.1 343.5L435.1 343.5L436.1 343.5L437.1 343.5L438.1 343.5L439.1 343.5L440.1 343.5L441.1 343.5L442.1 343.5L443.1 343.5L444.1 343.5L445.1 343.5L446.1 343.5L447.1 343.5L448.1 343.5L449.1 343.5L450.1 343.5L451.1 343.5L452.1 343.5L453.1 343.5L454.1 343.5L455.1 343.5L456.1 343.5L457.1 343.5L458.1 343.5L459.1 343.5L460.1 343.5L461.1 343.5L462.1 343.5L463.1 343.5L464.1 343.5L465.1 343.5L466.1 343.5L467.1 343.5L468.1 343.5L469.1 343.5L470.1 343.5L471.1 343.5L472.0 343.5L473.0 343.5L474.0 343.5L475.0 343.5L476.0 343.5L477.0 343.5L478.0 343.5L479.0 343.5L480.0 343.5L481.0 343.5L482.0 343.5L483.0 343.5L484.0 343.5L485.0 343.5L486.0 343.5L487.0 343.5L488.0 343.5L489.0 343.5L490.0 343.5L491.0 343.5L492.0 343.5L493.0 343.5L494.0 343.5L495.0 343.5L496.0 343.5L497.0 343.5L498.0 343.5L499.0 343.5L500.0 343.5L501.0 343.5L502.0 343.5L503.0 343.5L504.0 343.5L505.0 346.2L506.0 346.2L507.0 346.2L508.0 346.2L509.0 346.2L510.0 346.2L511.0 346.2L512.0 346.2L513.0 346.2L514.0 346.2L515.0 346.2L516.0 346.2L517.0 346.2L518.0 346.2L519.0 346.2L520.0 346.2L521.0 346.2L522.0 346.2L523.0 346.2L524.0 346.2L525.0 346.2L526.0 346.2L527.0 346.2L528.0 346.2L529.0 346.2L530.0 346.2L531.0 346.2L532.0 346.2L533.0 346.2L534.0 346.2L535.0 346.2L536.0 346.2L537.0 346.2L538.0 346.2L539.0 346.2L540.0 346.2L541.0 346.2L542.0 346.2L543.0 346.2L544.0 346.2L545.0 346.2L546.0 346.2L547.0 346.2L548.0 346.2L549.0 346.2L550.0 346.2L551.0 346.2L552.0 348.8L553.0 348.8L554.0 348.8L555.0 348.8L555.9 348.8L556.9 348.8L557.9 348.8L558.9 348.8L559.9 348.8L560.9 348.8L561.9 348.8L562.9 348.8L563.9 348.8L564.9 348.8L565.9 348.8L566.9 348.8L567.9 348.8L568.9 351.4L569.9 351.4L570.9 351.4L571.9 351.4L572.9 351.4L573.9 351.4L574.9 351.4L575.9 351.4L576.9 351.4L577.9 351.4L578.9 351.4L579.9 351.4L580.9 351.4L581.9 351.4L582.9 351.4L583.9 351.4L584.9 351.4L585.9 351.4L586.9 351.4L587.9 351.4L588.9 351.4L589.9 351.4L590.9 351.4L591.9 351.4L592.9 351.4L593.9 351.4L594.9 351.4L595.9 351.4L596.9 351.4L597.9 351.4L598.9 351.4L599.9 351.4L600.9 351.4L601.9 351.4L602.9 351.4L603.9 351.4L604.9 351.4L605.9 351.4L606.9 354.0L607.9 354.0L608.9 354.0L609.9 354.0L610.9 354.0L611.9 354.0L612.9 354.0L613.9 354.0L614.9 354.0L615.9 354.0L616.9 354.0L617.9 354.0L618.9 354.0L619.9 354.0L620.9 354.0L621.9 354.0L622.9 354.0L623.9 351.4L624.9 351.4L625.9 351.4L626.9 351.4L627.9 351.4L628.9 351.4L629.9 351.4L630.9 351.4L631.9 351.4L632.9 351.4L633.9 354.0L634.9 354.0L635.9 354.0L636.9 354.0L637.9 354.0L638.9 354.0L639.8 354.0L640.8 354.0L641.8 354.0L642.8 354.0L643.8 354.0L644.8 354.0L645.8 354.0L646.8 354.0L647.8 354.0L648.8 354.0L649.8 354.0L650.8 354.0L651.8 354.0L652.8 354.0L653.8 354.0L654.8 354.0L655.8 354.0L656.8 354.0L657.8 354.0L658.8 354.0L659.8 354.0L660.8 354.0L661.8 354.0L662.8 354.0L663.8 354.0L664.8 354.0L665.8 354.0L666.8 354.0L667.8 354.0L668.8 354.0L669.8 354.0L670.8 354.0L671.8 354.0L672.8 354.0L673.8 354.0L674.8 354.0L675.8 354.0L676.8 354.0L677.8 354.0L678.8 354.0L679.8 354.0L680.8 354.0L681.8 354.0L682.8 354.0L683.8 354.0L684.8 354.0L685.8 354.0L686.8 354.0L687.8 354.0L688.8 354.0L689.8 354.0L690.8 354.0L691.8 354.0L692.8 354.0L693.8 354.0L694.8 354.0L695.8 354.0L696.8 354.0L697.8 354.0L698.8 354.0L699.8 354.0L700.8 354.0L701.8 354.0L702.8 354.0L703.8 354.0L704.8 354.0L705.8 354.0L706.8 354.0L707.8 354.0L708.8 354.0L709.8 354.0L710.8 354.0L711.8 356.7L712.8 356.7L713.8 356.7L714.8 356.7L715.8 356.7L716.8 356.7L717.8 356.7L718.8 356.7L719.8 356.7L720.8 356.7L721.8 356.7L722.8 356.7L723.7 356.7L724.7 356.7L725.7 356.7L726.7 356.7L727.7 356.7L728.7 356.7L729.7 356.7L730.7 356.7L731.7 356.7L732.7 356.7L733.7 356.7L734.7 356.7L735.7 356.7L736.7 356.7L737.7 356.7L738.7 356.7L739.7 356.7L740.7 356.7L741.7 356.7L742.7 356.7L743.7 356.7L744.7 356.7L745.7 356.7L746.7 356.7L747.7 356.7L748.7 356.7L749.7 356.7L750.7 359.3L751.7 359.3L752.7 359.3L753.7 359.3L754.7 359.3L755.7 359.3L756.7 359.3L757.7 359.3L758.7 359.3L759.7 359.3L760.7 359.3L761.7 359.3L762.7 359.3L763.7 359.3L764.7 359.3L765.7 359.3L766.7 359.3L767.7 359.3L768.7 359.3L769.7 359.3L770.7 359.3L771.7 359.3L772.7 359.3L773.7 359.3L774.7 359.3L775.7 359.3L776.7 359.3L777.7 359.3L778.7 361.9L779.7 361.9L780.7 361.9L781.7 361.9L782.7 361.9L783.7 361.9L784.7 361.9L785.7 361.9L786.7 361.9L787.7 361.9L788.7 361.9L789.7 361.9L790.7 361.9L791.7 361.9L792.7 361.9L793.7 361.9L794.7 361.9L795.7 361.9L796.7 361.9L797.7 361.9L798.7 361.9L799.7 361.9L800.7 361.9L801.7 361.9L802.7 361.9L803.7 361.9L804.7 361.9L805.7 361.9L806.6 361.9L807.6 361.9L808.6 361.9L809.6 361.9L810.6 361.9L811.6 361.9L812.6 361.9L813.6 361.9L814.6 361.9L815.6 364.6L816.6 364.6L817.6 364.6L818.6 364.6L819.6 364.6L820.6 364.6L821.6 364.6L822.6 364.6L823.6 364.6L824.6 367.2L825.6 367.2L826.6 367.2L827.6 367.2L828.6 367.2L829.6 367.2L830.6 367.2L831.6 367.2L832.6 367.2L833.6 367.2L834.6 367.2L835.6 367.2L836.6 367.2L837.6 367.2L838.6 367.2L839.6 367.2L840.6 367.2L841.6 367.2L842.6 367.2L843.6 367.2L844.6 367.2L845.6 367.2L846.6 367.2L847.6 367.2L848.6 367.2L849.6 367.2L850.6 367.2L851.6 367.2L852.6 367.2L853.6 367.2L854.6 367.2L855.6 367.2L856.6 367.2L857.6 367.2L858.6 367.2L859.6 367.2L860.6 367.2L861.6 367.2L862.6 367.2L863.6 367.2L864.6 367.2L865.6 367.2L866.6 367.2L867.6 367.2L868.6 367.2L869.6 367.2L870.6 367.2L871.6 367.2L872.6 367.2L873.6 367.2L874.6 369.8L875.6 369.8L876.6 369.8L877.6 369.8L878.6 369.8L879.6 369.8L880.6 369.8L881.6 369.8L882.6 369.8L883.6 369.8L884.6 369.8L885.6 369.8L886.6 369.8L887.6 369.8L888.6 369.8L889.6 369.8L890.6 369.8L891.5 369.8L892.5 369.8L893.5 369.8L894.5 369.8L895.5 367.2L896.5 367.2L897.5 367.2L898.5 367.2L899.5 367.2L900.5 367.2L901.5 367.2L902.5 367.2L903.5 367.2L904.5 367.2L905.5 367.2L906.5 367.2L907.5 367.2L908.5 367.2L909.5 367.2L910.5 367.2L911.5 367.2L912.5 367.2L913.5 367.2L914.5 367.2L915.5 367.2L916.5 367.2L917.5 367.2L918.5 367.2L919.5 367.2L920.5 367.2L921.5 367.2L922.5 367.2L923.5 367.2L924.5 367.2L925.5 367.2L926.5 367.2L927.5 367.2L928.5 367.2L929.5 367.2L930.5 367.2L931.5 367.2L932.5 367.2" stroke="#E69F00" stroke-width="2.2" fill="none" stroke-linejoin="round" stroke-linecap="butt"/>
<path d="M93.5 293.6L94.5 293.6L95.5 293.6L96.5 293.6L97.5 293.6L98.5 293.6L99.5 293.6L100.5 293.6L101.5 293.6L102.5 293.6L103.5 293.6L104.5 293.6L105.5 293.6L106.5 293.6L107.5 293.6L108.5 293.6L109.5 293.6L110.5 293.6L111.5 293.6L112.5 293.6L113.5 293.6L114.5 293.6L115.5 293.6L116.5 293.6L117.5 293.6L118.5 293.6L119.5 293.6L120.5 293.6L121.5 293.6L122.5 293.6L123.5 293.6L124.5 293.6L125.5 293.6L126.5 293.6L127.5 293.6L128.5 293.6L129.5 293.6L130.5 293.6L131.5 293.6L132.5 293.6L133.5 293.6L134.5 293.6L135.4 293.6L136.4 293.6L137.4 293.6L138.4 293.6L139.4 293.6L140.4 293.6L141.4 293.6L142.4 293.6L143.4 293.6L144.4 293.6L145.4 293.6L146.4 293.6L147.4 293.6L148.4 293.6L149.4 293.6L150.4 293.6L151.4 293.6L152.4 293.6L153.4 293.6L154.4 293.6L155.4 293.6L156.4 293.6L157.4 293.6L158.4 293.6L159.4 293.6L160.4 293.6L161.4 293.6L162.4 293.6L163.4 293.6L164.4 293.6L165.4 293.6L166.4 293.6L167.4 293.6L168.4 293.6L169.4 293.6L170.4 293.6L171.4 293.6L172.4 293.6L173.4 293.6L174.4 293.6L175.4 293.6L176.4 293.6L177.4 293.6L178.4 293.6L179.4 292.3L180.4 292.3L181.4 292.3L182.4 292.3L183.4 293.6L184.4 293.6L185.4 293.6L186.4 293.6L187.4 292.3L188.4 292.3L189.4 292.3L190.4 292.3L191.4 292.3L192.4 292.3L193.4 292.3L194.4 292.3L195.4 292.3L196.4 292.3L197.4 292.3L198.4 292.3L199.4 292.3L200.4 292.3L201.4 292.3L202.4 292.3L203.4 292.3L204.4 292.3L205.4 292.3L206.4 291.0L207.4 291.0L208.4 291.0L209.4 291.0L210.4 291.0L211.4 291.0L212.4 291.0L213.4 291.0L214.4 291.0L215.4 289.6L216.4 289.6L217.4 289.6L218.4 289.6L219.4 289.6L220.3 289.6L221.3 289.6L222.3 289.6L223.3 289.6L224.3 289.6L225.3 289.6L226.3 289.6L227.3 289.6L228.3 289.6L229.3 289.6L230.3 289.6L231.3 289.6L232.3 289.6L233.3 289.6L234.3 289.6L235.3 289.6L236.3 289.6L237.3 289.6L238.3 289.6L239.3 289.6L240.3 289.6L241.3 289.6L242.3 289.6L243.3 289.6L244.3 289.6L245.3 289.6L246.3 289.6L247.3 289.6L248.3 289.6L249.3 289.6L250.3 289.6L251.3 289.6L252.3 289.6L253.3 289.6L254.3 289.6L255.3 289.6L256.3 289.6L257.3 289.6L258.3 289.6L259.3 289.6L260.3 289.6L261.3 289.6L262.3 289.6L263.3 289.6L264.3 289.6L265.3 289.6L266.3 289.6L267.3 289.6L268.3 289.6L269.3 289.6L270.3 289.6L271.3 289.6L272.3 289.6L273.3 289.6L274.3 289.6L275.3 289.6L276.3 289.6L277.3 289.6L278.3 289.6L279.3 289.6L280.3 289.6L281.3 289.6L282.3 289.6L283.3 289.6L284.3 289.6L285.3 289.6L286.3 289.6L287.3 289.6L288.3 289.6L289.3 289.6L290.3 288.3L291.3 288.3L292.3 288.3L293.3 289.6L294.3 289.6L295.3 288.3L296.3 288.3L297.3 288.3L298.3 288.3L299.3 288.3L300.3 288.3L301.3 288.3L302.3 288.3L303.2 288.3L304.2 288.3L305.2 288.3L306.2 288.3L307.2 288.3L308.2 288.3L309.2 288.3L310.2 288.3L311.2 288.3L312.2 288.3L313.2 288.3L314.2 287.0L315.2 288.3L316.2 287.0L317.2 288.3L318.2 288.3L319.2 288.3L320.2 288.3L321.2 287.0L322.2 287.0L323.2 288.3L324.2 288.3L325.2 288.3L326.2 288.3L327.2 288.3L328.2 288.3L329.2 288.3L330.2 288.3L331.2 289.6L332.2 289.6L333.2 289.6L334.2 289.6L335.2 289.6L336.2 289.6L337.2 289.6L338.2 289.6L339.2 289.6L340.2 289.6L341.2 291.0L342.2 291.0L343.2 291.0L344.2 291.0L345.2 291.0L346.2 291.0L347.2 292.3L348.2 292.3L349.2 292.3L350.2 292.3L351.2 292.3L352.2 292.3L353.2 293.6L354.2 293.6L355.2 293.6L356.2 293.6L357.2 293.6L358.2 294.9L359.2 294.9L360.2 294.9L361.2 294.9L362.2 294.9L363.2 294.9L364.2 296.2L365.2 296.2L366.2 296.2L367.2 297.5L368.2 297.5L369.2 296.2L370.2 296.2L371.2 294.9L372.2 294.9L373.2 296.2L374.2 296.2L375.2 296.2L376.2 296.2L377.2 296.2L378.2 296.2L379.2 296.2L380.2 296.2L381.2 297.5L382.2 297.5L383.2 294.9L384.2 294.9L385.2 296.2L386.2 296.2L387.2 294.9L388.1 294.9L389.1 294.9L390.1 294.9L391.1 297.5L392.1 297.5L393.1 294.9L394.1 294.9L395.1 294.9L396.1 294.9L397.1 294.9L398.1 294.9L399.1 296.2L400.1 296.2L401.1 296.2L402.1 296.2L403.1 294.9L404.1 294.9L405.1 297.5L406.1 296.2L407.1 294.9L408.1 294.9L409.1 296.2L410.1 296.2L411.1 296.2L412.1 296.2L413.1 296.2L414.1 296.2L415.1 296.2L416.1 296.2L417.1 294.9L418.1 294.9L419.1 296.2L420.1 296.2L421.1 296.2L422.1 296.2L423.1 296.2L424.1 296.2L425.1 294.9L426.1 294.9L427.1 294.9L428.1 294.9L429.1 297.5L430.1 297.5L431.1 294.9L432.1 294.9L433.1 296.2L434.1 296.2L435.1 296.2L436.1 296.2L437.1 296.2L438.1 296.2L439.1 293.6L440.1 293.6L441.1 293.6L442.1 293.6L443.1 296.2L444.1 296.2L445.1 296.2L446.1 296.2L447.1 293.6L448.1 293.6L449.1 294.9L450.1 294.9L451.1 293.6L452.1 293.6L453.1 296.2L454.1 296.2L455.1 293.6L456.1 293.6L457.1 296.2L458.1 296.2L459.1 298.8L460.1 297.5L461.1 294.9L462.1 294.9L463.1 296.2L464.1 296.2L465.1 294.9L466.1 294.9L467.1 296.2L468.1 296.2L469.1 294.9L470.1 294.9L471.1 297.5L472.0 298.8L473.0 298.8L474.0 298.8L475.0 296.2L476.0 296.2L477.0 296.2L478.0 296.2L479.0 297.5L480.0 297.5L481.0 298.8L482.0 298.8L483.0 296.2L484.0 296.2L485.0 294.9L486.0 294.9L487.0 297.5L488.0 297.5L489.0 297.5L490.0 297.5L491.0 297.5L492.0 297.5L493.0 296.2L494.0 296.2L495.0 296.2L496.0 296.2L497.0 297.5L498.0 297.5L499.0 297.5L500.0 297.5L501.0 296.2L502.0 296.2L503.0 298.8L504.0 298.8L505.0 297.5L506.0 297.5L507.0 296.2L508.0 296.2L509.0 297.5L510.0 297.5L511.0 300.2L512.0 300.2L513.0 297.5L514.0 297.5L515.0 298.8L516.0 298.8L517.0 300.2L518.0 300.2L519.0 297.5L520.0 297.5L521.0 298.8L522.0 298.8L523.0 297.5L524.0 297.5L525.0 296.2L526.0 296.2L527.0 296.2L528.0 296.2L529.0 297.5L530.0 297.5L531.0 296.2L532.0 296.2L533.0 296.2L534.0 296.2L535.0 296.2L536.0 296.2L537.0 296.2L538.0 296.2L539.0 297.5L540.0 297.5L541.0 294.9L542.0 294.9L543.0 297.5L544.0 297.5L545.0 296.2L546.0 296.2L547.0 296.2L548.0 296.2L549.0 297.5L550.0 297.5L551.0 297.5L552.0 297.5L553.0 296.2L554.0 296.2L555.0 297.5L555.9 297.5L556.9 296.2L557.9 296.2L558.9 296.2L559.9 296.2L560.9 297.5L561.9 297.5L562.9 297.5L563.9 297.5L564.9 296.2L565.9 296.2L566.9 297.5L567.9 297.5L568.9 297.5L569.9 297.5L570.9 298.8L571.9 298.8L572.9 298.8L573.9 298.8L574.9 298.8L575.9 298.8L576.9 298.8L577.9 298.8L578.9 298.8L579.9 298.8L580.9 301.5L581.9 301.5L582.9 300.2L583.9 301.5L584.9 301.5L585.9 301.5L586.9 301.5L587.9 301.5L588.9 301.5L589.9 301.5L590.9 300.2L591.9 300.2L592.9 300.2L593.9 301.5L594.9 302.8L595.9 302.8L596.9 304.1L597.9 304.1L598.9 302.8L599.9 302.8L600.9 302.8L601.9 302.8L602.9 304.1L603.9 304.1L604.9 302.8L605.9 302.8L606.9 302.8L607.9 302.8L608.9 302.8L609.9 302.8L610.9 304.1L611.9 304.1L612.9 302.8L613.9 302.8L614.9 302.8L615.9 302.8L616.9 301.5L617.9 301.5L618.9 302.8L619.9 302.8L620.9 302.8L621.9 302.8L622.9 302.8L623.9 302.8L624.9 304.1L625.9 304.1L626.9 302.8L627.9 302.8L628.9 302.8L629.9 302.8L630.9 304.1L631.9 304.1L632.9 302.8L633.9 302.8L634.9 301.5L635.9 301.5L636.9 304.1L637.9 304.1L638.9 305.4L639.8 305.4L640.8 304.1L641.8 304.1L642.8 304.1L643.8 304.1L644.8 304.1L645.8 304.1L646.8 305.4L647.8 305.4L648.8 305.4L649.8 305.4L650.8 302.8L651.8 302.8L652.8 305.4L653.8 305.4L654.8 302.8L655.8 304.1L656.8 302.8L657.8 304.1L658.8 308.0L659.8 308.0L660.8 305.4L661.8 305.4L662.8 306.7L663.8 306.7L664.8 306.7L665.8 306.7L666.8 305.4L667.8 305.4L668.8 306.7L669.8 305.4L670.8 305.4L671.8 305.4L672.8 304.1L673.8 304.1L674.8 305.4L675.8 305.4L676.8 308.0L677.8 308.0L678.8 305.4L679.8 305.4L680.8 305.4L681.8 305.4L682.8 305.4L683.8 305.4L684.8 306.7L685.8 306.7L686.8 305.4L687.8 305.4L688.8 305.4L689.8 305.4L690.8 306.7L691.8 308.0L692.8 308.0L693.8 308.0L694.8 306.7L695.8 306.7L696.8 308.0L697.8 308.0L698.8 306.7L699.8 306.7L700.8 309.4L701.8 309.4L702.8 309.4L703.8 309.4L704.8 308.0L705.8 308.0L706.8 308.0L707.8 308.0L708.8 309.4L709.8 309.4L710.8 306.7L711.8 308.0L712.8 309.4L713.8 309.4L714.8 308.0L715.8 308.0L716.8 310.7L717.8 310.7L718.8 310.7L719.8 310.7L720.8 310.7L721.8 310.7L722.8 309.4L723.7 309.4L724.7 309.4L725.7 309.4L726.7 309.4L727.7 309.4L728.7 310.7L729.7 310.7L730.7 309.4L731.7 309.4L732.7 309.4L733.7 309.4L734.7 310.7L735.7 310.7L736.7 310.7L737.7 310.7L738.7 309.4L739.7 309.4L740.7 309.4L741.7 309.4L742.7 309.4L743.7 310.7L744.7 310.7L745.7 310.7L746.7 310.7L747.7 310.7L748.7 310.7L749.7 310.7L750.7 310.7L751.7 310.7L752.7 312.0L753.7 312.0L754.7 312.0L755.7 312.0L756.7 312.0L757.7 312.0L758.7 310.7L759.7 310.7L760.7 312.0L761.7 312.0L762.7 312.0L763.7 310.7L764.7 312.0L765.7 312.0L766.7 310.7L767.7 310.7L768.7 313.3L769.7 313.3L770.7 310.7L771.7 310.7L772.7 310.7L773.7 310.7L774.7 310.7L775.7 310.7L776.7 310.7L777.7 310.7L778.7 313.3L779.7 313.3L780.7 309.4L781.7 309.4L782.7 309.4L783.7 309.4L784.7 308.0L785.7 308.0L786.7 309.4L787.7 309.4L788.7 309.4L789.7 309.4L790.7 312.0L791.7 313.3L792.7 313.3L793.7 315.9L794.7 321.2L795.7 323.8L796.7 325.1L797.7 327.8L798.7 330.4L799.7 333.0L800.7 331.7L801.7 331.7L802.7 333.0L803.7 334.3L804.7 333.0L805.7 333.0L806.6 335.6L807.6 335.6L808.6 337.0L809.6 337.0L810.6 337.0L811.6 337.0L812.6 337.0L813.6 337.0L814.6 338.3L815.6 338.3L816.6 335.6L817.6 335.6L818.6 335.6L819.6 335.6L820.6 335.6L821.6 334.3L822.6 335.6L823.6 334.3L824.6 333.0L825.6 333.0L826.6 334.3L827.6 333.0L828.6 331.7L829.6 331.7L830.6 331.7L831.6 331.7L832.6 331.7L833.6 331.7L834.6 333.0L835.6 333.0L836.6 330.4L837.6 330.4L838.6 329.1L839.6 329.1L840.6 330.4L841.6 330.4L842.6 330.4L843.6 330.4L844.6 327.8L845.6 327.8L846.6 327.8L847.6 327.8L848.6 329.1L849.6 329.1L850.6 325.1L851.6 325.1L852.6 326.4L853.6 326.4L854.6 326.4L855.6 325.1L856.6 326.4L857.6 326.4L858.6 326.4L859.6 326.4L860.6 327.8L861.6 327.8L862.6 326.4L863.6 326.4L864.6 325.1L865.6 323.8L866.6 322.5L867.6 322.5L868.6 323.8L869.6 322.5L870.6 323.8L871.6 323.8L872.6 322.5L873.6 322.5L874.6 325.1L875.6 325.1L876.6 325.1L877.6 326.4L878.6 329.1L879.6 331.7L880.6 333.0L881.6 334.3L882.6 334.3L883.6 335.6L884.6 339.6L885.6 340.9L886.6 338.3L887.6 338.3L888.6 338.3L889.6 338.3L890.6 338.3L891.5 337.0L892.5 338.3L893.5 338.3L894.5 337.0L895.5 335.6L896.5 337.0L897.5 337.0L898.5 339.6L899.5 339.6L900.5 339.6L901.5 339.6L902.5 337.0L903.5 337.0L904.5 338.3L905.5 338.3L906.5 337.0L907.5 337.0L908.5 337.0L909.5 337.0L910.5 337.0L911.5 337.0L912.5 334.3L913.5 334.3L914.5 335.6L915.5 335.6L916.5 334.3L917.5 334.3L918.5 335.6L919.5 334.3L920.5 331.7L921.5 331.7L922.5 333.0L923.5 333.0L924.5 335.6L925.5 334.3L926.5 333.0L927.5 333.0L928.5 334.3L929.5 334.3L930.5 333.0L931.5 333.0L932.5 333.0" stroke="#F0E442" stroke-width="2.2" fill="none" stroke-linejoin="round" stroke-linecap="butt"/>
<path d="M93.5 314.6L94.5 312.0L95.5 312.0L96.5 312.0L97.5 312.0L98.5 312.0L99.5 312.0L100.5 312.0L101.5 312.0L102.5 312.0L103.5 312.0L104.5 312.0L105.5 312.0L106.5 312.0L107.5 312.0L108.5 312.0L109.5 312.0L110.5 312.0L111.5 312.0L112.5 312.0L113.5 312.0L114.5 312.0L115.5 312.0L116.5 312.0L117.5 312.0L118.5 312.0L119.5 312.0L120.5 312.0L121.5 312.0L122.5 312.0L123.5 312.0L124.5 312.0L125.5 312.0L126.5 312.0L127.5 312.0L128.5 312.0L129.5 312.0L130.5 312.0L131.5 312.0L132.5 312.0L133.5 312.0L134.5 312.0L135.4 309.4L136.4 309.4L137.4 309.4L138.4 309.4L139.4 309.4L140.4 309.4L141.4 309.4L142.4 309.4L143.4 309.4L144.4 309.4L145.4 309.4L146.4 309.4L147.4 309.4L148.4 309.4L149.4 309.4L150.4 309.4L151.4 309.4L152.4 309.4L153.4 309.4L154.4 309.4L155.4 306.7L156.4 306.7L157.4 306.7L158.4 306.7L159.4 306.7L160.4 306.7L161.4 306.7L162.4 306.7L163.4 306.7L164.4 306.7L165.4 306.7L166.4 306.7L167.4 306.7L168.4 306.7L169.4 306.7L170.4 306.7L171.4 306.7L172.4 306.7L173.4 306.7L174.4 304.1L175.4 304.1L176.4 304.1L177.4 304.1L178.4 304.1L179.4 304.1L180.4 304.1L181.4 304.1L182.4 304.1L183.4 304.1L184.4 304.1L185.4 304.1L186.4 304.1L187.4 304.1L188.4 304.1L189.4 304.1L190.4 304.1L191.4 304.1L192.4 304.1L193.4 304.1L194.4 304.1L195.4 304.1L196.4 304.1L197.4 304.1L198.4 304.1L199.4 304.1L200.4 304.1L201.4 304.1L202.4 304.1L203.4 304.1L204.4 304.1L205.4 304.1L206.4 301.5L207.4 301.5L208.4 301.5L209.4 301.5L210.4 301.5L211.4 301.5L212.4 301.5L213.4 301.5L214.4 301.5L215.4 301.5L216.4 301.5L217.4 301.5L218.4 301.5L219.4 301.5L220.3 301.5L221.3 301.5L222.3 301.5L223.3 301.5L224.3 301.5L225.3 301.5L226.3 301.5L227.3 301.5L228.3 301.5L229.3 301.5L230.3 301.5L231.3 301.5L232.3 301.5L233.3 301.5L234.3 301.5L235.3 301.5L236.3 301.5L237.3 301.5L238.3 301.5L239.3 301.5L240.3 301.5L241.3 301.5L242.3 301.5L243.3 301.5L244.3 298.8L245.3 298.8L246.3 298.8L247.3 298.8L248.3 298.8L249.3 298.8L250.3 298.8L251.3 298.8L252.3 298.8L253.3 298.8L254.3 298.8L255.3 298.8L256.3 298.8L257.3 298.8L258.3 298.8L259.3 298.8L260.3 298.8L261.3 298.8L262.3 298.8L263.3 298.8L264.3 298.8L265.3 298.8L266.3 298.8L267.3 298.8L268.3 298.8L269.3 298.8L270.3 296.2L271.3 296.2L272.3 296.2L273.3 296.2L274.3 296.2L275.3 296.2L276.3 296.2L277.3 296.2L278.3 296.2L279.3 296.2L280.3 296.2L281.3 296.2L282.3 296.2L283.3 296.2L284.3 293.6L285.3 293.6L286.3 293.6L287.3 293.6L288.3 293.6L289.3 293.6L290.3 293.6L291.3 293.6L292.3 293.6L293.3 293.6L294.3 293.6L295.3 293.6L296.3 293.6L297.3 293.6L298.3 293.6L299.3 293.6L300.3 293.6L301.3 293.6L302.3 293.6L303.2 291.0L304.2 291.0L305.2 291.0L306.2 291.0L307.2 291.0L308.2 291.0L309.2 291.0L310.2 291.0L311.2 291.0L312.2 291.0L313.2 291.0L314.2 291.0L315.2 291.0L316.2 291.0L317.2 291.0L318.2 291.0L319.2 291.0L320.2 291.0L321.2 291.0L322.2 291.0L323.2 291.0L324.2 291.0L325.2 291.0L326.2 291.0L327.2 291.0L328.2 291.0L329.2 293.6L330.2 293.6L331.2 293.6L332.2 293.6L333.2 296.2L334.2 296.2L335.2 296.2L336.2 298.8L337.2 298.8L338.2 298.8L339.2 298.8L340.2 301.5L341.2 301.5L342.2 301.5L343.2 301.5L344.2 301.5L345.2 304.1L346.2 304.1L347.2 304.1L348.2 304.1L349.2 304.1L350.2 306.7L351.2 306.7L352.2 309.4L353.2 309.4L354.2 309.4L355.2 312.0L356.2 312.0L357.2 312.0L358.2 312.0L359.2 314.6L360.2 314.6L361.2 314.6L362.2 314.6L363.2 317.2L364.2 317.2L365.2 317.2L366.2 317.2L367.2 317.2L368.2 317.2L369.2 317.2L370.2 317.2L371.2 317.2L372.2 317.2L373.2 317.2L374.2 317.2L375.2 317.2L376.2 317.2L377.2 317.2L378.2 317.2L379.2 317.2L380.2 317.2L381.2 317.2L382.2 317.2L383.2 317.2L384.2 317.2L385.2 317.2L386.2 317.2L387.2 317.2L388.1 317.2L389.1 317.2L390.1 317.2L391.1 317.2L392.1 314.6L393.1 314.6L394.1 314.6L395.1 314.6L396.1 314.6L397.1 314.6L398.1 314.6L399.1 314.6L400.1 314.6L401.1 314.6L402.1 314.6L403.1 314.6L404.1 314.6L405.1 314.6L406.1 314.6L407.1 314.6L408.1 314.6L409.1 314.6L410.1 314.6L411.1 314.6L412.1 314.6L413.1 314.6L414.1 314.6L415.1 314.6L416.1 314.6L417.1 314.6L418.1 314.6L419.1 314.6L420.1 314.6L421.1 314.6L422.1 314.6L423.1 314.6L424.1 314.6L425.1 314.6L426.1 314.6L427.1 314.6L428.1 317.2L429.1 317.2L430.1 317.2L431.1 317.2L432.1 317.2L433.1 317.2L434.1 317.2L435.1 317.2L436.1 317.2L437.1 319.9L438.1 319.9L439.1 319.9L440.1 319.9L441.1 319.9L442.1 319.9L443.1 319.9L444.1 319.9L445.1 319.9L446.1 319.9L447.1 319.9L448.1 319.9L449.1 319.9L450.1 319.9L451.1 322.5L452.1 322.5L453.1 322.5L454.1 322.5L455.1 322.5L456.1 322.5L457.1 322.5L458.1 322.5L459.1 322.5L460.1 325.1L461.1 325.1L462.1 325.1L463.1 325.1L464.1 325.1L465.1 325.1L466.1 325.1L467.1 325.1L468.1 325.1L469.1 325.1L470.1 325.1L471.1 325.1L472.0 325.1L473.0 325.1L474.0 325.1L475.0 325.1L476.0 325.1L477.0 325.1L478.0 325.1L479.0 325.1L480.0 325.1L481.0 325.1L482.0 327.8L483.0 327.8L484.0 327.8L485.0 327.8L486.0 327.8L487.0 327.8L488.0 327.8L489.0 327.8L490.0 330.4L491.0 330.4L492.0 330.4L493.0 330.4L494.0 330.4L495.0 330.4L496.0 330.4L497.0 330.4L498.0 330.4L499.0 333.0L500.0 333.0L501.0 333.0L502.0 333.0L503.0 333.0L504.0 333.0L505.0 333.0L506.0 333.0L507.0 333.0L508.0 333.0L509.0 333.0L510.0 333.0L511.0 335.6L512.0 335.6L513.0 335.6L514.0 335.6L515.0 335.6L516.0 335.6L517.0 335.6L518.0 335.6L519.0 335.6L520.0 335.6L521.0 335.6L522.0 335.6L523.0 335.6L524.0 338.3L525.0 338.3L526.0 338.3L527.0 338.3L528.0 338.3L529.0 338.3L530.0 338.3L531.0 338.3L532.0 338.3L533.0 338.3L534.0 340.9L535.0 340.9L536.0 340.9L537.0 340.9L538.0 340.9L539.0 340.9L540.0 340.9L541.0 343.5L542.0 343.5L543.0 343.5L544.0 343.5L545.0 343.5L546.0 343.5L547.0 346.2L548.0 346.2L549.0 346.2L550.0 346.2L551.0 346.2L552.0 346.2L553.0 346.2L554.0 346.2L555.0 346.2L555.9 346.2L556.9 346.2L557.9 346.2L558.9 346.2L559.9 346.2L560.9 346.2L561.9 346.2L562.9 346.2L563.9 346.2L564.9 348.8L565.9 348.8L566.9 348.8L567.9 348.8L568.9 348.8L569.9 348.8L570.9 348.8L571.9 348.8L572.9 348.8L573.9 348.8L574.9 348.8L575.9 348.8L576.9 348.8L577.9 348.8L578.9 348.8L579.9 348.8L580.9 348.8L581.9 348.8L582.9 348.8L583.9 348.8L584.9 348.8L585.9 348.8L586.9 351.4L587.9 351.4L588.9 351.4L589.9 351.4L590.9 351.4L591.9 351.4L592.9 354.0L593.9 354.0L594.9 354.0L595.9 354.0L596.9 354.0L597.9 354.0L598.9 354.0L599.9 354.0L600.9 354.0L601.9 354.0L602.9 354.0L603.9 354.0L604.9 354.0L605.9 354.0L606.9 354.0L607.9 354.0L608.9 354.0L609.9 354.0L610.9 354.0L611.9 354.0L612.9 354.0L613.9 354.0L614.9 354.0L615.9 356.7L616.9 356.7L617.9 356.7L618.9 356.7L619.9 356.7L620.9 356.7L621.9 356.7L622.9 356.7L623.9 356.7L624.9 356.7L625.9 356.7L626.9 356.7L627.9 356.7L628.9 356.7L629.9 356.7L630.9 356.7L631.9 356.7L632.9 356.7L633.9 356.7L634.9 356.7L635.9 356.7L636.9 356.7L637.9 356.7L638.9 356.7L639.8 356.7L640.8 356.7L641.8 356.7L642.8 359.3L643.8 359.3L644.8 359.3L645.8 359.3L646.8 359.3L647.8 359.3L648.8 359.3L649.8 359.3L650.8 359.3L651.8 359.3L652.8 359.3L653.8 359.3L654.8 361.9L655.8 361.9L656.8 361.9L657.8 361.9L658.8 361.9L659.8 361.9L660.8 361.9L661.8 361.9L662.8 364.6L663.8 364.6L664.8 364.6L665.8 364.6L666.8 364.6L667.8 364.6L668.8 364.6L669.8 364.6L670.8 364.6L671.8 364.6L672.8 364.6L673.8 364.6L674.8 364.6L675.8 364.6L676.8 364.6L677.8 364.6L678.8 364.6L679.8 364.6L680.8 367.2L681.8 367.2L682.8 367.2L683.8 367.2L684.8 367.2L685.8 367.2L686.8 367.2L687.8 367.2L688.8 367.2L689.8 367.2L690.8 367.2L691.8 367.2L692.8 367.2L693.8 367.2L694.8 367.2L695.8 367.2L696.8 367.2L697.8 367.2L698.8 367.2L699.8 367.2L700.8 367.2L701.8 367.2L702.8 367.2L703.8 367.2L704.8 367.2L705.8 367.2L706.8 367.2L707.8 367.2L708.8 367.2L709.8 367.2L710.8 367.2L711.8 367.2L712.8 367.2L713.8 367.2L714.8 367.2L715.8 367.2L716.8 367.2L717.8 367.2L718.8 367.2L719.8 367.2L720.8 367.2L721.8 369.8L722.8 369.8L723.7 369.8L724.7 369.8L725.7 369.8L726.7 369.8L727.7 369.8L728.7 369.8L729.7 369.8L730.7 369.8L731.7 369.8L732.7 369.8L733.7 369.8L734.7 369.8L735.7 369.8L736.7 369.8L737.7 369.8L738.7 369.8L739.7 369.8L740.7 369.8L741.7 369.8L742.7 369.8L743.7 369.8L744.7 369.8L745.7 369.8L746.7 369.8L747.7 369.8L748.7 369.8L749.7 369.8L750.7 369.8L751.7 369.8L752.7 367.2L753.7 367.2L754.7 367.2L755.7 367.2L756.7 367.2L757.7 364.6L758.7 364.6L759.7 364.6L760.7 364.6L761.7 364.6L762.7 364.6L763.7 364.6L764.7 364.6L765.7 364.6L766.7 364.6L767.7 364.6L768.7 364.6L769.7 364.6L770.7 364.6L771.7 364.6L772.7 364.6L773.7 364.6L774.7 364.6L775.7 364.6L776.7 361.9L777.7 361.9L778.7 361.9L779.7 361.9L780.7 361.9L781.7 361.9L782.7 361.9L783.7 361.9L784.7 361.9L785.7 361.9L786.7 361.9L787.7 361.9L788.7 364.6L789.7 364.6L790.7 364.6L791.7 364.6L792.7 364.6L793.7 369.8L794.7 372.4L795.7 377.7L796.7 377.7L797.7 377.7L798.7 380.3L799.7 380.3L800.7 380.3L801.7 377.7L802.7 377.7L803.7 377.7L804.7 377.7L805.7 377.7L806.6 375.1L807.6 375.1L808.6 375.1L809.6 372.4L810.6 372.4L811.6 369.8L812.6 369.8L813.6 369.8L814.6 367.2L815.6 367.2L816.6 367.2L817.6 364.6L818.6 364.6L819.6 364.6L820.6 364.6L821.6 361.9L822.6 361.9L823.6 361.9L824.6 359.3L825.6 359.3L826.6 359.3L827.6 356.7L828.6 356.7L829.6 356.7L830.6 356.7L831.6 356.7L832.6 356.7L833.6 356.7L834.6 354.0L835.6 354.0L836.6 354.0L837.6 354.0L838.6 354.0L839.6 354.0L840.6 354.0L841.6 354.0L842.6 354.0L843.6 354.0L844.6 354.0L845.6 354.0L846.6 354.0L847.6 354.0L848.6 354.0L849.6 354.0L850.6 354.0L851.6 354.0L852.6 354.0L853.6 354.0L854.6 354.0L855.6 351.4L856.6 351.4L857.6 351.4L858.6 351.4L859.6 351.4L860.6 351.4L861.6 351.4L862.6 351.4L863.6 351.4L864.6 351.4L865.6 351.4L866.6 351.4L867.6 351.4L868.6 351.4L869.6 351.4L870.6 351.4L871.6 351.4L872.6 351.4L873.6 351.4L874.6 351.4L875.6 351.4L876.6 351.4L877.6 351.4L878.6 351.4L879.6 351.4L880.6 351.4L881.6 351.4L882.6 351.4L883.6 351.4L884.6 351.4L885.6 351.4L886.6 351.4L887.6 351.4L888.6 351.4L889.6 351.4L890.6 354.0L891.5 354.0L892.5 354.0L893.5 354.0L894.5 354.0L895.5 354.0L896.5 354.0L897.5 354.0L898.5 354.0L899.5 354.0L900.5 354.0L901.5 354.0L902.5 354.0L903.5 354.0L904.5 354.0L905.5 354.0L906.5 354.0L907.5 351.4L908.5 351.4L909.5 351.4L910.5 351.4L911.5 351.4L912.5 351.4L913.5 351.4L914.5 351.4L915.5 351.4L916.5 351.4L917.5 351.4L918.5 351.4L919.5 351.4L920.5 351.4L921.5 351.4L922.5 351.4L923.5 351.4L924.5 351.4L925.5 351.4L926.5 348.8L927.5 348.8L928.5 348.8L929.5 348.8L930.5 348.8L931.5 348.8L932.5 348.8" stroke="#0072B2" stroke-width="2.2" fill="none" stroke-linejoin="round" stroke-linecap="butt"/>
<path d="M93.5 333.0L94.5 333.0L95.5 333.0L96.5 333.0L97.5 333.0L98.5 333.0L99.5 333.0L100.5 333.0L101.5 333.0L102.5 333.0L103.5 333.0L104.5 333.0L105.5 330.4L106.5 330.4L107.5 330.4L108.5 330.4L109.5 330.4L110.5 330.4L111.5 330.4L112.5 330.4L113.5 330.4L114.5 330.4L115.5 330.4L116.5 330.4L117.5 330.4L118.5 330.4L119.5 330.4L120.5 330.4L121.5 330.4L122.5 330.4L123.5 330.4L124.5 330.4L125.5 330.4L126.5 330.4L127.5 330.4L128.5 330.4L129.5 330.4L130.5 330.4L131.5 330.4L132.5 330.4L133.5 330.4L134.5 330.4L135.4 330.4L136.4 330.4L137.4 330.4L138.4 330.4L139.4 330.4L140.4 330.4L141.4 330.4L142.4 330.4L143.4 330.4L144.4 330.4L145.4 330.4L146.4 330.4L147.4 330.4L148.4 330.4L149.4 330.4L150.4 330.4L151.4 330.4L152.4 330.4L153.4 330.4L154.4 330.4L155.4 330.4L156.4 330.4L157.4 330.4L158.4 330.4L159.4 330.4L160.4 330.4L161.4 330.4L162.4 330.4L163.4 330.4L164.4 330.4L165.4 330.4L166.4 330.4L167.4 330.4L168.4 330.4L169.4 327.8L170.4 327.8L171.4 327.8L172.4 327.8L173.4 327.8L174.4 327.8L175.4 327.8L176.4 327.8L177.4 327.8L178.4 327.8L179.4 327.8L180.4 327.8L181.4 327.8L182.4 327.8L183.4 327.8L184.4 327.8L185.4 327.8L186.4 327.8L187.4 327.8L188.4 327.8L189.4 327.8L190.4 327.8L191.4 327.8L192.4 327.8L193.4 327.8L194.4 327.8L195.4 327.8L196.4 327.8L197.4 327.8L198.4 327.8L199.4 327.8L200.4 327.8L201.4 327.8L202.4 327.8L203.4 327.8L204.4 327.8L205.4 327.8L206.4 327.8L207.4 327.8L208.4 327.8L209.4 327.8L210.4 327.8L211.4 327.8L212.4 325.1L213.4 325.1L214.4 325.1L215.4 325.1L216.4 325.1L217.4 325.1L218.4 325.1L219.4 325.1L220.3 325.1L221.3 325.1L222.3 325.1L223.3 325.1L224.3 325.1L225.3 325.1L226.3 325.1L227.3 325.1L228.3 325.1L229.3 325.1L230.3 325.1L231.3 325.1L232.3 325.1L233.3 325.1L234.3 325.1L235.3 325.1L236.3 325.1L237.3 325.1L238.3 325.1L239.3 325.1L240.3 325.1L241.3 325.1L242.3 325.1L243.3 325.1L244.3 325.1L245.3 325.1L246.3 325.1L247.3 325.1L248.3 325.1L249.3 325.1L250.3 325.1L251.3 325.1L252.3 325.1L253.3 325.1L254.3 325.1L255.3 325.1L256.3 325.1L257.3 325.1L258.3 325.1L259.3 325.1L260.3 325.1L261.3 325.1L262.3 325.1L263.3 325.1L264.3 325.1L265.3 325.1L266.3 325.1L267.3 325.1L268.3 325.1L269.3 325.1L270.3 322.5L271.3 322.5L272.3 322.5L273.3 322.5L274.3 322.5L275.3 322.5L276.3 322.5L277.3 322.5L278.3 322.5L279.3 322.5L280.3 322.5L281.3 322.5L282.3 322.5L283.3 322.5L284.3 322.5L285.3 322.5L286.3 322.5L287.3 322.5L288.3 322.5L289.3 322.5L290.3 322.5L291.3 322.5L292.3 322.5L293.3 322.5L294.3 322.5L295.3 322.5L296.3 322.5L297.3 322.5L298.3 322.5L299.3 322.5L300.3 322.5L301.3 322.5L302.3 322.5L303.2 322.5L304.2 322.5L305.2 322.5L306.2 322.5L307.2 322.5L308.2 322.5L309.2 322.5L310.2 322.5L311.2 322.5L312.2 322.5L313.2 322.5L314.2 322.5L315.2 322.5L316.2 322.5L317.2 322.5L318.2 322.5L319.2 322.5L320.2 322.5L321.2 322.5L322.2 322.5L323.2 322.5L324.2 322.5L325.2 322.5L326.2 322.5L327.2 322.5L328.2 322.5L329.2 322.5L330.2 322.5L331.2 322.5L332.2 322.5L333.2 322.5L334.2 322.5L335.2 322.5L336.2 322.5L337.2 322.5L338.2 322.5L339.2 322.5L340.2 322.5L341.2 325.1L342.2 325.1L343.2 325.1L344.2 325.1L345.2 325.1L346.2 325.1L347.2 325.1L348.2 325.1L349.2 325.1L350.2 325.1L351.2 325.1L352.2 325.1L353.2 325.1L354.2 325.1L355.2 325.1L356.2 327.8L357.2 327.8L358.2 327.8L359.2 327.8L360.2 327.8L361.2 327.8L362.2 327.8L363.2 327.8L364.2 327.8L365.2 327.8L366.2 327.8L367.2 327.8L368.2 330.4L369.2 330.4L370.2 330.4L371.2 330.4L372.2 330.4L373.2 330.4L374.2 330.4L375.2 330.4L376.2 330.4L377.2 330.4L378.2 330.4L379.2 330.4L380.2 330.4L381.2 330.4L382.2 330.4L383.2 330.4L384.2 330.4L385.2 330.4L386.2 330.4L387.2 330.4L388.1 330.4L389.1 330.4L390.1 330.4L391.1 330.4L392.1 330.4L393.1 330.4L394.1 330.4L395.1 330.4L396.1 330.4L397.1 330.4L398.1 330.4L399.1 330.4L400.1 330.4L401.1 330.4L402.1 330.4L403.1 330.4L404.1 330.4L405.1 330.4L406.1 330.4L407.1 330.4L408.1 330.4L409.1 330.4L410.1 330.4L411.1 330.4L412.1 330.4L413.1 330.4L414.1 330.4L415.1 330.4L416.1 330.4L417.1 330.4L418.1 330.4L419.1 330.4L420.1 330.4L421.1 330.4L422.1 330.4L423.1 330.4L424.1 330.4L425.1 330.4L426.1 330.4L427.1 330.4L428.1 330.4L429.1 330.4L430.1 330.4L431.1 333.0L432.1 333.0L433.1 333.0L434.1 333.0L435.1 333.0L436.1 333.0L437.1 333.0L438.1 333.0L439.1 333.0L440.1 333.0L441.1 333.0L442.1 333.0L443.1 333.0L444.1 333.0L445.1 333.0L446.1 333.0L447.1 333.0L448.1 333.0L449.1 333.0L450.1 333.0L451.1 333.0L452.1 333.0L453.1 333.0L454.1 333.0L455.1 333.0L456.1 333.0L457.1 333.0L458.1 333.0L459.1 333.0L460.1 333.0L461.1 333.0L462.1 333.0L463.1 333.0L464.1 333.0L465.1 333.0L466.1 333.0L467.1 333.0L468.1 333.0L469.1 333.0L470.1 333.0L471.1 333.0L472.0 333.0L473.0 333.0L474.0 333.0L475.0 333.0L476.0 333.0L477.0 333.0L478.0 333.0L479.0 333.0L480.0 333.0L481.0 333.0L482.0 333.0L483.0 333.0L484.0 333.0L485.0 333.0L486.0 333.0L487.0 333.0L488.0 333.0L489.0 333.0L490.0 335.6L491.0 335.6L492.0 335.6L493.0 335.6L494.0 335.6L495.0 335.6L496.0 335.6L497.0 335.6L498.0 335.6L499.0 335.6L500.0 335.6L501.0 335.6L502.0 335.6L503.0 335.6L504.0 335.6L505.0 335.6L506.0 335.6L507.0 335.6L508.0 338.3L509.0 338.3L510.0 338.3L511.0 338.3L512.0 338.3L513.0 338.3L514.0 338.3L515.0 338.3L516.0 338.3L517.0 338.3L518.0 338.3L519.0 338.3L520.0 338.3L521.0 338.3L522.0 338.3L523.0 338.3L524.0 338.3L525.0 338.3L526.0 338.3L527.0 338.3L528.0 338.3L529.0 338.3L530.0 338.3L531.0 338.3L532.0 338.3L533.0 338.3L534.0 338.3L535.0 340.9L536.0 340.9L537.0 340.9L538.0 340.9L539.0 340.9L540.0 340.9L541.0 340.9L542.0 340.9L543.0 340.9L544.0 340.9L545.0 340.9L546.0 340.9L547.0 340.9L548.0 340.9L549.0 340.9L550.0 340.9L551.0 340.9L552.0 343.5L553.0 343.5L554.0 343.5L555.0 343.5L555.9 343.5L556.9 343.5L557.9 343.5L558.9 343.5L559.9 343.5L560.9 343.5L561.9 343.5L562.9 343.5L563.9 343.5L564.9 343.5L565.9 343.5L566.9 343.5L567.9 343.5L568.9 343.5L569.9 343.5L570.9 343.5L571.9 343.5L572.9 343.5L573.9 343.5L574.9 343.5L575.9 343.5L576.9 346.2L577.9 346.2L578.9 346.2L579.9 346.2L580.9 346.2L581.9 346.2L582.9 346.2L583.9 346.2L584.9 346.2L585.9 346.2L586.9 346.2L587.9 346.2L588.9 346.2L589.9 346.2L590.9 346.2L591.9 346.2L592.9 346.2L593.9 346.2L594.9 346.2L595.9 346.2L596.9 346.2L597.9 346.2L598.9 346.2L599.9 346.2L600.9 346.2L601.9 346.2L602.9 346.2L603.9 346.2L604.9 346.2L605.9 346.2L606.9 346.2L607.9 346.2L608.9 346.2L609.9 346.2L610.9 346.2L611.9 346.2L612.9 346.2L613.9 348.8L614.9 348.8L615.9 348.8L616.9 348.8L617.9 348.8L618.9 348.8L619.9 348.8L620.9 348.8L621.9 348.8L622.9 348.8L623.9 348.8L624.9 348.8L625.9 348.8L626.9 348.8L627.9 348.8L628.9 348.8L629.9 348.8L630.9 348.8L631.9 348.8L632.9 348.8L633.9 348.8L634.9 348.8L635.9 348.8L636.9 348.8L637.9 348.8L638.9 348.8L639.8 348.8L640.8 348.8L641.8 348.8L642.8 348.8L643.8 348.8L644.8 348.8L645.8 348.8L646.8 348.8L647.8 348.8L648.8 348.8L649.8 348.8L650.8 348.8L651.8 348.8L652.8 348.8L653.8 348.8L654.8 348.8L655.8 348.8L656.8 348.8L657.8 348.8L658.8 348.8L659.8 348.8L660.8 348.8L661.8 348.8L662.8 348.8L663.8 348.8L664.8 351.4L665.8 351.4L666.8 351.4L667.8 351.4L668.8 351.4L669.8 351.4L670.8 351.4L671.8 351.4L672.8 351.4L673.8 351.4L674.8 351.4L675.8 351.4L676.8 351.4L677.8 351.4L678.8 351.4L679.8 351.4L680.8 351.4L681.8 351.4L682.8 351.4L683.8 351.4L684.8 351.4L685.8 351.4L686.8 351.4L687.8 351.4L688.8 351.4L689.8 351.4L690.8 351.4L691.8 351.4L692.8 351.4L693.8 351.4L694.8 351.4L695.8 351.4L696.8 351.4L697.8 351.4L698.8 351.4L699.8 354.0L700.8 354.0L701.8 354.0L702.8 354.0L703.8 354.0L704.8 354.0L705.8 354.0L706.8 354.0L707.8 354.0L708.8 354.0L709.8 354.0L710.8 354.0L711.8 354.0L712.8 354.0L713.8 354.0L714.8 354.0L715.8 354.0L716.8 354.0L717.8 354.0L718.8 354.0L719.8 356.7L720.8 356.7L721.8 356.7L722.8 356.7L723.7 356.7L724.7 356.7L725.7 356.7L726.7 356.7L727.7 356.7L728.7 356.7L729.7 356.7L730.7 356.7L731.7 356.7L732.7 356.7L733.7 356.7L734.7 356.7L735.7 356.7L736.7 356.7L737.7 356.7L738.7 356.7L739.7 356.7L740.7 356.7L741.7 356.7L742.7 356.7L743.7 356.7L744.7 356.7L745.7 356.7L746.7 356.7L747.7 356.7L748.7 356.7L749.7 356.7L750.7 356.7L751.7 356.7L752.7 356.7L753.7 356.7L754.7 356.7L755.7 356.7L756.7 356.7L757.7 356.7L758.7 356.7L759.7 356.7L760.7 356.7L761.7 356.7L762.7 356.7L763.7 356.7L764.7 356.7L765.7 356.7L766.7 356.7L767.7 356.7L768.7 356.7L769.7 356.7L770.7 356.7L771.7 356.7L772.7 356.7L773.7 356.7L774.7 356.7L775.7 356.7L776.7 356.7L777.7 356.7L778.7 356.7L779.7 356.7L780.7 356.7L781.7 356.7L782.7 356.7L783.7 356.7L784.7 356.7L785.7 356.7L786.7 356.7L787.7 356.7L788.7 356.7L789.7 356.7L790.7 356.7L791.7 356.7L792.7 356.7L793.7 356.7L794.7 356.7L795.7 356.7L796.7 356.7L797.7 356.7L798.7 356.7L799.7 356.7L800.7 356.7L801.7 356.7L802.7 356.7L803.7 356.7L804.7 356.7L805.7 356.7L806.6 356.7L807.6 356.7L808.6 356.7L809.6 356.7L810.6 356.7L811.6 356.7L812.6 356.7L813.6 356.7L814.6 356.7L815.6 356.7L816.6 356.7L817.6 356.7L818.6 356.7L819.6 356.7L820.6 356.7L821.6 356.7L822.6 356.7L823.6 356.7L824.6 356.7L825.6 356.7L826.6 356.7L827.6 356.7L828.6 356.7L829.6 356.7L830.6 356.7L831.6 356.7L832.6 356.7L833.6 356.7L834.6 356.7L835.6 356.7L836.6 356.7L837.6 356.7L838.6 356.7L839.6 356.7L840.6 356.7L841.6 356.7L842.6 356.7L843.6 356.7L844.6 356.7L845.6 356.7L846.6 356.7L847.6 356.7L848.6 356.7L849.6 356.7L850.6 356.7L851.6 356.7L852.6 356.7L853.6 356.7L854.6 356.7L855.6 356.7L856.6 356.7L857.6 356.7L858.6 356.7L859.6 356.7L860.6 356.7L861.6 356.7L862.6 356.7L863.6 356.7L864.6 356.7L865.6 356.7L866.6 356.7L867.6 356.7L868.6 356.7L869.6 356.7L870.6 356.7L871.6 356.7L872.6 356.7L873.6 356.7L874.6 359.3L875.6 359.3L876.6 359.3L877.6 359.3L878.6 359.3L879.6 359.3L880.6 359.3L881.6 359.3L882.6 359.3L883.6 359.3L884.6 359.3L885.6 359.3L886.6 359.3L887.6 359.3L888.6 359.3L889.6 359.3L890.6 359.3L891.5 359.3L892.5 359.3L893.5 359.3L894.5 359.3L895.5 359.3L896.5 359.3L897.5 359.3L898.5 359.3L899.5 359.3L900.5 359.3L901.5 359.3L902.5 359.3L903.5 359.3L904.5 359.3L905.5 359.3L906.5 359.3L907.5 359.3L908.5 359.3L909.5 359.3L910.5 359.3L911.5 359.3L912.5 359.3L913.5 359.3L914.5 359.3L915.5 359.3L916.5 359.3L917.5 359.3L918.5 359.3L919.5 359.3L920.5 359.3L921.5 359.3L922.5 359.3L923.5 359.3L924.5 359.3L925.5 359.3L926.5 359.3L927.5 359.3L928.5 359.3L929.5 359.3L930.5 359.3L931.5 359.3L932.5 359.3" stroke="#000000" stroke-width="2.2" fill="none" stroke-linejoin="round" stroke-linecap="butt"/>
<path d="M93.5 246.3L94.4 246.3L95.2 246.3L96.1 246.3L97.0 251.5L97.9 255.5L98.7 254.2L99.6 256.8L100.5 256.8L101.4 256.8L102.2 256.8L103.1 258.1L104.0 258.1L104.9 258.1L105.7 258.1L106.6 258.1L107.5 258.1L108.4 259.4L109.2 260.7L110.1 260.7L111.0 260.7L111.9 262.0L112.7 262.0L113.6 264.7L114.5 259.4L115.3 262.0L116.2 260.7L117.1 263.4L118.0 264.7L118.8 262.0L119.7 263.4L120.6 262.0L121.5 263.4L122.3 262.0L123.2 263.4L124.1 263.4L125.0 262.0L125.8 263.4L126.7 263.4L127.6 262.0L128.5 263.4L129.3 263.4L130.2 263.4L131.1 263.4L132.0 263.4L132.8 260.7L133.7 262.0L134.6 264.7L135.5 266.0L136.3 263.4L137.2 264.7L138.1 266.0L138.9 263.4L139.8 263.4L140.7 262.0L141.6 260.7L142.4 259.4L143.3 262.0L144.2 262.0L145.1 260.7L145.9 259.4L146.8 260.7L147.7 260.7L148.6 263.4L149.4 259.4L150.3 260.7L151.2 258.1L152.1 258.1L152.9 258.1L153.8 259.4L154.7 259.4L155.6 262.0L156.4 259.4L157.3 260.7L158.2 259.4L159.0 260.7L159.9 260.7L160.8 260.7L161.7 258.1L162.5 260.7L163.4 260.7L164.3 260.7L165.2 260.7L166.0 259.4L166.9 258.1L167.8 259.4L168.7 259.4L169.5 260.7L170.4 258.1L171.3 259.4L172.2 258.1L173.0 259.4L173.9 259.4L174.8 258.1L175.7 258.1L176.5 259.4L177.4 258.1L178.3 258.1L179.1 259.4L180.0 259.4L180.9 258.1L181.8 259.4L182.6 258.1L183.5 258.1L184.4 258.1L185.3 259.4L186.1 256.8L187.0 256.8L187.9 258.1L188.8 258.1L189.6 258.1L190.5 258.1L191.4 258.1L192.3 258.1L193.1 258.1L194.0 258.1L194.9 258.1L195.8 256.8L196.6 258.1L197.5 258.1L198.4 256.8L199.2 256.8L200.1 256.8L201.0 255.5L201.9 256.8L202.7 256.8L203.6 256.8L204.5 256.8L205.4 255.5L206.2 255.5L207.1 255.5L208.0 255.5L208.9 255.5L209.7 255.5L210.6 256.8L211.5 256.8L212.4 255.5L213.2 254.2L214.1 255.5L215.0 254.2L215.9 255.5L216.7 254.2L217.6 254.2L218.5 254.2L219.4 252.8L220.2 254.2L221.1 252.8L222.0 252.8L222.8 252.8L223.7 252.8L224.6 252.8L225.5 252.8L226.3 252.8L227.2 252.8L228.1 251.5L229.0 251.5L229.8 251.5L230.7 252.8L231.6 251.5L232.5 251.5L233.3 250.2L234.2 251.5L235.1 251.5L236.0 250.2L236.8 250.2L237.7 250.2L238.6 248.9L239.5 248.9L240.3 248.9L241.2 248.9L242.1 248.9L242.9 248.9L243.8 247.6L244.7 247.6L245.6 247.6L246.4 246.3L247.3 247.6L248.2 247.6L249.1 246.3L249.9 247.6L250.8 246.3L251.7 246.3L252.6 245.0L253.4 245.0L254.3 245.0L255.2 245.0L256.1 245.0L256.9 245.0L257.8 245.0L258.7 245.0L259.6 245.0L260.4 245.0L261.3 243.6L262.2 243.6L263.0 245.0L263.9 243.6L264.8 243.6L265.7 243.6L266.5 243.6L267.4 243.6L268.3 243.6L269.2 242.3L270.0 242.3L270.9 243.6L271.8 242.3L272.7 242.3L273.5 242.3L274.4 242.3L275.3 242.3L276.2 241.0L277.0 242.3L277.9 241.0L278.8 241.0L279.7 242.3L280.5 241.0L281.4 241.0L282.3 241.0L283.1 241.0L284.0 241.0L284.9 241.0L285.8 241.0L286.6 242.3L287.5 241.0L288.4 241.0L289.3 239.7L290.1 239.7L291.0 239.7L291.9 238.4L292.8 239.7L293.6 238.4L294.5 238.4L295.4 238.4L296.3 239.7L297.1 238.4L298.0 238.4L298.9 238.4L299.8 238.4L300.6 238.4L301.5 238.4L302.4 237.1L303.2 238.4L304.1 237.1L305.0 237.1L305.9 237.1L306.7 237.1L307.6 237.1L308.5 237.1L309.4 237.1L310.2 238.4L311.1 237.1L312.0 237.1L312.9 237.1L313.7 237.1L314.6 237.1L315.5 237.1L316.4 235.8L317.2 235.8L318.1 237.1L319.0 238.4L319.9 239.7L320.7 239.7L321.6 245.0L322.5 248.9L323.4 254.2L324.2 258.1L325.1 262.0L326.0 266.0L326.8 268.6L327.7 272.6L328.6 276.5L329.5 277.8L330.3 281.8L331.2 283.1L332.1 283.1L333.0 283.1L333.8 284.4L334.7 283.1L335.6 284.4L336.5 284.4L337.3 284.4L338.2 284.4L339.1 287.0L340.0 288.3L340.8 288.3L341.7 289.6L342.6 291.0L343.5 291.0L344.3 293.6L345.2 294.9L346.1 296.2L346.9 298.8L347.8 297.5L348.7 300.2L349.6 298.8L350.4 302.8L351.3 305.4L352.2 306.7L353.1 308.0L353.9 308.0L354.8 309.4L355.7 309.4L356.6 309.4L357.4 309.4L358.3 309.4L359.2 309.4L360.1 309.4L360.9 309.4L361.8 309.4L362.7 308.0L363.6 306.7L364.4 306.7L365.3 306.7L366.2 305.4L367.0 306.7L367.9 305.4L368.8 305.4L369.7 305.4L370.5 304.1L371.4 304.1L372.3 304.1L373.2 302.8L374.0 301.5L374.9 300.2L375.8 300.2L376.7 298.8L377.5 297.5L378.4 297.5L379.3 297.5L380.2 294.9L381.0 294.9L381.9 294.9L382.8 293.6L383.7 294.9L384.5 292.3L385.4 292.3L386.3 291.0L387.2 288.3L388.0 288.3L388.9 288.3L389.8 287.0L390.6 287.0L391.5 284.4L392.4 287.0L393.3 285.7L394.1 285.7L395.0 284.4L395.9 284.4L396.8 284.4L397.6 281.8L398.5 283.1L399.4 283.1L400.3 284.4L401.1 284.4L402.0 284.4L402.9 283.1L403.8 284.4L404.6 284.4L405.5 281.8L406.4 283.1L407.3 283.1L408.1 284.4L409.0 285.7L409.9 284.4L410.7 284.4L411.6 287.0L412.5 287.0L413.4 285.7L414.2 288.3L415.1 288.3L416.0 287.0L416.9 291.0L417.7 291.0L418.6 293.6L419.5 294.9L420.4 292.3L421.2 293.6L422.1 296.2L423.0 296.2L423.9 297.5L424.7 300.2L425.6 300.2L426.5 300.2L427.4 301.5L428.2 301.5L429.1 304.1L430.0 305.4L430.8 304.1L431.7 305.4L432.6 305.4L433.5 308.0L434.3 309.4L435.2 310.7L436.1 309.4L437.0 312.0L437.8 312.0L438.7 310.7L439.6 314.6L440.5 315.9L441.3 314.6L442.2 315.9L443.1 315.9L444.0 318.6L444.8 315.9L445.7 317.2L446.6 319.9L447.5 318.6L448.3 318.6L449.2 317.2L450.1 319.9L450.9 318.6L451.8 321.2L452.7 319.9L453.6 321.2L454.4 319.9L455.3 322.5L456.2 323.8L457.1 323.8L457.9 321.2L458.8 323.8L459.7 326.4L460.6 325.1L461.4 323.8L462.3 323.8L463.2 325.1L464.1 327.8L464.9 326.4L465.8 329.1L466.7 329.1L467.6 326.4L468.4 326.4L469.3 327.8L470.2 330.4L471.1 330.4L471.9 329.1L472.8 327.8L473.7 330.4L474.5 331.7L475.4 331.7L476.3 331.7L477.2 331.7L478.0 331.7L478.9 330.4L479.8 334.3L480.7 337.0L481.5 334.3L482.4 338.3L483.3 338.3L484.2 339.6L485.0 339.6L485.9 339.6L486.8 340.9L487.7 342.2L488.5 342.2L489.4 344.8L490.3 344.8L491.2 344.8L492.0 344.8L492.9 347.5L493.8 347.5L494.6 343.5L495.5 344.8L496.4 344.8L497.3 344.8L498.1 346.2L499.0 346.2L499.9 347.5L500.8 350.1L501.6 350.1L502.5 350.1L503.4 350.1L504.3 350.1L505.1 351.4L506.0 351.4L506.9 352.7L507.8 347.5L508.6 350.1L509.5 355.4L510.4 350.1L511.3 352.7L512.1 352.7L513.0 352.7L513.9 351.4L514.7 352.7L515.6 352.7L516.5 354.0L517.4 350.1L518.2 354.0L519.1 355.4L520.0 356.7L520.9 354.0L521.7 355.4L522.6 355.4L523.5 354.0L524.4 359.3L525.2 359.3L526.1 361.9L527.0 363.2L527.9 365.9L528.7 365.9L529.6 368.5L530.5 369.8L531.4 368.5L532.2 371.1L533.1 365.9L534.0 367.2L534.8 369.8L535.7 368.5L536.6 371.1L537.5 368.5L538.3 372.4L539.2 369.8L540.1 369.8L541.0 369.8L541.8 368.5L542.7 371.1L543.6 369.8L544.5 369.8L545.3 369.8L546.2 369.8L547.1 367.2L548.0 369.8L548.8 369.8L549.7 372.4L550.6 371.1L551.5 372.4L552.3 368.5L553.2 371.1L554.1 372.4L555.0 371.1L555.8 369.8L556.7 373.8L557.6 372.4L558.4 368.5L559.3 372.4L560.2 372.4L561.1 368.5L561.9 373.8L562.8 375.1L563.7 375.1L564.6 373.8L565.4 372.4L566.3 375.1L567.2 377.7L568.1 372.4L568.9 373.8L569.8 375.1L570.7 375.1L571.6 372.4L572.4 373.8L573.3 376.4L574.2 375.1L575.1 375.1L575.9 376.4L576.8 375.1L577.7 372.4L578.5 372.4L579.4 372.4L580.3 372.4L581.2 373.8L582.0 373.8L582.9 376.4L583.8 373.8L584.7 373.8L585.5 375.1L586.4 375.1L587.3 377.7L588.2 377.7L589.0 380.3L589.9 379.0L590.8 377.7L591.7 379.0L592.5 375.1L593.4 379.0L594.3 376.4L595.2 376.4L596.0 377.7L596.9 376.4L597.8 376.4L598.6 377.7L599.5 373.8L600.4 376.4L601.3 375.1L602.1 377.7L603.0 377.7L603.9 376.4L604.8 372.4L605.6 379.0L606.5 379.0L607.4 379.0L608.3 377.7L609.1 377.7L610.0 376.4L610.9 377.7L611.8 376.4L612.6 377.7L613.5 379.0L614.4 379.0L615.3 377.7L616.1 377.7L617.0 376.4L617.9 377.7L618.7 379.0L619.6 380.3L620.5 380.3L621.4 377.7L622.2 377.7L623.1 376.4L624.0 379.0L624.9 377.7L625.7 379.0L626.6 381.6L627.5 380.3L628.4 377.7L629.2 379.0L630.1 379.0L631.0 376.4L631.9 379.0L632.7 377.7L633.6 377.7L634.5 379.0L635.4 377.7L636.2 380.3L637.1 380.3L638.0 376.4L638.9 376.4L639.7 377.7L640.6 380.3L641.5 380.3L642.3 380.3L643.2 381.6L644.1 379.0L645.0 380.3L645.8 377.7L646.7 383.0L647.6 380.3L648.5 381.6L649.3 383.0L650.2 377.7L651.1 377.7L652.0 380.3L652.8 380.3L653.7 380.3L654.6 381.6L655.5 386.9L656.3 385.6L657.2 381.6L658.1 386.9L659.0 380.3L659.8 381.6L660.7 383.0L661.6 383.0L662.4 381.6L663.3 384.3L664.2 380.3L665.1 384.3L665.9 385.6L666.8 381.6L667.7 384.3L668.6 384.3L669.4 383.0L670.3 381.6L671.2 385.6L672.1 385.6L672.9 388.2L673.8 385.6L674.7 383.0L675.6 386.9L676.4 386.9L677.3 388.2L678.2 388.2L679.1 388.2L679.9 385.6L680.8 385.6L681.7 389.5L682.5 385.6L683.4 384.3L684.3 384.3L685.2 388.2L686.0 385.6L686.9 386.9L687.8 388.2L688.7 389.5L689.5 389.5L690.4 388.2L691.3 386.9L692.2 390.8L693.0 390.8L693.9 385.6L694.8 389.5L695.7 384.3L696.5 388.2L697.4 390.8L698.3 386.9L699.2 386.9L700.0 392.2L700.9 389.5L701.8 386.9L702.6 392.2L703.5 389.5L704.4 389.5L705.3 386.9L706.1 388.2L707.0 390.8L707.9 393.5L708.8 390.8L709.6 390.8L710.5 390.8L711.4 392.2L712.3 393.5L713.1 389.5L714.0 392.2L714.9 393.5L715.8 390.8L716.6 392.2L717.5 392.2L718.4 390.8L719.3 393.5L720.1 392.2L721.0 390.8L721.9 393.5L722.8 392.2L723.6 392.2L724.5 392.2L725.4 392.2L726.2 394.8L727.1 393.5L728.0 392.2L728.9 392.2L729.7 392.2L730.6 392.2L731.5 393.5L732.4 389.5L733.2 392.2L734.1 388.2L735.0 385.6L735.9 389.5L736.7 389.5L737.6 390.8L738.5 392.2L739.4 390.8L740.2 388.2L741.1 389.5L742.0 392.2L742.9 388.2L743.7 390.8L744.6 388.2L745.5 389.5L746.3 390.8L747.2 390.8L748.1 388.2L749.0 390.8L749.8 386.9L750.7 390.8L751.6 386.9L752.5 390.8L753.3 390.8L754.2 388.2L755.1 386.9L756.0 389.5L756.8 386.9L757.7 389.5L758.6 389.5L759.5 388.2L760.3 384.3L761.2 386.9L762.1 389.5L763.0 390.8L763.8 385.6L764.7 384.3L765.6 385.6L766.4 384.3L767.3 385.6L768.2 381.6L769.1 383.0L769.9 385.6L770.8 383.0L771.7 380.3L772.6 381.6L773.4 384.3L774.3 380.3L775.2 380.3L776.1 384.3L776.9 377.7L777.8 376.4L778.7 379.0L779.6 379.0L780.4 377.7L781.3 377.7L782.2 377.7L783.1 376.4L783.9 379.0L784.8 376.4L785.7 372.4L786.5 376.4L787.4 375.1L788.3 375.1L789.2 376.4L790.0 376.4L790.9 371.1L791.8 373.8L792.7 375.1L793.5 372.4L794.4 373.8L795.3 375.1L796.2 373.8L797.0 375.1L797.9 373.8L798.8 369.8L799.7 371.1L800.5 372.4L801.4 368.5L802.3 369.8L803.2 371.1L804.0 372.4L804.9 371.1L805.8 368.5L806.7 371.1L807.5 365.9L808.4 369.8L809.3 371.1L810.1 369.8L811.0 365.9L811.9 369.8L812.8 367.2L813.6 367.2L814.5 368.5L815.4 365.9L816.3 364.6L817.1 365.9L818.0 369.8L818.9 365.9L819.8 364.6L820.6 364.6L821.5 361.9L822.4 364.6L823.3 364.6L824.1 368.5L825.0 365.9L825.9 361.9L826.8 365.9L827.6 363.2L828.5 365.9L829.4 363.2L830.2 364.6L831.1 361.9L832.0 363.2L832.9 361.9L833.7 364.6L834.6 361.9L835.5 360.6L836.4 367.2L837.2 361.9L838.1 361.9L839.0 359.3L839.9 359.3L840.7 358.0L841.6 358.0L842.5 356.7L843.4 358.0L844.2 358.0L845.1 358.0L846.0 356.7L846.9 356.7L847.7 352.7L848.6 356.7L849.5 354.0L850.3 354.0L851.2 352.7L852.1 351.4L853.0 352.7L853.8 352.7L854.7 351.4L855.6 348.8L856.5 350.1L857.3 348.8L858.2 351.4L859.1 347.5L860.0 348.8L860.8 350.1L861.7 346.2L862.6 348.8L863.5 346.2L864.3 343.5L865.2 346.2L866.1 347.5L867.0 343.5L867.8 344.8L868.7 343.5L869.6 348.8L870.4 347.5L871.3 343.5L872.2 348.8L873.1 348.8L873.9 348.8L874.8 350.1L875.7 351.4L876.6 356.7L877.4 350.1L878.3 352.7L879.2 348.8L880.1 347.5L880.9 352.7L881.8 351.4L882.7 350.1L883.6 350.1L884.4 352.7L885.3 355.4L886.2 355.4L887.1 358.0L887.9 354.0L888.8 356.7L889.7 355.4L890.6 361.9L891.4 358.0L892.3 358.0L893.2 358.0L894.0 360.6L894.9 358.0L895.8 359.3L896.7 355.4L897.5 359.3L898.4 359.3L899.3 360.6L900.2 358.0L901.0 358.0L901.9 360.6L902.8 364.6L903.7 359.3L904.5 360.6L905.4 359.3L906.3 360.6L907.2 358.0L908.0 360.6L908.9 358.0L909.8 359.3L910.7 356.7L911.5 359.3L912.4 358.0L913.3 359.3L914.1 359.3L915.0 360.6L915.9 360.6L916.8 358.0L917.6 358.0L918.5 355.4L919.4 356.7L920.3 354.0L921.1 354.0L922.0 356.7L922.9 359.3L923.8 358.0L924.6 355.4L925.5 356.7L926.4 354.0L927.3 355.4L928.1 352.7L929.0 350.1L929.9 350.1L930.8 350.1L931.6 348.8L932.5 348.8" stroke="#A0A0A0" stroke-width="1.15" fill="none" stroke-linejoin="round" stroke-linecap="butt"/>
<path d="M93.5 330.4L94.5 330.4L95.5 330.4L96.5 330.4L97.5 330.4L98.5 330.4L99.5 330.4L100.5 330.4L101.5 330.4L102.5 330.4L103.5 330.4L104.5 330.4L105.5 330.4L106.5 330.4L107.5 330.4L108.5 330.4L109.5 330.4L110.5 330.4L111.5 330.4L112.5 330.4L113.5 330.4L114.5 330.4L115.5 330.4L116.5 330.4L117.5 330.4L118.5 330.4L119.5 330.4L120.5 330.4L121.5 330.4L122.5 330.4L123.5 330.4L124.5 330.4L125.5 327.8L126.5 327.8L127.5 327.8L128.5 327.8L129.5 327.8L130.5 327.8L131.5 327.8L132.5 327.8L133.5 327.8L134.5 327.8L135.4 327.8L136.4 327.8L137.4 327.8L138.4 327.8L139.4 327.8L140.4 327.8L141.4 327.8L142.4 327.8L143.4 327.8L144.4 327.8L145.4 327.8L146.4 327.8L147.4 327.8L148.4 327.8L149.4 327.8L150.4 327.8L151.4 327.8L152.4 327.8L153.4 327.8L154.4 327.8L155.4 327.8L156.4 327.8L157.4 327.8L158.4 327.8L159.4 327.8L160.4 327.8L161.4 327.8L162.4 327.8L163.4 327.8L164.4 327.8L165.4 327.8L166.4 327.8L167.4 327.8L168.4 327.8L169.4 327.8L170.4 327.8L171.4 327.8L172.4 327.8L173.4 327.8L174.4 327.8L175.4 327.8L176.4 327.8L177.4 327.8L178.4 327.8L179.4 327.8L180.4 327.8L181.4 327.8L182.4 327.8L183.4 327.8L184.4 327.8L185.4 327.8L186.4 327.8L187.4 327.8L188.4 327.8L189.4 327.8L190.4 327.8L191.4 327.8L192.4 327.8L193.4 327.8L194.4 327.8L195.4 327.8L196.4 327.8L197.4 327.8L198.4 325.1L199.4 325.1L200.4 325.1L201.4 325.1L202.4 325.1L203.4 325.1L204.4 325.1L205.4 325.1L206.4 325.1L207.4 325.1L208.4 325.1L209.4 325.1L210.4 325.1L211.4 325.1L212.4 325.1L213.4 325.1L214.4 325.1L215.4 325.1L216.4 325.1L217.4 325.1L218.4 325.1L219.4 325.1L220.3 325.1L221.3 325.1L222.3 325.1L223.3 325.1L224.3 325.1L225.3 322.5L226.3 322.5L227.3 322.5L228.3 322.5L229.3 322.5L230.3 322.5L231.3 322.5L232.3 322.5L233.3 322.5L234.3 322.5L235.3 322.5L236.3 322.5L237.3 322.5L238.3 322.5L239.3 322.5L240.3 322.5L241.3 322.5L242.3 322.5L243.3 322.5L244.3 322.5L245.3 322.5L246.3 322.5L247.3 322.5L248.3 322.5L249.3 322.5L250.3 322.5L251.3 322.5L252.3 322.5L253.3 322.5L254.3 322.5L255.3 322.5L256.3 322.5L257.3 322.5L258.3 322.5L259.3 322.5L260.3 322.5L261.3 322.5L262.3 322.5L263.3 322.5L264.3 322.5L265.3 322.5L266.3 322.5L267.3 322.5L268.3 322.5L269.3 322.5L270.3 322.5L271.3 322.5L272.3 322.5L273.3 322.5L274.3 322.5L275.3 319.9L276.3 319.9L277.3 319.9L278.3 319.9L279.3 319.9L280.3 319.9L281.3 319.9L282.3 319.9L283.3 319.9L284.3 319.9L285.3 319.9L286.3 319.9L287.3 319.9L288.3 319.9L289.3 319.9L290.3 319.9L291.3 319.9L292.3 319.9L293.3 319.9L294.3 319.9L295.3 319.9L296.3 319.9L297.3 319.9L298.3 319.9L299.3 319.9L300.3 319.9L301.3 319.9L302.3 319.9L303.2 319.9L304.2 319.9L305.2 319.9L306.2 319.9L307.2 319.9L308.2 319.9L309.2 319.9L310.2 319.9L311.2 319.9L312.2 319.9L313.2 319.9L314.2 319.9L315.2 319.9L316.2 319.9L317.2 319.9L318.2 319.9L319.2 319.9L320.2 319.9L321.2 319.9L322.2 319.9L323.2 319.9L324.2 319.9L325.2 319.9L326.2 319.9L327.2 319.9L328.2 319.9L329.2 319.9L330.2 319.9L331.2 319.9L332.2 319.9L333.2 319.9L334.2 319.9L335.2 319.9L336.2 319.9L337.2 319.9L338.2 319.9L339.2 319.9L340.2 319.9L341.2 319.9L342.2 319.9L343.2 319.9L344.2 322.5L345.2 322.5L346.2 322.5L347.2 322.5L348.2 322.5L349.2 322.5L350.2 322.5L351.2 322.5L352.2 322.5L353.2 322.5L354.2 322.5L355.2 322.5L356.2 322.5L357.2 322.5L358.2 322.5L359.2 325.1L360.2 325.1L361.2 325.1L362.2 325.1L363.2 325.1L364.2 325.1L365.2 325.1L366.2 325.1L367.2 325.1L368.2 325.1L369.2 327.8L370.2 327.8L371.2 327.8L372.2 327.8L373.2 327.8L374.2 327.8L375.2 327.8L376.2 327.8L377.2 327.8L378.2 327.8L379.2 327.8L380.2 327.8L381.2 327.8L382.2 327.8L383.2 327.8L384.2 327.8L385.2 327.8L386.2 327.8L387.2 327.8L388.1 327.8L389.1 327.8L390.1 327.8L391.1 327.8L392.1 327.8L393.1 327.8L394.1 327.8L395.1 327.8L396.1 327.8L397.1 327.8L398.1 327.8L399.1 327.8L400.1 327.8L401.1 327.8L402.1 327.8L403.1 327.8L404.1 327.8L405.1 327.8L406.1 327.8L407.1 327.8L408.1 327.8L409.1 327.8L410.1 327.8L411.1 327.8L412.1 327.8L413.1 327.8L414.1 327.8L415.1 327.8L416.1 327.8L417.1 327.8L418.1 327.8L419.1 327.8L420.1 327.8L421.1 327.8L422.1 327.8L423.1 327.8L424.1 327.8L425.1 327.8L426.1 327.8L427.1 327.8L428.1 327.8L429.1 327.8L430.1 327.8L431.1 327.8L432.1 327.8L433.1 327.8L434.1 327.8L435.1 327.8L436.1 327.8L437.1 327.8L438.1 327.8L439.1 327.8L440.1 327.8L441.1 330.4L442.1 330.4L443.1 330.4L444.1 330.4L445.1 330.4L446.1 330.4L447.1 330.4L448.1 330.4L449.1 330.4L450.1 330.4L451.1 330.4L452.1 330.4L453.1 330.4L454.1 330.4L455.1 330.4L456.1 330.4L457.1 330.4L458.1 330.4L459.1 330.4L460.1 330.4L461.1 330.4L462.1 330.4L463.1 330.4L464.1 330.4L465.1 330.4L466.1 330.4L467.1 330.4L468.1 330.4L469.1 330.4L470.1 330.4L471.1 330.4L472.0 330.4L473.0 330.4L474.0 330.4L475.0 330.4L476.0 330.4L477.0 330.4L478.0 330.4L479.0 330.4L480.0 333.0L481.0 333.0L482.0 333.0L483.0 333.0L484.0 333.0L485.0 333.0L486.0 333.0L487.0 333.0L488.0 333.0L489.0 333.0L490.0 333.0L491.0 333.0L492.0 333.0L493.0 333.0L494.0 333.0L495.0 333.0L496.0 333.0L497.0 333.0L498.0 333.0L499.0 333.0L500.0 333.0L501.0 333.0L502.0 333.0L503.0 333.0L504.0 333.0L505.0 333.0L506.0 333.0L507.0 333.0L508.0 335.6L509.0 335.6L510.0 335.6L511.0 335.6L512.0 335.6L513.0 335.6L514.0 335.6L515.0 335.6L516.0 335.6L517.0 335.6L518.0 335.6L519.0 335.6L520.0 335.6L521.0 335.6L522.0 335.6L523.0 335.6L524.0 335.6L525.0 335.6L526.0 335.6L527.0 335.6L528.0 335.6L529.0 335.6L530.0 335.6L531.0 335.6L532.0 335.6L533.0 335.6L534.0 335.6L535.0 335.6L536.0 335.6L537.0 335.6L538.0 335.6L539.0 335.6L540.0 335.6L541.0 335.6L542.0 335.6L543.0 335.6L544.0 338.3L545.0 338.3L546.0 338.3L547.0 338.3L548.0 338.3L549.0 338.3L550.0 338.3L551.0 338.3L552.0 338.3L553.0 338.3L554.0 338.3L555.0 340.9L555.9 340.9L556.9 340.9L557.9 340.9L558.9 340.9L559.9 340.9L560.9 340.9L561.9 340.9L562.9 340.9L563.9 340.9L564.9 340.9L565.9 340.9L566.9 340.9L567.9 340.9L568.9 340.9L569.9 340.9L570.9 340.9L571.9 340.9L572.9 340.9L573.9 340.9L574.9 340.9L575.9 340.9L576.9 340.9L577.9 340.9L578.9 340.9L579.9 340.9L580.9 340.9L581.9 340.9L582.9 340.9L583.9 340.9L584.9 340.9L585.9 340.9L586.9 340.9L587.9 340.9L588.9 340.9L589.9 340.9L590.9 340.9L591.9 340.9L592.9 340.9L593.9 340.9L594.9 340.9L595.9 340.9L596.9 340.9L597.9 340.9L598.9 340.9L599.9 340.9L600.9 340.9L601.9 340.9L602.9 340.9L603.9 340.9L604.9 340.9L605.9 340.9L606.9 340.9L607.9 340.9L608.9 343.5L609.9 343.5L610.9 343.5L611.9 343.5L612.9 343.5L613.9 343.5L614.9 343.5L615.9 343.5L616.9 343.5L617.9 343.5L618.9 343.5L619.9 343.5L620.9 343.5L621.9 343.5L622.9 343.5L623.9 343.5L624.9 343.5L625.9 343.5L626.9 343.5L627.9 343.5L628.9 343.5L629.9 343.5L630.9 343.5L631.9 343.5L632.9 343.5L633.9 343.5L634.9 343.5L635.9 343.5L636.9 343.5L637.9 343.5L638.9 343.5L639.8 343.5L640.8 343.5L641.8 343.5L642.8 343.5L643.8 343.5L644.8 343.5L645.8 343.5L646.8 343.5L647.8 343.5L648.8 343.5L649.8 343.5L650.8 343.5L651.8 343.5L652.8 343.5L653.8 343.5L654.8 343.5L655.8 343.5L656.8 346.2L657.8 346.2L658.8 346.2L659.8 346.2L660.8 346.2L661.8 346.2L662.8 346.2L663.8 346.2L664.8 346.2L665.8 346.2L666.8 346.2L667.8 346.2L668.8 346.2L669.8 348.8L670.8 348.8L671.8 348.8L672.8 348.8L673.8 348.8L674.8 348.8L675.8 348.8L676.8 348.8L677.8 348.8L678.8 348.8L679.8 348.8L680.8 348.8L681.8 348.8L682.8 348.8L683.8 348.8L684.8 348.8L685.8 348.8L686.8 348.8L687.8 348.8L688.8 348.8L689.8 348.8L690.8 348.8L691.8 348.8L692.8 348.8L693.8 348.8L694.8 348.8L695.8 348.8L696.8 348.8L697.8 348.8L698.8 348.8L699.8 348.8L700.8 348.8L701.8 348.8L702.8 348.8L703.8 348.8L704.8 348.8L705.8 348.8L706.8 348.8L707.8 348.8L708.8 348.8L709.8 348.8L710.8 348.8L711.8 348.8L712.8 348.8L713.8 351.4L714.8 351.4L715.8 351.4L716.8 351.4L717.8 351.4L718.8 351.4L719.8 351.4L720.8 351.4L721.8 351.4L722.8 351.4L723.7 351.4L724.7 351.4L725.7 351.4L726.7 351.4L727.7 351.4L728.7 351.4L729.7 351.4L730.7 351.4L731.7 351.4L732.7 351.4L733.7 351.4L734.7 351.4L735.7 351.4L736.7 351.4L737.7 351.4L738.7 351.4L739.7 351.4L740.7 351.4L741.7 354.0L742.7 354.0L743.7 354.0L744.7 354.0L745.7 354.0L746.7 354.0L747.7 354.0L748.7 354.0L749.7 354.0L750.7 354.0L751.7 354.0L752.7 354.0L753.7 354.0L754.7 354.0L755.7 354.0L756.7 354.0L757.7 356.7L758.7 356.7L759.7 356.7L760.7 356.7L761.7 356.7L762.7 356.7L763.7 356.7L764.7 356.7L765.7 356.7L766.7 356.7L767.7 356.7L768.7 356.7L769.7 356.7L770.7 356.7L771.7 356.7L772.7 356.7L773.7 356.7L774.7 356.7L775.7 356.7L776.7 359.3L777.7 359.3L778.7 359.3L779.7 359.3L780.7 359.3L781.7 359.3L782.7 359.3L783.7 359.3L784.7 359.3L785.7 359.3L786.7 359.3L787.7 359.3L788.7 359.3L789.7 359.3L790.7 359.3L791.7 359.3L792.7 359.3L793.7 359.3L794.7 359.3L795.7 359.3L796.7 359.3L797.7 359.3L798.7 359.3L799.7 359.3L800.7 359.3L801.7 359.3L802.7 359.3L803.7 359.3L804.7 359.3L805.7 359.3L806.6 359.3L807.6 359.3L808.6 359.3L809.6 359.3L810.6 359.3L811.6 359.3L812.6 359.3L813.6 359.3L814.6 359.3L815.6 359.3L816.6 359.3L817.6 359.3L818.6 359.3L819.6 359.3L820.6 359.3L821.6 361.9L822.6 361.9L823.6 361.9L824.6 361.9L825.6 361.9L826.6 361.9L827.6 361.9L828.6 361.9L829.6 361.9L830.6 361.9L831.6 361.9L832.6 361.9L833.6 361.9L834.6 359.3L835.6 359.3L836.6 359.3L837.6 359.3L838.6 359.3L839.6 359.3L840.6 359.3L841.6 359.3L842.6 359.3L843.6 359.3L844.6 359.3L845.6 359.3L846.6 359.3L847.6 359.3L848.6 359.3L849.6 359.3L850.6 359.3L851.6 359.3L852.6 359.3L853.6 359.3L854.6 359.3L855.6 359.3L856.6 359.3L857.6 359.3L858.6 359.3L859.6 359.3L860.6 359.3L861.6 359.3L862.6 359.3L863.6 359.3L864.6 359.3L865.6 359.3L866.6 359.3L867.6 359.3L868.6 359.3L869.6 359.3L870.6 359.3L871.6 359.3L872.6 359.3L873.6 359.3L874.6 359.3L875.6 359.3L876.6 359.3L877.6 359.3L878.6 359.3L879.6 359.3L880.6 359.3L881.6 359.3L882.6 359.3L883.6 359.3L884.6 359.3L885.6 359.3L886.6 359.3L887.6 359.3L888.6 359.3L889.6 359.3L890.6 359.3L891.5 359.3L892.5 359.3L893.5 359.3L894.5 359.3L895.5 359.3L896.5 359.3L897.5 359.3L898.5 359.3L899.5 359.3L900.5 359.3L901.5 359.3L902.5 359.3L903.5 359.3L904.5 359.3L905.5 359.3L906.5 359.3L907.5 359.3L908.5 359.3L909.5 359.3L910.5 359.3L911.5 359.3L912.5 359.3L913.5 359.3L914.5 359.3L915.5 359.3L916.5 359.3L917.5 359.3L918.5 359.3L919.5 359.3L920.5 359.3L921.5 359.3L922.5 359.3L923.5 359.3L924.5 359.3L925.5 359.3L926.5 359.3L927.5 359.3L928.5 359.3L929.5 359.3L930.5 359.3L931.5 359.3L932.5 359.3" stroke="#CCCCCC" stroke-width="1.15" fill="none" stroke-linejoin="round" stroke-linecap="butt"/>
</g>
<rect x="93.5" y="230.5" width="839.0" height="184.0" fill="none" stroke="#000" stroke-width="1"/>
<text x="85" y="420.40" text-anchor="end">10</text>
<text x="85" y="394.40" text-anchor="end">20</text>
<text x="85" y="367.40" text-anchor="end">30</text>
<text x="85" y="341.40" text-anchor="end">40</text>
<text x="85" y="315.40" text-anchor="end">50</text>
<text x="85" y="288.40" text-anchor="end">60</text>
<text x="85" y="262.40" text-anchor="end">70</text>
<text x="85" y="236.40" text-anchor="end">80</text>
<line x1="128.5" y1="414.5" x2="128.5" y2="599.5" stroke="#c0c0c0" stroke-width="1"/>
<line x1="163.5" y1="414.5" x2="163.5" y2="599.5" stroke="#c0c0c0" stroke-width="1"/>
<line x1="198.5" y1="414.5" x2="198.5" y2="599.5" stroke="#c0c0c0" stroke-width="1"/>
<line x1="233.5" y1="414.5" x2="233.5" y2="599.5" stroke="#c0c0c0" stroke-width="1"/>
<line x1="268.5" y1="414.5" x2="268.5" y2="599.5" stroke="#c0c0c0" stroke-width="1"/>
<line x1="303.5" y1="414.5" x2="303.5" y2="599.5" stroke="#c0c0c0" stroke-width="1"/>
<line x1="338.5" y1="414.5" x2="338.5" y2="599.5" stroke="#c0c0c0" stroke-width="1"/>
<line x1="373.5" y1="414.5" x2="373.5" y2="599.5" stroke="#c0c0c0" stroke-width="1"/>
<line x1="408.5" y1="414.5" x2="408.5" y2="599.5" stroke="#c0c0c0" stroke-width="1"/>
<line x1="443.5" y1="414.5" x2="443.5" y2="599.5" stroke="#c0c0c0" stroke-width="1"/>
<line x1="478.5" y1="414.5" x2="478.5" y2="599.5" stroke="#c0c0c0" stroke-width="1"/>
<line x1="513.5" y1="414.5" x2="513.5" y2="599.5" stroke="#c0c0c0" stroke-width="1"/>
<line x1="547.5" y1="414.5" x2="547.5" y2="599.5" stroke="#c0c0c0" stroke-width="1"/>
<line x1="582.5" y1="414.5" x2="582.5" y2="599.5" stroke="#c0c0c0" stroke-width="1"/>
<line x1="617.5" y1="414.5" x2="617.5" y2="599.5" stroke="#c0c0c0" stroke-width="1"/>
<line x1="652.5" y1="414.5" x2="652.5" y2="599.5" stroke="#c0c0c0" stroke-width="1"/>
<line x1="687.5" y1="414.5" x2="687.5" y2="599.5" stroke="#c0c0c0" stroke-width="1"/>
<line x1="722.5" y1="414.5" x2="722.5" y2="599.5" stroke="#c0c0c0" stroke-width="1"/>
<line x1="757.5" y1="414.5" x2="757.5" y2="599.5" stroke="#c0c0c0" stroke-width="1"/>
<line x1="792.5" y1="414.5" x2="792.5" y2="599.5" stroke="#c0c0c0" stroke-width="1"/>
<line x1="827.5" y1="414.5" x2="827.5" y2="599.5" stroke="#c0c0c0" stroke-width="1"/>
<line x1="862.5" y1="414.5" x2="862.5" y2="599.5" stroke="#c0c0c0" stroke-width="1"/>
<line x1="897.5" y1="414.5" x2="897.5" y2="599.5" stroke="#c0c0c0" stroke-width="1"/>
<line x1="93.5" y1="572.5" x2="932.5" y2="572.5" stroke="#c0c0c0" stroke-width="1"/>
<line x1="93.5" y1="546.5" x2="932.5" y2="546.5" stroke="#c0c0c0" stroke-width="1"/>
<line x1="93.5" y1="520.5" x2="932.5" y2="520.5" stroke="#c0c0c0" stroke-width="1"/>
<line x1="93.5" y1="493.5" x2="932.5" y2="493.5" stroke="#c0c0c0" stroke-width="1"/>
<line x1="93.5" y1="467.5" x2="932.5" y2="467.5" stroke="#c0c0c0" stroke-width="1"/>
<line x1="93.5" y1="440.5" x2="932.5" y2="440.5" stroke="#c0c0c0" stroke-width="1"/>
<path d="M93.5 599.5v-9 M93.5 414.5v9 M111.5 599.5v-4.5 M111.5 414.5v4.5 M128.5 599.5v-9 M128.5 414.5v9 M146.5 599.5v-4.5 M146.5 414.5v4.5 M163.5 599.5v-9 M163.5 414.5v9 M180.5 599.5v-4.5 M180.5 414.5v4.5 M198.5 599.5v-9 M198.5 414.5v9 M215.5 599.5v-4.5 M215.5 414.5v4.5 M233.5 599.5v-9 M233.5 414.5v9 M250.5 599.5v-4.5 M250.5 414.5v4.5 M268.5 599.5v-9 M268.5 414.5v9 M285.5 599.5v-4.5 M285.5 414.5v4.5 M303.5 599.5v-9 M303.5 414.5v9 M320.5 599.5v-4.5 M320.5 414.5v4.5 M338.5 599.5v-9 M338.5 414.5v9 M355.5 599.5v-4.5 M355.5 414.5v4.5 M373.5 599.5v-9 M373.5 414.5v9 M390.5 599.5v-4.5 M390.5 414.5v4.5 M408.5 599.5v-9 M408.5 414.5v9 M425.5 599.5v-4.5 M425.5 414.5v4.5 M443.5 599.5v-9 M443.5 414.5v9 M460.5 599.5v-4.5 M460.5 414.5v4.5 M478.5 599.5v-9 M478.5 414.5v9 M495.5 599.5v-4.5 M495.5 414.5v4.5 M513.5 599.5v-9 M513.5 414.5v9 M530.5 599.5v-4.5 M530.5 414.5v4.5 M547.5 599.5v-9 M547.5 414.5v9 M565.5 599.5v-4.5 M565.5 414.5v4.5 M582.5 599.5v-9 M582.5 414.5v9 M600.5 599.5v-4.5 M600.5 414.5v4.5 M617.5 599.5v-9 M617.5 414.5v9 M635.5 599.5v-4.5 M635.5 414.5v4.5 M652.5 599.5v-9 M652.5 414.5v9 M670.5 599.5v-4.5 M670.5 414.5v4.5 M687.5 599.5v-9 M687.5 414.5v9 M705.5 599.5v-4.5 M705.5 414.5v4.5 M722.5 599.5v-9 M722.5 414.5v9 M740.5 599.5v-4.5 M740.5 414.5v4.5 M757.5 599.5v-9 M757.5 414.5v9 M775.5 599.5v-4.5 M775.5 414.5v4.5 M792.5 599.5v-9 M792.5 414.5v9 M810.5 599.5v-4.5 M810.5 414.5v4.5 M827.5 599.5v-9 M827.5 414.5v9 M845.5 599.5v-4.5 M845.5 414.5v4.5 M862.5 599.5v-9 M862.5 414.5v9 M880.5 599.5v-4.5 M880.5 414.5v4.5 M897.5 599.5v-9 M897.5 414.5v9 M915.5 599.5v-4.5 M915.5 414.5v4.5 M932.5 599.5v-9 M932.5 414.5v9 M93.5 599.5h9 M932.5 599.5h-9 M93.5 572.5h9 M932.5 572.5h-9 M93.5 546.5h9 M932.5 546.5h-9 M93.5 520.5h9 M932.5 520.5h-9 M93.5 493.5h9 M932.5 493.5h-9 M93.5 467.5h9 M932.5 467.5h-9 M93.5 440.5h9 M932.5 440.5h-9 M93.5 414.5h9 M932.5 414.5h-9 M93.5 586.5h4.5 M932.5 586.5h-4.5 M93.5 559.5h4.5 M932.5 559.5h-4.5 M93.5 533.5h4.5 M932.5 533.5h-4.5 M93.5 506.5h4.5 M932.5 506.5h-4.5 M93.5 480.5h4.5 M932.5 480.5h-4.5 M93.5 454.5h4.5 M932.5 454.5h-4.5 M93.5 427.5h4.5 M932.5 427.5h-4.5" stroke="#000" stroke-width="1" fill="none"/>
<g clip-path="url(#c3)">
<path d="M93.5 546.6L94.1 546.6L94.7 573.1L95.2 586.3L95.8 586.3L96.4 586.3L97.0 573.1L97.6 586.3L98.2 586.3L98.7 586.3L99.3 586.3L99.9 573.1L100.5 573.1L101.1 573.1L101.7 586.3L102.2 586.3L102.8 573.1L103.4 586.3L104.0 559.9L104.6 586.3L105.2 586.3L105.7 586.3L106.3 573.1L106.9 586.3L107.5 573.1L108.1 586.3L108.6 586.3L109.2 586.3L109.8 533.4L110.4 533.4L111.0 573.1L111.6 573.1L112.1 573.1L112.7 573.1L113.3 573.1L113.9 573.1L114.5 546.6L115.1 546.6L115.6 573.1L116.2 573.1L116.8 533.4L117.4 559.9L118.0 586.3L118.6 546.6L119.1 573.1L119.7 573.1L120.3 573.1L120.9 573.1L121.5 573.1L122.0 573.1L122.6 573.1L123.2 586.3L123.8 573.1L124.4 559.9L125.0 586.3L125.5 573.1L126.1 586.3L126.7 586.3L127.3 573.1L127.9 573.1L128.5 573.1L129.0 573.1L129.6 586.3L130.2 573.1L130.8 573.1L131.4 573.1L132.0 573.1L132.5 559.9L133.1 573.1L133.7 573.1L134.3 586.3L134.9 586.3L135.4 586.3L136.0 586.3L136.6 586.3L137.2 586.3L137.8 586.3L138.4 573.1L138.9 586.3L139.5 586.3L140.1 586.3L140.7 586.3L141.3 586.3L141.9 573.1L142.4 586.3L143.0 573.1L143.6 573.1L144.2 573.1L144.8 573.1L145.4 573.1L145.9 573.1L146.5 573.1L147.1 586.3L147.7 586.3L148.3 573.1L148.9 533.4L149.4 533.4L150.0 573.1L150.6 573.1L151.2 573.1L151.8 586.3L152.3 507.0L152.9 533.4L153.5 586.3L154.1 586.3L154.7 573.1L155.3 586.3L155.8 573.1L156.4 586.3L157.0 586.3L157.6 586.3L158.2 586.3L158.8 573.1L159.3 573.1L159.9 573.1L160.5 573.1L161.1 586.3L161.7 586.3L162.3 546.6L162.8 573.1L163.4 586.3L164.0 586.3L164.6 586.3L165.2 559.9L165.7 586.3L166.3 586.3L166.9 586.3L167.5 586.3L168.1 586.3L168.7 586.3L169.2 586.3L169.8 573.1L170.4 573.1L171.0 586.3L171.6 586.3L172.2 573.1L172.7 573.1L173.3 586.3L173.9 586.3L174.5 586.3L175.1 586.3L175.7 586.3L176.2 586.3L176.8 573.1L177.4 573.1L178.0 586.3L178.6 586.3L179.1 573.1L179.7 586.3L180.3 586.3L180.9 586.3L181.5 586.3L182.1 573.1L182.6 559.9L183.2 586.3L183.8 586.3L184.4 586.3L185.0 573.1L185.6 586.3L186.1 586.3L186.7 573.1L187.3 573.1L187.9 573.1L188.5 546.6L189.1 546.6L189.6 573.1L190.2 573.1L190.8 586.3L191.4 586.3L192.0 586.3L192.5 573.1L193.1 586.3L193.7 586.3L194.3 573.1L194.9 586.3L195.5 586.3L196.0 586.3L196.6 586.3L197.2 586.3L197.8 586.3L198.4 586.3L199.0 586.3L199.5 586.3L200.1 586.3L200.7 573.1L201.3 586.3L201.9 559.9L202.5 573.1L203.0 586.3L203.6 586.3L204.2 559.9L204.8 586.3L205.4 586.3L205.9 573.1L206.5 573.1L207.1 559.9L207.7 586.3L208.3 573.1L208.9 586.3L209.4 586.3L210.0 559.9L210.6 573.1L211.2 573.1L211.8 573.1L212.4 559.9L212.9 573.1L213.5 573.1L214.1 586.3L214.7 586.3L215.3 573.1L215.9 586.3L216.4 573.1L217.0 573.1L217.6 586.3L218.2 586.3L218.8 586.3L219.4 586.3L219.9 573.1L220.5 573.1L221.1 586.3L221.7 586.3L222.3 573.1L222.8 586.3L223.4 586.3L224.0 586.3L224.6 520.2L225.2 520.2L225.8 586.3L226.3 586.3L226.9 573.1L227.5 586.3L228.1 573.1L228.7 586.3L229.3 573.1L229.8 586.3L230.4 586.3L231.0 586.3L231.6 586.3L232.2 586.3L232.8 586.3L233.3 559.9L233.9 573.1L234.5 573.1L235.1 573.1L235.7 586.3L236.2 573.1L236.8 586.3L237.4 559.9L238.0 573.1L238.6 586.3L239.2 573.1L239.7 586.3L240.3 586.3L240.9 586.3L241.5 573.1L242.1 546.6L242.7 546.6L243.2 586.3L243.8 559.9L244.4 573.1L245.0 573.1L245.6 586.3L246.2 573.1L246.7 586.3L247.3 586.3L247.9 573.1L248.5 586.3L249.1 586.3L249.6 586.3L250.2 573.1L250.8 573.1L251.4 573.1L252.0 586.3L252.6 573.1L253.1 586.3L253.7 586.3L254.3 586.3L254.9 573.1L255.5 586.3L256.1 586.3L256.6 586.3L257.2 586.3L257.8 573.1L258.4 586.3L259.0 573.1L259.6 586.3L260.1 586.3L260.7 586.3L261.3 559.9L261.9 586.3L262.5 586.3L263.0 586.3L263.6 559.9L264.2 586.3L264.8 573.1L265.4 573.1L266.0 586.3L266.5 559.9L267.1 573.1L267.7 586.3L268.3 586.3L268.9 573.1L269.5 586.3L270.0 586.3L270.6 586.3L271.2 586.3L271.8 573.1L272.4 573.1L273.0 586.3L273.5 559.9L274.1 573.1L274.7 573.1L275.3 586.3L275.9 573.1L276.4 573.1L277.0 586.3L277.6 586.3L278.2 586.3L278.8 586.3L279.4 586.3L279.9 586.3L280.5 573.1L281.1 586.3L281.7 586.3L282.3 586.3L282.9 586.3L283.4 586.3L284.0 586.3L284.6 573.1L285.2 586.3L285.8 586.3L286.4 586.3L286.9 573.1L287.5 586.3L288.1 573.1L288.7 586.3L289.3 573.1L289.8 573.1L290.4 573.1L291.0 559.9L291.6 586.3L292.2 573.1L292.8 586.3L293.3 586.3L293.9 586.3L294.5 559.9L295.1 586.3L295.7 586.3L296.3 586.3L296.8 573.1L297.4 586.3L298.0 586.3L298.6 586.3L299.2 586.3L299.8 573.1L300.3 573.1L300.9 586.3L301.5 586.3L302.1 573.1L302.7 586.3L303.2 586.3L303.8 586.3L304.4 586.3L305.0 586.3L305.6 573.1L306.2 573.1L306.7 573.1L307.3 586.3L307.9 586.3L308.5 546.6L309.1 573.1L309.7 573.1L310.2 586.3L310.8 573.1L311.4 586.3L312.0 586.3L312.6 573.1L313.2 586.3L313.7 559.9L314.3 573.1L314.9 573.1L315.5 586.3L316.1 573.1L316.7 573.1L317.2 586.3L317.8 586.3L318.4 573.1L319.0 586.3L319.6 586.3L320.1 573.1L320.7 573.1L321.3 573.1L321.9 573.1L322.5 586.3L323.1 586.3L323.6 586.3L324.2 586.3L324.8 586.3L325.4 586.3L326.0 559.9L326.6 586.3L327.1 586.3L327.7 586.3L328.3 586.3L328.9 573.1L329.5 586.3L330.1 586.3L330.6 573.1L331.2 573.1L331.8 586.3L332.4 586.3L333.0 573.1L333.5 573.1L334.1 586.3L334.7 586.3L335.3 586.3L335.9 573.1L336.5 559.9L337.0 573.1L337.6 586.3L338.2 546.6L338.8 546.6L339.4 586.3L340.0 586.3L340.5 586.3L341.1 573.1L341.7 586.3L342.3 586.3L342.9 586.3L343.5 559.9L344.0 586.3L344.6 586.3L345.2 573.1L345.8 586.3L346.4 573.1L346.9 559.9L347.5 573.1L348.1 573.1L348.7 573.1L349.3 586.3L349.9 586.3L350.4 559.9L351.0 586.3L351.6 586.3L352.2 586.3L352.8 586.3L353.4 586.3L353.9 573.1L354.5 586.3L355.1 586.3L355.7 573.1L356.3 586.3L356.9 573.1L357.4 573.1L358.0 586.3L358.6 573.1L359.2 546.6L359.8 573.1L360.3 586.3L360.9 586.3L361.5 573.1L362.1 573.1L362.7 573.1L363.3 573.1L363.8 573.1L364.4 559.9L365.0 573.1L365.6 573.1L366.2 586.3L366.8 533.4L367.3 533.4L367.9 573.1L368.5 586.3L369.1 586.3L369.7 586.3L370.3 573.1L370.8 586.3L371.4 599.5L372.0 592.9L372.6 533.4L373.2 559.9L373.7 586.3L374.3 586.3L374.9 573.1L375.5 573.1L376.1 586.3L376.7 520.2L377.2 546.6L377.8 533.4L378.4 559.9L379.0 507.0L379.6 507.0L380.2 586.3L380.7 546.6L381.3 546.6L381.9 533.4L382.5 559.9L383.1 586.3L383.7 546.6L384.2 573.1L384.8 546.6L385.4 573.1L386.0 586.3L386.6 573.1L387.2 586.3L387.7 586.3L388.3 573.1L388.9 586.3L389.5 573.1L390.1 573.1L390.6 586.3L391.2 573.1L391.8 586.3L392.4 586.3L393.0 573.1L393.6 586.3L394.1 559.9L394.7 586.3L395.3 586.3L395.9 586.3L396.5 573.1L397.1 586.3L397.6 573.1L398.2 559.9L398.8 586.3L399.4 586.3L400.0 586.3L400.6 573.1L401.1 573.1L401.7 586.3L402.3 586.3L402.9 586.3L403.5 573.1L404.0 586.3L404.6 586.3L405.2 573.1L405.8 586.3L406.4 573.1L407.0 586.3L407.5 586.3L408.1 586.3L408.7 586.3L409.3 480.6L409.9 480.6L410.5 573.1L411.0 573.1L411.6 559.9L412.2 586.3L412.8 573.1L413.4 612.7L414.0 573.1L414.5 586.3L415.1 612.7L415.7 606.1L416.3 586.3L416.9 573.1L417.4 573.1L418.0 573.1L418.6 599.5L419.2 586.3L419.8 586.3L420.4 559.9L420.9 586.3L421.5 586.3L422.1 599.5L422.7 592.9L423.3 573.1L423.9 586.3L424.4 586.3L425.0 573.1L425.6 586.3L426.2 586.3L426.8 573.1L427.4 573.1L427.9 586.3L428.5 586.3L429.1 586.3L429.7 586.3L430.3 573.1L430.8 586.3L431.4 586.3L432.0 586.3L432.6 586.3L433.2 573.1L433.8 573.1L434.3 586.3L434.9 586.3L435.5 586.3L436.1 573.1L436.7 586.3L437.3 586.3L437.8 599.5L438.4 592.9L439.0 586.3L439.6 559.9L440.2 573.1L440.8 586.3L441.3 586.3L441.9 559.9L442.5 573.1L443.1 586.3L443.7 573.1L444.2 573.1L444.8 586.3L445.4 586.3L446.0 586.3L446.6 586.3L447.2 586.3L447.7 573.1L448.3 586.3L448.9 573.1L449.5 573.1L450.1 599.5L450.7 592.9L451.2 573.1L451.8 573.1L452.4 573.1L453.0 573.1L453.6 573.1L454.2 573.1L454.7 573.1L455.3 586.3L455.9 573.1L456.5 573.1L457.1 586.3L457.6 573.1L458.2 586.3L458.8 559.9L459.4 573.1L460.0 586.3L460.6 604.8L461.1 573.1L461.7 573.1L462.3 604.8L462.9 586.3L463.5 586.3L464.1 599.5L464.6 573.1L465.2 586.3L465.8 586.3L466.4 546.6L467.0 573.1L467.6 586.3L468.1 573.1L468.7 586.3L469.3 546.6L469.9 573.1L470.5 586.3L471.1 573.1L471.6 586.3L472.2 573.1L472.8 559.9L473.4 573.1L474.0 573.1L474.5 573.1L475.1 573.1L475.7 573.1L476.3 586.3L476.9 573.1L477.5 586.3L478.0 573.1L478.6 573.1L479.2 586.3L479.8 586.3L480.4 586.3L481.0 573.1L481.5 599.5L482.1 586.3L482.7 573.1L483.3 573.1L483.9 586.3L484.5 573.1L485.0 586.3L485.6 573.1L486.2 573.1L486.8 586.3L487.4 573.1L487.9 573.1L488.5 586.3L489.1 573.1L489.7 573.1L490.3 586.3L490.9 586.3L491.4 573.1L492.0 586.3L492.6 573.1L493.2 573.1L493.8 599.5L494.4 592.9L494.9 586.3L495.5 586.3L496.1 586.3L496.7 586.3L497.3 586.3L497.9 586.3L498.4 586.3L499.0 586.3L499.6 573.1L500.2 586.3L500.8 586.3L501.3 586.3L501.9 586.3L502.5 573.1L503.1 573.1L503.7 573.1L504.3 586.3L504.8 586.3L505.4 573.1L506.0 586.3L506.6 586.3L507.2 586.3L507.8 546.6L508.3 546.6L508.9 573.1L509.5 546.6L510.1 546.6L510.7 586.3L511.3 546.6L511.8 546.6L512.4 599.5L513.0 546.6L513.6 573.1L514.2 573.1L514.7 586.3L515.3 586.3L515.9 507.0L516.5 507.0L517.1 592.9L517.7 599.5L518.2 586.3L518.8 586.3L519.4 586.3L520.0 559.9L520.6 573.1L521.2 573.1L521.7 573.1L522.3 573.1L522.9 573.1L523.5 586.3L524.1 586.3L524.7 586.3L525.2 559.9L525.8 586.3L526.4 586.3L527.0 586.3L527.6 586.3L528.1 586.3L528.7 546.6L529.3 546.6L529.9 586.3L530.5 573.1L531.1 586.3L531.6 586.3L532.2 586.3L532.8 573.1L533.4 586.3L534.0 586.3L534.6 586.3L535.1 586.3L535.7 586.3L536.3 586.3L536.9 573.1L537.5 573.1L538.1 599.5L538.6 586.3L539.2 573.1L539.8 586.3L540.4 586.3L541.0 586.3L541.5 573.1L542.1 586.3L542.7 586.3L543.3 586.3L543.9 586.3L544.5 573.1L545.0 573.1L545.6 586.3L546.2 573.1L546.8 586.3L547.4 586.3L548.0 533.4L548.5 533.4L549.1 573.1L549.7 599.5L550.3 520.2L550.9 546.6L551.5 586.3L552.0 586.3L552.6 586.3L553.2 586.3L553.8 573.1L554.4 599.5L555.0 592.9L555.5 573.1L556.1 573.1L556.7 573.1L557.3 573.1L557.9 573.1L558.4 559.9L559.0 586.3L559.6 586.3L560.2 573.1L560.8 573.1L561.4 559.9L561.9 573.1L562.5 573.1L563.1 586.3L563.7 586.3L564.3 586.3L564.9 586.3L565.4 559.9L566.0 592.9L566.6 573.1L567.2 586.3L567.8 586.3L568.4 573.1L568.9 586.3L569.5 573.1L570.1 573.1L570.7 586.3L571.3 559.9L571.8 586.3L572.4 586.3L573.0 573.1L573.6 573.1L574.2 586.3L574.8 573.1L575.3 586.3L575.9 573.1L576.5 573.1L577.1 586.3L577.7 573.1L578.3 573.1L578.8 586.3L579.4 533.4L580.0 533.4L580.6 573.1L581.2 586.3L581.8 493.8L582.3 493.8L582.9 586.3L583.5 573.1L584.1 586.3L584.7 559.9L585.2 586.3L585.8 586.3L586.4 559.9L587.0 586.3L587.6 586.3L588.2 573.1L588.7 573.1L589.3 586.3L589.9 573.1L590.5 573.1L591.1 586.3L591.7 586.3L592.2 573.1L592.8 573.1L593.4 546.6L594.0 573.1L594.6 573.1L595.2 573.1L595.7 586.3L596.3 586.3L596.9 573.1L597.5 573.1L598.1 573.1L598.6 573.1L599.2 586.3L599.8 573.1L600.4 546.6L601.0 546.6L601.6 586.3L602.1 546.6L602.7 573.1L603.3 573.1L603.9 546.6L604.5 546.6L605.1 573.1L605.6 586.3L606.2 573.1L606.8 533.4L607.4 533.4L608.0 573.1L608.6 573.1L609.1 586.3L609.7 586.3L610.3 586.3L610.9 467.4L611.5 493.8L612.0 573.1L612.6 599.5L613.2 559.9L613.8 573.1L614.4 586.3L615.0 586.3L615.5 573.1L616.1 586.3L616.7 586.3L617.3 586.3L617.9 586.3L618.5 573.1L619.0 586.3L619.6 573.1L620.2 573.1L620.8 586.3L621.4 559.9L622.0 573.1L622.5 573.1L623.1 586.3L623.7 573.1L624.3 586.3L624.9 586.3L625.4 573.1L626.0 586.3L626.6 533.4L627.2 533.4L627.8 573.1L628.4 533.4L628.9 533.4L629.5 586.3L630.1 546.6L630.7 546.6L631.3 573.1L631.9 573.1L632.4 573.1L633.0 573.1L633.6 586.3L634.2 573.1L634.8 573.1L635.4 573.1L635.9 546.6L636.5 573.1L637.1 586.3L637.7 573.1L638.3 586.3L638.9 586.3L639.4 586.3L640.0 573.1L640.6 573.1L641.2 586.3L641.8 586.3L642.3 533.4L642.9 559.9L643.5 586.3L644.1 586.3L644.7 586.3L645.3 586.3L645.8 559.9L646.4 573.1L647.0 586.3L647.6 586.3L648.2 573.1L648.8 573.1L649.3 573.1L649.9 573.1L650.5 573.1L651.1 573.1L651.7 586.3L652.3 586.3L652.8 599.5L653.4 592.9L654.0 573.1L654.6 559.9L655.2 586.3L655.7 573.1L656.3 599.5L656.9 592.9L657.5 573.1L658.1 573.1L658.7 573.1L659.2 573.1L659.8 586.3L660.4 573.1L661.0 586.3L661.6 586.3L662.2 573.1L662.7 533.4L663.3 559.9L663.9 592.9L664.5 573.1L665.1 586.3L665.7 586.3L666.2 586.3L666.8 573.1L667.4 586.3L668.0 586.3L668.6 573.1L669.1 573.1L669.7 586.3L670.3 586.3L670.9 573.1L671.5 586.3L672.1 586.3L672.6 573.1L673.2 586.3L673.8 573.1L674.4 586.3L675.0 573.1L675.6 573.1L676.1 586.3L676.7 573.1L677.3 586.3L677.9 573.1L678.5 586.3L679.1 586.3L679.6 586.3L680.2 586.3L680.8 586.3L681.4 573.1L682.0 573.1L682.5 573.1L683.1 533.4L683.7 533.4L684.3 573.1L684.9 573.1L685.5 573.1L686.0 559.9L686.6 586.3L687.2 586.3L687.8 573.1L688.4 586.3L689.0 586.3L689.5 559.9L690.1 573.1L690.7 586.3L691.3 573.1L691.9 586.3L692.5 586.3L693.0 559.9L693.6 586.3L694.2 586.3L694.8 586.3L695.4 586.3L695.9 573.1L696.5 586.3L697.1 573.1L697.7 586.3L698.3 520.2L698.9 520.2L699.4 586.3L700.0 586.3L700.6 586.3L701.2 586.3L701.8 586.3L702.4 586.3L702.9 573.1L703.5 586.3L704.1 586.3L704.7 586.3L705.3 559.9L705.9 586.3L706.4 586.3L707.0 573.1L707.6 573.1L708.2 573.1L708.8 559.9L709.3 586.3L709.9 586.3L710.5 586.3L711.1 573.1L711.7 586.3L712.3 559.9L712.8 586.3L713.4 586.3L714.0 573.1L714.6 586.3L715.2 586.3L715.8 573.1L716.3 586.3L716.9 573.1L717.5 573.1L718.1 586.3L718.7 586.3L719.3 586.3L719.8 573.1L720.4 573.1L721.0 586.3L721.6 599.5L722.2 573.1L722.8 586.3L723.3 573.1L723.9 573.1L724.5 586.3L725.1 586.3L725.7 573.1L726.2 559.9L726.8 573.1L727.4 573.1L728.0 559.9L728.6 586.3L729.2 586.3L729.7 586.3L730.3 586.3L730.9 573.1L731.5 573.1L732.1 586.3L732.7 573.1L733.2 586.3L733.8 586.3L734.4 586.3L735.0 573.1L735.6 586.3L736.2 586.3L736.7 586.3L737.3 586.3L737.9 586.3L738.5 599.5L739.1 592.9L739.6 573.1L740.2 559.9L740.8 573.1L741.4 586.3L742.0 559.9L742.6 573.1L743.1 573.1L743.7 586.3L744.3 573.1L744.9 586.3L745.5 573.1L746.1 573.1L746.6 586.3L747.2 573.1L747.8 586.3L748.4 573.1L749.0 586.3L749.6 573.1L750.1 586.3L750.7 573.1L751.3 573.1L751.9 586.3L752.5 586.3L753.0 546.6L753.6 546.6L754.2 586.3L754.8 573.1L755.4 586.3L756.0 573.1L756.5 586.3L757.1 546.6L757.7 573.1L758.3 586.3L758.9 573.1L759.5 586.3L760.0 586.3L760.6 573.1L761.2 586.3L761.8 573.1L762.4 586.3L763.0 586.3L763.5 573.1L764.1 586.3L764.7 559.9L765.3 573.1L765.9 573.1L766.4 559.9L767.0 586.3L767.6 586.3L768.2 586.3L768.8 586.3L769.4 586.3L769.9 573.1L770.5 573.1L771.1 573.1L771.7 573.1L772.3 559.9L772.9 573.1L773.4 573.1L774.0 586.3L774.6 573.1L775.2 586.3L775.8 586.3L776.4 573.1L776.9 546.6L777.5 573.1L778.1 586.3L778.7 586.3L779.3 573.1L779.8 507.0L780.4 507.0L781.0 573.1L781.6 573.1L782.2 559.9L782.8 573.1L783.3 573.1L783.9 586.3L784.5 573.1L785.1 586.3L785.7 586.3L786.3 586.3L786.8 573.1L787.4 573.1L788.0 573.1L788.6 573.1L789.2 573.1L789.8 533.4L790.3 559.9L790.9 573.1L791.5 586.3L792.1 573.1L792.7 586.3L793.2 573.1L793.8 573.1L794.4 546.6L795.0 573.1L795.6 573.1L796.2 586.3L796.7 586.3L797.3 573.1L797.9 573.1L798.5 573.1L799.1 573.1L799.7 546.6L800.2 546.6L800.8 586.3L801.4 586.3L802.0 586.3L802.6 586.3L803.2 586.3L803.7 573.1L804.3 573.1L804.9 573.1L805.5 573.1L806.1 586.3L806.6 586.3L807.2 586.3L807.8 573.1L808.4 573.1L809.0 586.3L809.6 573.1L810.1 573.1L810.7 586.3L811.3 586.3L811.9 586.3L812.5 586.3L813.1 573.1L813.6 586.3L814.2 573.1L814.8 586.3L815.4 586.3L816.0 573.1L816.6 586.3L817.1 586.3L817.7 573.1L818.3 586.3L818.9 573.1L819.5 586.3L820.1 586.3L820.6 586.3L821.2 573.1L821.8 586.3L822.4 586.3L823.0 586.3L823.5 573.1L824.1 586.3L824.7 586.3L825.3 573.1L825.9 546.6L826.5 546.6L827.0 520.2L827.6 520.2L828.2 586.3L828.8 586.3L829.4 533.4L830.0 559.9L830.5 586.3L831.1 599.5L831.7 573.1L832.3 573.1L832.9 586.3L833.5 573.1L834.0 573.1L834.6 573.1L835.2 573.1L835.8 586.3L836.4 586.3L836.9 586.3L837.5 586.3L838.1 586.3L838.7 573.1L839.3 573.1L839.9 520.2L840.4 520.2L841.0 573.1L841.6 573.1L842.2 546.6L842.8 546.6L843.4 586.3L843.9 586.3L844.5 586.3L845.1 586.3L845.7 586.3L846.3 586.3L846.9 599.5L847.4 586.3L848.0 586.3L848.6 573.1L849.2 586.3L849.8 573.1L850.3 586.3L850.9 520.2L851.5 520.2L852.1 573.1L852.7 586.3L853.3 573.1L853.8 586.3L854.4 573.1L855.0 586.3L855.6 573.1L856.2 573.1L856.8 573.1L857.3 573.1L857.9 573.1L858.5 573.1L859.1 586.3L859.7 573.1L860.3 586.3L860.8 586.3L861.4 586.3L862.0 586.3L862.6 573.1L863.2 573.1L863.7 586.3L864.3 573.1L864.9 586.3L865.5 573.1L866.1 559.9L866.7 573.1L867.2 586.3L867.8 586.3L868.4 586.3L869.0 573.1L869.6 533.4L870.2 533.4L870.7 586.3L871.3 586.3L871.9 573.1L872.5 573.1L873.1 586.3L873.7 573.1L874.2 586.3L874.8 586.3L875.4 573.1L876.0 586.3L876.6 559.9L877.1 586.3L877.7 586.3L878.3 586.3L878.9 586.3L879.5 573.1L880.1 573.1L880.6 520.2L881.2 546.6L881.8 573.1L882.4 573.1L883.0 573.1L883.6 586.3L884.1 573.1L884.7 586.3L885.3 573.1L885.9 573.1L886.5 573.1L887.1 533.4L887.6 559.9L888.2 586.3L888.8 586.3L889.4 573.1L890.0 573.1L890.6 533.4L891.1 559.9L891.7 573.1L892.3 586.3L892.9 573.1L893.5 573.1L894.0 573.1L894.6 573.1L895.2 586.3L895.8 586.3L896.4 533.4L897.0 533.4L897.5 586.3L898.1 586.3L898.7 573.1L899.3 533.4L899.9 559.9L900.5 573.1L901.0 586.3L901.6 573.1L902.2 573.1L902.8 586.3L903.4 573.1L904.0 586.3L904.5 573.1L905.1 573.1L905.7 586.3L906.3 606.1L906.9 586.3L907.4 599.5L908.0 592.9L908.6 573.1L909.2 573.1L909.8 586.3L910.4 586.3L910.9 586.3L911.5 573.1L912.1 586.3L912.7 573.1L913.3 586.3L913.9 573.1L914.4 586.3L915.0 586.3L915.6 586.3L916.2 586.3L916.8 586.3L917.4 586.3L917.9 573.1L918.5 586.3L919.1 533.4L919.7 559.9L920.3 586.3L920.8 586.3L921.4 573.1L922.0 573.1L922.6 586.3L923.2 586.3L923.8 559.9L924.3 573.1L924.9 586.3L925.5 573.1L926.1 559.9L926.7 573.1L927.3 586.3L927.8 573.1L928.4 586.3L929.0 559.9L929.6 573.1L930.2 586.3L930.8 559.9L931.3 573.1L931.9 573.1L932.5 546.6" stroke="#E51E10" stroke-width="2" fill="none" stroke-linejoin="round" stroke-linecap="butt"/>
<path d="M93.5 493.8L95.2 493.8L95.2 546.6L106.8 546.6L106.8 533.4L112.4 533.4L112.4 520.2L118.0 520.2L118.0 507.0L124.3 507.0L124.3 520.2L130.2 520.2L130.2 533.4L136.5 533.4L136.5 546.6L147.0 546.6L147.0 533.4L153.3 533.4L153.3 520.2L158.9 520.2L158.9 507.0L165.2 507.0L165.2 480.6L171.1 480.6L171.1 520.2L176.7 520.2L176.7 559.9L182.6 559.9L182.6 520.2L187.9 520.2L187.9 546.6L194.2 546.6L194.2 493.8L200.1 493.8L200.1 507.0L211.7 507.0L211.7 520.2L228.8 520.2L228.8 427.7L235.1 427.7L235.1 507.0L240.7 507.0L240.7 493.8L246.3 493.8L246.3 546.6L252.6 546.6L252.6 520.2L258.2 520.2L258.2 507.0L264.1 507.0L264.1 520.2L270.0 520.2L270.0 454.1L276.0 454.1L276.0 520.2L281.6 520.2L281.6 507.0L293.5 507.0L293.5 467.4L304.3 467.4L304.3 520.2L310.9 520.2L310.9 507.0L316.5 507.0L316.5 546.6L322.8 546.6L322.8 559.9L327.7 559.9L327.7 507.0L333.3 507.0L333.3 559.9L346.6 559.9L346.6 586.3L351.5 586.3L351.5 573.1L363.4 573.1L363.4 559.9L368.3 559.9L368.3 586.3L386.5 586.3L386.5 533.4L392.4 533.4L392.4 493.8L397.6 493.8L397.6 573.1L403.2 573.1L403.2 586.3L415.8 586.3L415.8 573.1L421.8 573.1L421.8 586.3L433.3 586.3L433.3 573.1L439.2 573.1L439.2 586.3L456.7 586.3L456.7 533.4L461.6 533.4L461.6 559.9L474.2 559.9L474.2 586.3L497.3 586.3L497.3 573.1L503.2 573.1L503.2 586.3L532.2 586.3L532.2 546.6L537.5 546.6L537.5 586.3L556.7 586.3L556.7 507.0L561.9 507.0L561.9 573.1L574.2 573.1L574.2 586.3L596.9 586.3L596.9 559.9L602.1 559.9L602.1 586.3L614.4 586.3L614.4 573.1L619.6 573.1L619.6 586.3L631.9 586.3L631.9 559.9L637.8 559.9L637.8 573.1L649.3 573.1L649.3 586.3L678.0 586.3L678.0 573.1L683.6 573.1L683.6 586.3L701.8 586.3L701.8 573.1L707.0 573.1L707.0 559.9L713.3 559.9L713.3 573.1L724.5 573.1L724.5 559.9L729.7 559.9L729.7 586.3L754.2 586.3L754.2 573.1L764.7 573.1L764.7 586.3L777.6 586.3L777.6 559.9L783.2 559.9L783.2 586.3L794.4 586.3L794.4 559.9L798.6 559.9L798.6 573.1L806.6 573.1L806.6 559.9L823.4 559.9L823.4 573.1L829.7 573.1L829.7 559.9L834.6 559.9L834.6 586.3L841.6 586.3L841.6 573.1L853.8 573.1L853.8 586.3L871.3 586.3L871.3 573.1L881.8 573.1L881.8 586.3L893.0 586.3L893.0 559.9L898.2 559.9L898.2 573.1L904.5 573.1L904.5 546.6L910.8 546.6L910.8 586.3L929.0 586.3L929.0 546.6L932.5 546.6" stroke="#a4a4a4" stroke-width="1" fill="none" stroke-linejoin="round" stroke-linecap="butt"/>
</g>
<rect x="93.5" y="414.5" width="839.0" height="185.0" fill="none" stroke="#000" stroke-width="1"/>
<text x="85" y="605.40" text-anchor="end">0</text>
<text x="85" y="578.40" text-anchor="end">2</text>
<text x="85" y="552.40" text-anchor="end">4</text>
<text x="85" y="526.40" text-anchor="end">6</text>
<text x="85" y="499.40" text-anchor="end">8</text>
<text x="85" y="473.40" text-anchor="end">10</text>
<text x="85" y="446.40" text-anchor="end">12</text>
<text x="85" y="420.40" text-anchor="end">14</text>
<text x="93.50" y="626.7" text-anchor="middle">00</text>
<text x="128.50" y="626.7" text-anchor="middle">01</text>
<text x="163.50" y="626.7" text-anchor="middle">02</text>
<text x="198.50" y="626.7" text-anchor="middle">03</text>
<text x="233.50" y="626.7" text-anchor="middle">04</text>
<text x="268.50" y="626.7" text-anchor="middle">05</text>
<text x="303.50" y="626.7" text-anchor="middle">06</text>
<text x="338.50" y="626.7" text-anchor="middle">07</text>
<text x="373.50" y="626.7" text-anchor="middle">08</text>
<text x="408.50" y="626.7" text-anchor="middle">09</text>
<text x="443.50" y="626.7" text-anchor="middle">10</text>
<text x="478.50" y="626.7" text-anchor="middle">11</text>
<text x="513.50" y="626.7" text-anchor="middle">12</text>
<text x="547.50" y="626.7" text-anchor="middle">13</text>
<text x="582.50" y="626.7" text-anchor="middle">14</text>
<text x="617.50" y="626.7" text-anchor="middle">15</text>
<text x="652.50" y="626.7" text-anchor="middle">16</text>
<text x="687.50" y="626.7" text-anchor="middle">17</text>
<text x="722.50" y="626.7" text-anchor="middle">18</text>
<text x="757.50" y="626.7" text-anchor="middle">19</text>
<text x="792.50" y="626.7" text-anchor="middle">20</text>
<text x="827.50" y="626.7" text-anchor="middle">21</text>
<text x="862.50" y="626.7" text-anchor="middle">22</text>
<text x="897.50" y="626.7" text-anchor="middle">23</text>
<text x="932.50" y="626.7" text-anchor="middle">00</text>
<text x="480.50" y="659.8" textLength="65.30" lengthAdjust="spacingAndGlyphs">time (hr)</text>
<text transform="translate(35.3 184.80) rotate(-90)" textLength="94.60" lengthAdjust="spacingAndGlyphs">temperature</text>
<text transform="translate(55.5 163.40) rotate(-90)" textLength="52.00" lengthAdjust="spacingAndGlyphs">(deg F)</text>
<text transform="translate(35.3 383.90) rotate(-90)" textLength="125.10" lengthAdjust="spacingAndGlyphs">relative humidity</text>
<text transform="translate(55.5 339.10) rotate(-90)" textLength="34.50" lengthAdjust="spacingAndGlyphs">(pct)</text>
<text transform="translate(35.3 602.10) rotate(-90)" textLength="189.70" lengthAdjust="spacingAndGlyphs">2.5um particulate matter</text>
<text transform="translate(55.5 537.10) rotate(-90)" textLength="60.10" lengthAdjust="spacingAndGlyphs">(ug/m3)</text>
<text x="180.50" y="683.8" textLength="67.40" lengthAdjust="spacingAndGlyphs">0.7m-top</text>
<line x1="257.50" y1="678.5" x2="301.70" y2="678.5" stroke="#9400D3" stroke-width="2"/>
<text x="177.30" y="705.1" textLength="70.60" lengthAdjust="spacingAndGlyphs">0.7m-mid</text>
<line x1="257.50" y1="699.5" x2="301.70" y2="699.5" stroke="#009E73" stroke-width="2"/>
<text x="315.20" y="683.8" textLength="67.40" lengthAdjust="spacingAndGlyphs">0.7m-bot</text>
<line x1="392.20" y1="678.5" x2="436.40" y2="678.5" stroke="#56B4E9" stroke-width="2"/>
<text x="330.70" y="705.1" textLength="51.90" lengthAdjust="spacingAndGlyphs">ctrl-rm</text>
<line x1="392.20" y1="699.5" x2="436.40" y2="699.5" stroke="#E69F00" stroke-width="2"/>
<text x="486.30" y="683.8" textLength="31.00" lengthAdjust="spacingAndGlyphs">12in</text>
<line x1="526.90" y1="678.5" x2="571.10" y2="678.5" stroke="#F0E442" stroke-width="2"/>
<text x="495.10" y="705.1" textLength="22.20" lengthAdjust="spacingAndGlyphs">6in</text>
<line x1="526.90" y1="699.5" x2="571.10" y2="699.5" stroke="#0072B2" stroke-width="2"/>
<text x="600.60" y="683.8" textLength="51.70" lengthAdjust="spacingAndGlyphs">grnd-fl</text>
<line x1="661.90" y1="678.5" x2="706.10" y2="678.5" stroke="#E51E10" stroke-width="2"/>
<text x="613.70" y="705.1" textLength="38.60" lengthAdjust="spacingAndGlyphs">bsmt</text>
<line x1="661.90" y1="699.5" x2="706.10" y2="699.5" stroke="#000000" stroke-width="2"/>
<text x="754.60" y="683.8" textLength="32.00" lengthAdjust="spacingAndGlyphs">roof</text>
<line x1="796.20" y1="678.5" x2="840.40" y2="678.5" stroke="#A0A0A0" stroke-width="1"/>
<text x="760.20" y="705.1" textLength="26.40" lengthAdjust="spacingAndGlyphs">113</text>
<line x1="796.20" y1="699.5" x2="840.40" y2="699.5" stroke="#D0D0D0" stroke-width="1"/>
</svg></body></html>
